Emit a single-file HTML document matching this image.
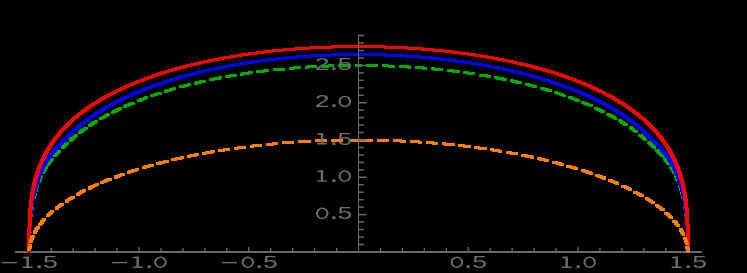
<!DOCTYPE html><html><head><meta charset="utf-8"><style>html,body{margin:0;padding:0;background:#000;}body{width:747px;height:273px;overflow:hidden;}svg{display:block;}text{font-family:"Liberation Mono",monospace;fill:#6e6e6e;}</style></head><body>
<svg width="747" height="273" viewBox="0 0 747 273">
<rect width="747" height="273" fill="#000"/>
<rect shape-rendering="crispEdges" x="15" y="251" width="687" height="2" fill="#6a6a6a"/>
<clipPath id="c"><rect x="0" y="0" width="747" height="252.8"/></clipPath>
<g shape-rendering="crispEdges" stroke="none" clip-path="url(#c)">
<path d="M358.8 66.9 358.3 66.9 357.9 66.9 357.4 66.9 357.1 66.9 356.1 63.9 356.5 63.9 357.1 63.9 357.6 63.9 358.2 63.9Z M356.5 63.9 360.5 63.9 360.5 66.9 356.5 66.9Z M354.6 63.9 358.6 63.9 358.6 66.9 354.6 66.9Z M348.7 67.0 348.2 67.0 347.7 67.0 347.2 67.0 346.7 67.0 346.2 67.0 345.7 67.0 345.1 67.0 344.6 67.0 344.1 67.0 343.6 67.0 343.1 67.1 342.6 67.1 342.1 67.1 341.6 67.1 341.1 67.1 340.6 67.1 338.9 64.1 339.4 64.1 339.9 64.1 340.5 64.1 341.0 64.1 341.5 64.1 342.0 64.1 342.5 64.0 343.1 64.0 343.6 64.0 344.1 64.0 344.6 64.0 345.2 64.0 345.7 64.0 346.2 64.0 346.7 64.0 347.3 64.0Z M346.0 64.0 350.0 64.0 350.0 67.0 346.0 67.0Z M337.7 64.1 341.7 64.1 341.7 67.1 337.7 67.1Z M332.6 67.3 332.0 67.4 331.5 67.4 331.0 67.4 330.5 67.4 330.0 67.4 329.5 67.4 329.0 67.5 328.5 67.5 327.9 67.5 327.4 67.5 326.9 67.5 326.4 67.6 325.9 67.6 325.4 67.6 324.9 67.6 324.4 67.6 322.4 64.7 322.9 64.6 323.5 64.6 324.0 64.6 324.5 64.6 325.0 64.6 325.5 64.5 326.1 64.5 326.6 64.5 327.1 64.5 327.6 64.5 328.1 64.4 328.6 64.4 329.2 64.4 329.7 64.4 330.2 64.4 330.7 64.3Z M329.6 64.3 333.6 64.3 333.6 67.3 329.6 67.3Z M321.4 64.7 325.4 64.7 325.4 67.7 321.4 67.7Z M316.4 68.0 315.9 68.1 315.4 68.1 314.8 68.1 314.3 68.1 313.8 68.2 313.3 68.2 312.8 68.2 312.3 68.3 311.8 68.3 311.3 68.3 310.8 68.4 310.3 68.4 309.8 68.4 309.3 68.4 308.7 68.5 308.2 68.5 308.1 68.5 305.9 65.5 306.1 65.5 306.6 65.5 307.1 65.5 307.6 65.4 308.1 65.4 308.7 65.4 309.2 65.3 309.7 65.3 310.2 65.3 310.7 65.3 311.2 65.2 311.8 65.2 312.3 65.2 312.8 65.1 313.3 65.1 313.8 65.1 314.3 65.1Z M313.4 65.0 317.4 65.0 317.4 68.0 313.4 68.0Z M305.0 65.5 309.0 65.5 309.0 68.5 305.0 68.5Z M300.1 69.1 299.6 69.1 299.1 69.1 298.6 69.2 298.1 69.2 297.6 69.3 297.1 69.3 296.6 69.3 296.1 69.4 295.6 69.4 295.1 69.5 294.6 69.5 294.1 69.5 293.5 69.6 293.0 69.6 292.5 69.7 292.0 69.7 291.9 69.7 289.6 66.8 289.7 66.7 290.3 66.7 290.8 66.7 291.3 66.6 291.8 66.6 292.3 66.5 292.8 66.5 293.3 66.5 293.8 66.4 294.3 66.4 294.8 66.3 295.3 66.3 295.9 66.3 296.4 66.2 296.9 66.2 297.4 66.1 297.9 66.1Z M297.0 66.1 301.0 66.1 301.0 69.1 297.0 69.1Z M288.7 66.7 292.7 66.7 292.7 69.7 288.7 69.7Z M284.0 70.4 283.5 70.5 283.0 70.5 282.5 70.6 282.0 70.6 281.5 70.7 281.0 70.7 280.5 70.8 280.0 70.8 279.5 70.9 279.0 70.9 278.5 71.0 278.0 71.0 277.5 71.1 277.0 71.1 276.5 71.2 276.0 71.2 275.7 71.3 273.2 68.3 273.6 68.3 274.1 68.2 274.6 68.2 275.1 68.1 275.6 68.1 276.1 68.0 276.6 68.0 277.1 67.9 277.6 67.9 278.1 67.8 278.6 67.8 279.1 67.7 279.6 67.7 280.1 67.6 280.6 67.6 281.1 67.5 281.6 67.5Z M280.8 67.5 284.8 67.5 284.8 70.5 280.8 70.5Z M272.5 68.3 276.5 68.3 276.5 71.3 272.5 71.3Z M268.0 72.1 267.5 72.2 267.1 72.3 266.6 72.3 266.1 72.4 265.6 72.4 265.1 72.5 264.6 72.6 264.1 72.6 263.6 72.7 263.1 72.7 262.6 72.8 262.1 72.9 261.6 72.9 261.1 73.0 260.6 73.1 260.2 73.1 259.7 73.2 257.1 70.2 257.6 70.2 258.1 70.1 258.6 70.1 259.1 70.0 259.6 69.9 260.1 69.9 260.6 69.8 261.1 69.7 261.6 69.7 262.1 69.6 262.6 69.6 263.1 69.5 263.6 69.4 264.1 69.4 264.6 69.3 265.1 69.3 265.6 69.2Z M264.8 69.2 268.8 69.2 268.8 72.2 264.8 72.2Z M256.4 70.2 260.4 70.2 260.4 73.2 256.4 73.2Z M252.2 74.2 251.7 74.3 251.2 74.3 250.7 74.4 250.2 74.5 249.7 74.5 249.2 74.6 248.8 74.7 248.3 74.8 247.8 74.8 247.3 74.9 246.8 75.0 246.3 75.0 245.8 75.1 245.4 75.2 244.9 75.3 244.4 75.3 243.9 75.4 243.8 75.4 241.1 72.5 241.3 72.5 241.8 72.4 242.3 72.3 242.7 72.3 243.2 72.2 243.7 72.1 244.2 72.1 244.7 72.0 245.2 71.9 245.7 71.8 246.2 71.8 246.6 71.7 247.1 71.6 247.6 71.5 248.1 71.5 248.6 71.4 249.1 71.3 249.6 71.3Z M248.9 71.2 252.9 71.2 252.9 74.2 248.9 74.2Z M240.4 72.5 244.4 72.5 244.4 75.5 240.4 75.5Z M236.4 76.6 235.9 76.7 235.4 76.8 235.0 76.9 234.5 76.9 234.0 77.0 233.5 77.1 233.0 77.2 232.6 77.3 232.1 77.4 231.6 77.4 231.1 77.5 230.7 77.6 230.2 77.7 229.7 77.8 229.3 77.9 228.8 77.9 228.3 78.0 228.1 78.0 225.4 75.1 225.6 75.1 226.1 75.0 226.5 74.9 227.0 74.9 227.5 74.8 228.0 74.7 228.5 74.6 228.9 74.5 229.4 74.4 229.9 74.4 230.4 74.3 230.8 74.2 231.3 74.1 231.8 74.0 232.3 73.9 232.8 73.9 233.2 73.8 233.7 73.7Z M233.1 73.7 237.1 73.7 237.1 76.7 233.1 76.7Z M224.8 75.1 228.8 75.1 228.8 78.1 224.8 78.1Z M220.9 79.4 220.5 79.5 220.0 79.6 219.5 79.7 219.1 79.8 218.6 79.8 218.1 79.9 217.7 80.0 217.2 80.1 216.7 80.2 216.3 80.3 215.8 80.4 215.4 80.5 214.9 80.6 214.4 80.7 214.0 80.8 213.5 80.9 213.0 81.0 212.6 81.1 209.8 78.2 210.2 78.1 210.7 78.0 211.2 77.9 211.6 77.8 212.1 77.7 212.6 77.6 213.0 77.5 213.5 77.4 214.0 77.3 214.4 77.2 214.9 77.1 215.4 77.0 215.8 76.9 216.3 76.9 216.8 76.8 217.2 76.7 217.7 76.6 218.2 76.5Z M217.6 76.4 221.6 76.4 221.6 79.4 217.6 79.4Z M209.2 78.1 213.2 78.1 213.2 81.1 209.2 81.1Z M205.7 82.5 205.2 82.6 204.8 82.7 204.3 82.8 203.9 82.9 203.4 83.0 203.0 83.2 202.5 83.3 202.1 83.4 201.6 83.5 201.2 83.6 200.7 83.7 200.3 83.8 199.8 83.9 199.4 84.0 198.9 84.1 198.5 84.2 198.0 84.3 197.6 84.4 197.4 84.4 194.5 81.6 194.7 81.5 195.1 81.4 195.6 81.3 196.0 81.2 196.5 81.1 196.9 81.0 197.4 80.9 197.8 80.8 198.3 80.7 198.8 80.6 199.2 80.5 199.7 80.4 200.1 80.3 200.6 80.2 201.0 80.1 201.5 80.0 201.9 79.9 202.4 79.8 202.9 79.7Z M202.3 79.6 206.3 79.6 206.3 82.6 202.3 82.6Z M194.0 81.5 198.0 81.5 198.0 84.5 194.0 84.5Z M190.6 86.1 190.1 86.2 189.7 86.3 189.3 86.5 188.8 86.6 188.4 86.7 187.9 86.8 187.5 86.9 187.1 87.0 186.6 87.1 186.2 87.2 185.7 87.4 185.3 87.5 184.9 87.6 184.4 87.7 184.0 87.8 183.6 87.9 183.1 88.1 182.7 88.2 182.5 88.2 179.6 85.4 179.7 85.3 180.2 85.2 180.6 85.1 181.0 85.0 181.5 84.9 181.9 84.7 182.4 84.6 182.8 84.5 183.2 84.4 183.7 84.3 184.1 84.2 184.6 84.0 185.0 83.9 185.4 83.8 185.9 83.7 186.3 83.6 186.8 83.5 187.2 83.4 187.7 83.2Z M187.1 83.2 191.1 83.2 191.1 86.2 187.1 86.2Z M179.1 85.3 183.1 85.3 183.1 88.3 179.1 88.3Z M175.9 90.1 175.5 90.2 175.1 90.3 174.6 90.4 174.2 90.5 173.8 90.7 173.4 90.8 172.9 90.9 172.5 91.0 172.1 91.2 171.7 91.3 171.2 91.4 170.8 91.5 170.4 91.7 170.0 91.8 169.6 91.9 169.1 92.1 168.7 92.2 168.3 92.3 167.9 92.4 164.9 89.6 165.3 89.5 165.7 89.3 166.1 89.2 166.5 89.1 167.0 89.0 167.4 88.8 167.8 88.7 168.2 88.6 168.7 88.5 169.1 88.3 169.5 88.2 169.9 88.1 170.4 88.0 170.8 87.8 171.2 87.7 171.7 87.6 172.1 87.5 172.5 87.3 172.9 87.2Z M172.4 87.1 176.4 87.1 176.4 90.1 172.4 90.1Z M164.4 89.5 168.4 89.5 168.4 92.5 164.4 92.5Z M161.7 94.4 161.2 94.5 160.8 94.7 160.4 94.8 160.0 94.9 159.6 95.1 159.2 95.2 158.8 95.3 158.4 95.5 158.0 95.6 157.6 95.8 157.2 95.9 156.7 96.0 156.3 96.2 155.9 96.3 155.5 96.4 155.1 96.6 154.7 96.7 154.3 96.9 153.9 97.0 153.8 97.0 150.7 94.2 150.8 94.2 151.2 94.0 151.6 93.9 152.0 93.8 152.4 93.6 152.9 93.5 153.3 93.4 153.7 93.2 154.1 93.1 154.5 92.9 154.9 92.8 155.3 92.7 155.7 92.5 156.1 92.4 156.5 92.3 156.9 92.1 157.4 92.0 157.8 91.8 158.2 91.7 158.6 91.6Z M158.1 91.5 162.1 91.5 162.1 94.5 158.1 94.5Z M150.2 94.1 154.2 94.1 154.2 97.1 150.2 97.1Z M147.7 99.2 147.3 99.4 146.9 99.5 146.5 99.7 146.1 99.8 145.7 100.0 145.3 100.1 144.9 100.2 144.5 100.4 144.2 100.5 143.8 100.7 143.4 100.8 143.0 101.0 142.6 101.1 142.2 101.3 141.8 101.4 141.4 101.6 141.1 101.7 140.7 101.9 140.3 102.0 140.2 102.1 137.0 99.3 137.1 99.2 137.5 99.1 137.9 98.9 138.3 98.8 138.7 98.6 139.1 98.5 139.4 98.3 139.8 98.2 140.2 98.0 140.6 97.9 141.0 97.7 141.4 97.6 141.8 97.5 142.2 97.3 142.6 97.2 143.0 97.0 143.4 96.9 143.8 96.7 144.2 96.6 144.6 96.4Z M144.1 96.3 148.1 96.3 148.1 99.3 144.1 99.3Z M136.6 99.2 140.6 99.2 140.6 102.2 136.6 102.2Z M134.3 104.4 134.0 104.6 133.6 104.8 133.2 104.9 132.8 105.1 132.5 105.2 132.1 105.4 131.7 105.5 131.3 105.7 131.0 105.9 130.6 106.0 130.2 106.2 129.9 106.3 129.5 106.5 129.1 106.7 128.8 106.8 128.4 107.0 128.0 107.1 127.7 107.3 127.3 107.5 127.1 107.6 123.8 104.8 124.1 104.7 124.4 104.5 124.8 104.4 125.2 104.2 125.5 104.1 125.9 103.9 126.3 103.7 126.7 103.6 127.0 103.4 127.4 103.2 127.8 103.1 128.1 102.9 128.5 102.8 128.9 102.6 129.3 102.5 129.6 102.3 130.0 102.1 130.4 102.0 130.8 101.8 131.1 101.7Z M130.7 101.6 134.7 101.6 134.7 104.6 130.7 104.6Z M123.4 104.7 127.4 104.7 127.4 107.7 123.4 107.7Z M121.5 110.1 121.2 110.3 120.8 110.4 120.5 110.6 120.1 110.8 119.8 110.9 119.4 111.1 119.1 111.3 118.7 111.4 118.4 111.6 118.0 111.8 117.7 112.0 117.3 112.1 117.0 112.3 116.6 112.5 116.3 112.6 115.9 112.8 115.6 113.0 115.2 113.2 114.9 113.3 114.7 113.5 111.4 110.7 111.6 110.6 111.9 110.4 112.3 110.3 112.6 110.1 113.0 109.9 113.3 109.7 113.7 109.6 114.0 109.4 114.4 109.2 114.7 109.1 115.1 108.9 115.4 108.7 115.8 108.5 116.1 108.4 116.5 108.2 116.9 108.0 117.2 107.9 117.6 107.7 117.9 107.5 118.3 107.4Z M117.9 107.2 121.9 107.2 121.9 110.2 117.9 110.2Z M111.0 110.6 115.0 110.6 115.0 113.6 111.0 113.6Z M109.5 116.2 109.1 116.3 108.8 116.5 108.5 116.7 108.1 116.9 107.8 117.1 107.5 117.2 107.1 117.4 106.8 117.6 106.5 117.8 106.2 118.0 105.8 118.2 105.5 118.3 105.2 118.5 104.8 118.7 104.5 118.9 104.2 119.1 103.9 119.3 103.5 119.4 103.2 119.6 103.0 119.7 99.6 117.1 99.9 116.9 100.2 116.7 100.5 116.6 100.8 116.4 101.2 116.2 101.5 116.0 101.8 115.8 102.1 115.6 102.5 115.5 102.8 115.3 103.1 115.1 103.5 114.9 103.8 114.7 104.1 114.5 104.5 114.4 104.8 114.2 105.1 114.0 105.5 113.8 105.8 113.6 106.1 113.5Z M105.8 113.3 109.8 113.3 109.8 116.3 105.8 116.3Z M99.3 116.9 103.3 116.9 103.3 119.9 99.3 119.9Z M98.0 122.7 97.7 122.9 97.4 123.1 97.1 123.3 96.8 123.5 96.5 123.7 96.2 123.9 95.9 124.0 95.6 124.2 95.3 124.4 95.0 124.6 94.6 124.8 94.3 125.0 94.0 125.2 93.7 125.4 93.4 125.6 93.1 125.8 92.8 126.0 92.5 126.2 92.2 126.4 92.0 126.5 88.6 123.9 88.8 123.7 89.1 123.5 89.4 123.3 89.7 123.1 90.0 122.9 90.3 122.8 90.6 122.6 90.9 122.4 91.2 122.2 91.5 122.0 91.9 121.8 92.2 121.6 92.5 121.4 92.8 121.2 93.1 121.0 93.4 120.8 93.7 120.6 94.0 120.4 94.3 120.2 94.7 120.0Z M94.3 119.9 98.3 119.9 98.3 122.9 94.3 122.9Z M88.3 123.7 92.3 123.7 92.3 126.7 88.3 126.7Z M87.5 129.6 87.2 129.8 86.9 130.0 86.7 130.2 86.4 130.4 86.1 130.6 85.8 130.8 85.5 131.0 85.2 131.2 85.0 131.4 84.7 131.6 84.4 131.9 84.1 132.1 83.8 132.3 83.5 132.5 83.3 132.7 83.0 132.9 82.7 133.1 82.4 133.3 82.2 133.5 82.0 133.7 78.5 131.1 78.7 130.9 78.9 130.7 79.2 130.5 79.5 130.3 79.8 130.1 80.1 129.9 80.3 129.7 80.6 129.4 80.9 129.2 81.2 129.0 81.5 128.8 81.8 128.6 82.1 128.4 82.3 128.2 82.6 128.0 82.9 127.8 83.2 127.6 83.5 127.4 83.8 127.2 84.1 127.0Z M83.8 126.8 87.8 126.8 87.8 129.8 83.8 129.8Z M78.2 130.9 82.2 130.9 82.2 133.9 78.2 133.9Z M77.8 136.9 77.6 137.1 77.3 137.4 77.0 137.6 76.8 137.8 76.5 138.0 76.3 138.2 76.0 138.4 75.7 138.7 75.5 138.9 75.2 139.1 75.0 139.3 74.7 139.5 74.4 139.8 74.2 140.0 73.9 140.2 73.7 140.4 73.4 140.6 73.2 140.9 72.9 141.1 72.8 141.2 69.2 138.7 69.4 138.5 69.6 138.3 69.9 138.1 70.1 137.9 70.4 137.6 70.6 137.4 70.9 137.2 71.2 137.0 71.4 136.8 71.7 136.5 71.9 136.3 72.2 136.1 72.5 135.9 72.7 135.7 73.0 135.4 73.3 135.2 73.5 135.0 73.8 134.8 74.0 134.6 74.3 134.3Z M74.1 134.1 78.1 134.1 78.1 137.1 74.1 137.1Z M69.0 138.5 73.0 138.5 73.0 141.5 69.0 141.5Z M69.1 144.6 68.8 144.9 68.6 145.1 68.4 145.3 68.1 145.5 67.9 145.8 67.6 146.0 67.4 146.2 67.2 146.5 66.9 146.7 66.7 146.9 66.5 147.2 66.2 147.4 66.0 147.6 65.8 147.8 65.5 148.1 65.3 148.3 65.1 148.5 64.8 148.7 64.6 148.9 64.5 149.1 60.9 146.5 61.0 146.4 61.3 146.2 61.5 146.0 61.7 145.7 62.0 145.5 62.2 145.3 62.4 145.1 62.6 144.9 62.9 144.7 63.1 144.4 63.3 144.2 63.6 144.0 63.8 143.7 64.0 143.5 64.3 143.3 64.5 143.0 64.8 142.8 65.0 142.6 65.2 142.3 65.5 142.1Z M65.3 141.9 69.3 141.9 69.3 144.9 65.3 144.9Z M60.7 146.3 64.7 146.3 64.7 149.3 60.7 149.3Z M60.9 152.5 60.7 152.8 60.5 153.0 60.3 153.2 60.1 153.4 59.9 153.6 59.7 153.9 59.5 154.1 59.2 154.3 59.0 154.5 58.8 154.8 58.6 155.0 58.4 155.2 58.2 155.4 58.0 155.6 57.8 155.9 57.6 156.1 57.4 156.3 57.2 156.5 57.0 156.8 56.8 157.0 56.7 157.1 53.1 154.6 53.2 154.5 53.4 154.3 53.6 154.1 53.8 153.8 54.0 153.6 54.2 153.4 54.4 153.2 54.6 152.9 54.8 152.7 55.0 152.5 55.2 152.3 55.4 152.0 55.6 151.8 55.8 151.6 56.0 151.4 56.3 151.2 56.5 150.9 56.7 150.7 56.9 150.5 57.1 150.3 57.3 150.0Z M57.1 149.8 61.1 149.8 61.1 152.8 57.1 152.8Z M52.9 154.3 56.9 154.3 56.9 157.3 52.9 157.3Z M53.7 160.6 53.5 160.8 53.3 161.1 53.1 161.3 53.0 161.5 52.8 161.8 52.6 162.0 52.4 162.2 52.2 162.5 52.0 162.7 51.9 162.9 51.7 163.1 51.5 163.4 51.3 163.6 51.1 163.8 51.0 164.1 50.8 164.3 50.6 164.5 50.4 164.8 50.3 165.0 50.1 165.2 50.0 165.3 46.3 162.9 46.4 162.9 46.6 162.6 46.7 162.4 46.9 162.1 47.1 161.9 47.3 161.7 47.5 161.4 47.6 161.2 47.8 161.0 48.0 160.7 48.2 160.5 48.4 160.3 48.5 160.0 48.7 159.8 48.9 159.6 49.1 159.3 49.3 159.1 49.5 158.9 49.7 158.6 49.8 158.4 50.0 158.2Z M49.9 157.9 53.9 157.9 53.9 160.9 49.9 160.9Z M46.2 162.6 50.2 162.6 50.2 165.6 46.2 165.6Z M47.4 169.0 47.3 169.3 47.1 169.5 46.9 169.8 46.7 170.1 46.5 170.5 46.4 170.7 46.2 171.0 46.1 171.2 45.9 171.5 45.7 171.8 45.6 172.1 45.4 172.4 45.3 172.6 45.1 172.9 45.0 173.2 44.9 173.5 44.7 173.8 40.9 171.5 41.1 171.3 41.2 171.0 41.4 170.7 41.5 170.4 41.7 170.1 41.8 169.8 42.0 169.5 42.1 169.3 42.3 169.0 42.4 168.7 42.6 168.4 42.8 168.1 43.0 167.8 43.2 167.5 43.4 167.2 43.6 166.9 43.7 166.7Z M43.6 166.3 47.6 166.3 47.6 169.3 43.6 169.3Z M40.8 171.2 44.8 171.2 44.8 174.2 40.8 174.2Z M42.8 177.6 42.7 177.9 42.6 178.2 42.4 178.5 42.3 178.8 42.2 179.1 42.0 179.4 41.9 179.7 41.8 180.0 41.6 180.3 41.5 180.6 41.4 180.9 41.3 181.2 41.1 181.5 41.0 181.8 40.9 182.1 40.8 182.4 40.7 182.6 36.8 180.5 36.9 180.3 37.0 179.9 37.2 179.6 37.3 179.3 37.4 179.0 37.5 178.7 37.7 178.4 37.8 178.1 37.9 177.8 38.1 177.5 38.2 177.2 38.3 176.9 38.5 176.6 38.6 176.3 38.7 176.0 38.9 175.7 39.0 175.4Z M38.9 175.0 42.9 175.0 42.9 178.0 38.9 178.0Z M36.8 180.0 40.8 180.0 40.8 183.0 36.8 183.0Z M39.2 186.5 39.1 186.8 39.0 187.1 38.9 187.5 38.7 187.8 38.6 188.1 38.5 188.4 38.4 188.7 38.3 189.0 38.2 189.4 38.1 189.7 38.0 190.0 37.9 190.3 37.8 190.7 37.7 191.0 37.6 191.3 37.6 191.4 33.7 189.4 33.7 189.3 33.8 189.0 33.9 188.6 34.0 188.3 34.1 188.0 34.2 187.6 34.3 187.3 34.4 187.0 34.5 186.7 34.7 186.3 34.8 186.0 34.9 185.7 35.0 185.4 35.1 185.1 35.2 184.7 35.3 184.4Z M35.3 184.0 39.3 184.0 39.3 187.0 35.3 187.0Z M33.6 188.9 37.6 188.9 37.6 191.9 33.6 191.9Z M36.4 195.4 36.3 195.7 36.2 196.1 36.1 196.4 36.0 196.8 36.0 197.1 35.9 197.5 35.8 197.8 35.7 198.2 35.6 198.5 35.5 198.8 35.5 199.2 35.4 199.6 35.3 199.9 35.2 200.3 35.2 200.4 31.3 198.5 31.3 198.4 31.4 198.0 31.5 197.7 31.5 197.3 31.6 196.9 31.7 196.6 31.8 196.2 31.9 195.9 32.0 195.5 32.1 195.2 32.1 194.8 32.2 194.5 32.3 194.1 32.4 193.8 32.5 193.5Z M32.5 192.9 36.5 192.9 36.5 195.9 32.5 195.9Z M31.2 197.9 35.2 197.9 35.2 200.9 31.2 200.9Z M34.4 204.4 34.3 204.7 34.2 205.1 34.1 205.5 34.1 205.8 34.0 206.2 33.9 206.6 33.9 207.0 33.8 207.3 33.8 207.7 33.7 208.1 33.6 208.5 33.6 208.9 33.5 209.3 33.5 209.4 29.5 207.7 29.6 207.5 29.6 207.1 29.7 206.8 29.7 206.4 29.8 206.0 29.9 205.6 29.9 205.2 30.0 204.8 30.1 204.4 30.1 204.0 30.2 203.7 30.3 203.3 30.4 202.9 30.4 202.5Z M30.4 201.9 34.4 201.9 34.4 204.9 30.4 204.9Z M29.5 207.0 33.5 207.0 33.5 210.0 29.5 210.0Z M32.9 213.4 32.9 213.8 32.8 214.2 32.8 214.6 32.7 215.0 32.7 215.5 32.6 215.9 32.6 216.3 32.5 216.7 32.5 217.2 32.4 217.6 32.4 218.0 32.4 218.5 28.4 216.9 28.4 216.5 28.5 216.0 28.5 215.6 28.6 215.1 28.6 214.7 28.7 214.3 28.7 213.8 28.8 213.4 28.8 213.0 28.9 212.6 28.9 212.2 29.0 211.7Z M28.9 211.1 32.9 211.1 32.9 214.1 28.9 214.1Z M28.4 216.2 32.4 216.2 32.4 219.2 28.4 219.2Z M32.0 222.3 32.0 222.8 32.0 223.3 31.9 223.7 31.9 224.2 31.9 224.7 31.8 225.2 31.8 225.7 31.8 226.1 31.7 226.6 31.7 227.1 31.7 227.3 27.7 226.0 27.7 225.8 27.8 225.3 27.8 224.8 27.8 224.3 27.8 223.8 27.9 223.3 27.9 222.8 27.9 222.3 28.0 221.8 28.0 221.4 28.0 220.9Z M28.0 220.1 32.0 220.1 32.0 223.1 28.0 223.1Z M27.7 225.1 31.7 225.1 31.7 228.1 27.7 228.1Z M31.5 231.3 31.5 231.9 31.5 232.4 31.5 233.0 31.4 233.6 31.4 234.0 31.4 234.3 31.4 234.7 31.4 235.1 31.4 235.5 31.4 235.9 31.4 236.4 27.4 235.3 27.4 234.9 27.4 234.4 27.4 234.0 27.4 233.6 27.4 233.2 27.4 232.8 27.5 232.4 27.5 231.8 27.5 231.2 27.5 230.7 27.5 230.1Z M27.5 229.2 31.5 229.2 31.5 232.2 27.5 232.2Z M27.4 234.3 31.4 234.3 31.4 237.3 27.4 237.3Z M31.3 240.3 31.3 240.8 31.3 241.3 31.3 241.8 31.3 242.3 31.3 242.8 31.3 243.3 31.3 243.9 31.3 244.5 31.3 245.1 31.3 245.4 27.3 244.6 27.3 244.3 27.3 243.7 27.3 243.1 27.3 242.5 27.3 242.0 27.3 241.4 27.3 240.9 27.3 240.4 27.3 239.9 27.3 239.4Z M27.3 238.3 31.3 238.3 31.3 241.3 27.3 241.3Z M27.3 243.5 31.3 243.5 31.3 246.5 27.3 246.5Z M31.3 249.3 31.3 249.8 31.3 250.3 31.3 250.9 31.2 252.0 27.3 251.8 27.3 250.7 27.3 250.0 27.3 249.4 27.3 248.9Z M27.3 247.6 31.3 247.6 31.3 250.6 27.3 250.6Z M27.2 250.4 31.2 250.4 31.2 253.4 27.2 253.4Z M358.8 63.9 359.4 63.9 359.9 63.9 360.1 63.9 359.3 66.9 359.1 66.9 358.7 66.9 358.2 66.9Z M356.5 63.9 360.5 63.9 360.5 66.9 356.5 66.9Z M357.7 63.9 361.7 63.9 361.7 66.9 357.7 66.9Z M368.7 64.0 369.2 64.0 369.7 64.0 370.3 64.0 370.8 64.0 371.3 64.0 371.8 64.0 372.4 64.0 372.9 64.0 373.4 64.0 373.9 64.0 374.5 64.0 375.0 64.1 375.5 64.1 376.0 64.1 376.5 64.1 376.9 64.1 375.3 67.1 374.9 67.1 374.4 67.1 373.9 67.1 373.4 67.0 372.9 67.0 372.4 67.0 371.9 67.0 371.3 67.0 370.8 67.0 370.3 67.0 369.8 67.0 369.3 67.0 368.8 67.0 368.3 67.0 367.8 67.0 367.3 67.0Z M366.0 64.0 370.0 64.0 370.0 67.0 366.0 67.0Z M374.1 64.1 378.1 64.1 378.1 67.1 374.1 67.1Z M385.2 64.3 385.8 64.3 386.3 64.3 386.8 64.4 387.3 64.4 387.8 64.4 388.4 64.4 388.9 64.4 389.4 64.5 389.9 64.5 390.4 64.5 390.9 64.5 391.5 64.5 392.0 64.6 392.5 64.6 393.0 64.6 393.5 64.6 391.6 67.6 391.1 67.6 390.6 67.6 390.1 67.5 389.6 67.5 389.1 67.5 388.5 67.5 388.0 67.5 387.5 67.4 387.0 67.4 386.5 67.4 386.0 67.4 385.5 67.4 385.0 67.4 384.5 67.3 383.9 67.3 383.4 67.3Z M382.3 64.3 386.3 64.3 386.3 67.3 382.3 67.3Z M390.6 64.6 394.6 64.6 394.6 67.6 390.6 67.6Z M401.6 65.0 402.2 65.0 402.7 65.1 403.2 65.1 403.7 65.1 404.2 65.1 404.7 65.2 405.2 65.2 405.8 65.2 406.3 65.3 406.8 65.3 407.3 65.3 407.8 65.3 408.3 65.4 408.9 65.4 409.4 65.4 409.9 65.5 410.0 65.5 407.9 68.5 407.7 68.4 407.2 68.4 406.7 68.4 406.2 68.4 405.7 68.3 405.2 68.3 404.7 68.3 404.2 68.2 403.7 68.2 403.2 68.2 402.7 68.1 402.2 68.1 401.6 68.1 401.1 68.1 400.6 68.0 400.1 68.0 399.6 68.0Z M398.6 65.0 402.6 65.0 402.6 68.0 398.6 68.0Z M407.0 65.5 411.0 65.5 411.0 68.5 407.0 68.5Z M417.9 66.0 418.4 66.1 418.9 66.1 419.4 66.1 420.0 66.2 420.5 66.2 421.0 66.2 421.5 66.3 422.0 66.3 422.5 66.4 423.0 66.4 423.5 66.4 424.0 66.5 424.5 66.5 425.1 66.6 425.6 66.6 426.1 66.6 426.4 66.7 424.1 69.6 423.8 69.6 423.3 69.6 422.8 69.5 422.3 69.5 421.8 69.4 421.3 69.4 420.8 69.4 420.3 69.3 419.7 69.3 419.2 69.2 418.7 69.2 418.2 69.2 417.7 69.1 417.2 69.1 416.7 69.1 416.2 69.0 415.7 69.0Z M414.8 66.0 418.8 66.0 418.8 69.0 414.8 69.0Z M423.3 66.7 427.3 66.7 427.3 69.7 423.3 69.7Z M434.2 67.4 434.7 67.4 435.2 67.5 435.7 67.5 436.2 67.6 436.7 67.6 437.2 67.7 437.7 67.7 438.2 67.8 438.7 67.8 439.2 67.9 439.7 67.9 440.2 68.0 440.7 68.0 441.2 68.1 441.8 68.1 442.3 68.2 442.6 68.2 440.2 71.2 439.8 71.1 439.3 71.1 438.8 71.0 438.3 71.0 437.8 70.9 437.3 70.9 436.8 70.8 436.3 70.8 435.8 70.7 435.3 70.7 434.8 70.6 434.3 70.6 433.8 70.5 433.3 70.5 432.8 70.4 432.3 70.4 431.8 70.3Z M431.0 67.3 435.0 67.3 435.0 70.3 431.0 70.3Z M439.4 68.2 443.4 68.2 443.4 71.2 439.4 71.2Z M450.3 69.1 450.8 69.1 451.3 69.2 451.8 69.2 452.3 69.3 452.8 69.4 453.3 69.4 453.8 69.5 454.2 69.5 454.7 69.6 455.2 69.7 455.7 69.7 456.2 69.8 456.7 69.8 457.2 69.9 457.7 70.0 458.2 70.0 458.7 70.1 456.2 73.0 455.7 73.0 455.2 72.9 454.7 72.8 454.2 72.8 453.7 72.7 453.2 72.7 452.7 72.6 452.3 72.5 451.8 72.5 451.3 72.4 450.8 72.4 450.3 72.3 449.8 72.2 449.3 72.2 448.8 72.1 448.3 72.1 447.8 72.0Z M447.0 69.0 451.0 69.0 451.0 72.0 447.0 72.0Z M455.5 70.1 459.5 70.1 459.5 73.1 455.5 73.1Z M466.3 71.1 466.8 71.2 467.3 71.2 467.7 71.3 468.2 71.4 468.7 71.5 469.2 71.5 469.7 71.6 470.2 71.7 470.7 71.7 471.2 71.8 471.7 71.9 472.1 72.0 472.6 72.0 473.1 72.1 473.6 72.2 474.1 72.2 474.6 72.3 474.7 72.3 472.1 75.3 472.0 75.2 471.5 75.2 471.0 75.1 470.5 75.0 470.0 75.0 469.5 74.9 469.1 74.8 468.6 74.7 468.1 74.7 467.6 74.6 467.1 74.5 466.6 74.5 466.1 74.4 465.7 74.3 465.2 74.2 464.7 74.2 464.2 74.1 463.7 74.0Z M463.0 71.1 467.0 71.1 467.0 74.1 463.0 74.1Z M471.4 72.3 475.4 72.3 475.4 75.3 471.4 75.3Z M482.2 73.5 482.6 73.6 483.1 73.7 483.6 73.8 484.1 73.8 484.6 73.9 485.0 74.0 485.5 74.1 486.0 74.2 486.5 74.2 487.0 74.3 487.4 74.4 487.9 74.5 488.4 74.6 488.9 74.7 489.3 74.7 489.8 74.8 490.3 74.9 490.6 75.0 487.9 77.9 487.6 77.8 487.1 77.7 486.6 77.7 486.2 77.6 485.7 77.5 485.2 77.4 484.7 77.3 484.3 77.2 483.8 77.2 483.3 77.1 482.8 77.0 482.4 76.9 481.9 76.8 481.4 76.8 480.9 76.7 480.5 76.6 480.0 76.5 479.5 76.4Z M478.8 73.5 482.8 73.5 482.8 76.5 478.8 76.5Z M487.3 74.9 491.3 74.9 491.3 77.9 487.3 77.9Z M497.7 76.3 498.2 76.4 498.7 76.5 499.1 76.6 499.6 76.6 500.1 76.7 500.5 76.8 501.0 76.9 501.5 77.0 501.9 77.1 502.4 77.2 502.9 77.3 503.3 77.4 503.8 77.5 504.3 77.6 504.7 77.7 505.2 77.8 505.7 77.9 506.1 77.9 503.3 80.8 502.9 80.7 502.4 80.7 502.0 80.6 501.5 80.5 501.0 80.4 500.6 80.3 500.1 80.2 499.6 80.1 499.2 80.0 498.7 79.9 498.2 79.8 497.8 79.7 497.3 79.6 496.8 79.5 496.4 79.5 495.9 79.4 495.4 79.3 495.0 79.2Z M494.3 76.2 498.3 76.2 498.3 79.2 494.3 79.2Z M502.7 77.9 506.7 77.9 506.7 80.9 502.7 80.9Z M513.2 79.5 513.7 79.6 514.1 79.7 514.6 79.8 515.1 79.9 515.5 80.0 516.0 80.1 516.4 80.2 516.9 80.3 517.3 80.4 517.8 80.5 518.2 80.6 518.7 80.7 519.2 80.8 519.6 80.9 520.1 81.0 520.5 81.1 521.0 81.2 521.4 81.3 518.5 84.2 518.1 84.1 517.6 84.0 517.2 83.9 516.7 83.8 516.3 83.7 515.8 83.6 515.4 83.5 514.9 83.4 514.5 83.3 514.0 83.2 513.6 83.0 513.1 82.9 512.7 82.8 512.2 82.7 511.8 82.6 511.3 82.5 510.8 82.4 510.4 82.3Z M509.8 79.4 513.8 79.4 513.8 82.4 509.8 82.4Z M518.0 81.3 522.0 81.3 522.0 84.3 518.0 84.3Z M528.3 83.0 528.7 83.1 529.2 83.2 529.6 83.3 530.1 83.4 530.5 83.5 531.0 83.7 531.4 83.8 531.8 83.9 532.3 84.0 532.7 84.1 533.2 84.2 533.6 84.3 534.1 84.5 534.5 84.6 534.9 84.7 535.4 84.8 535.8 84.9 536.2 85.0 536.5 85.1 533.6 88.0 533.3 87.9 532.9 87.8 532.4 87.7 532.0 87.6 531.6 87.4 531.1 87.3 530.7 87.2 530.2 87.1 529.8 87.0 529.4 86.9 528.9 86.8 528.5 86.6 528.0 86.5 527.6 86.4 527.2 86.3 526.7 86.2 526.3 86.1 525.8 86.0 525.4 85.9Z M524.8 82.9 528.8 82.9 528.8 85.9 524.8 85.9Z M533.1 85.1 537.1 85.1 537.1 88.1 533.1 88.1Z M543.1 86.9 543.5 87.0 543.9 87.2 544.3 87.3 544.8 87.4 545.2 87.5 545.6 87.7 546.1 87.8 546.5 87.9 546.9 88.0 547.3 88.2 547.8 88.3 548.2 88.4 548.6 88.5 549.0 88.7 549.5 88.8 549.9 88.9 550.3 89.0 550.7 89.2 551.2 89.3 548.1 92.1 547.7 92.0 547.3 91.9 546.9 91.8 546.5 91.6 546.0 91.5 545.6 91.4 545.2 91.3 544.8 91.1 544.3 91.0 543.9 90.9 543.5 90.8 543.1 90.6 542.6 90.5 542.2 90.4 541.8 90.3 541.4 90.1 540.9 90.0 540.5 89.9 540.1 89.8Z M539.6 86.8 543.6 86.8 543.6 89.8 539.6 89.8Z M547.6 89.2 551.6 89.2 551.6 92.2 547.6 92.2Z M557.4 91.3 557.9 91.4 558.3 91.5 558.7 91.7 559.1 91.8 559.5 91.9 559.9 92.1 560.3 92.2 560.7 92.3 561.2 92.5 561.6 92.6 562.0 92.8 562.4 92.9 562.8 93.0 563.2 93.2 563.6 93.3 564.0 93.4 564.4 93.6 564.8 93.7 565.2 93.9 565.4 93.9 562.3 96.7 562.1 96.7 561.7 96.5 561.3 96.4 560.9 96.3 560.5 96.1 560.1 96.0 559.7 95.8 559.3 95.7 558.9 95.6 558.5 95.4 558.1 95.3 557.7 95.2 557.3 95.0 556.9 94.9 556.4 94.8 556.0 94.6 555.6 94.5 555.2 94.4 554.8 94.2 554.4 94.1Z M553.9 91.2 557.9 91.2 557.9 94.2 553.9 94.2Z M561.8 93.8 565.8 93.8 565.8 96.8 561.8 96.8Z M571.5 96.1 571.9 96.2 572.3 96.4 572.7 96.5 573.1 96.7 573.5 96.8 573.9 97.0 574.3 97.1 574.7 97.3 575.1 97.4 575.5 97.6 575.9 97.7 576.3 97.8 576.6 98.0 577.0 98.1 577.4 98.3 577.8 98.4 578.2 98.6 578.6 98.7 579.0 98.9 579.1 98.9 575.9 101.7 575.8 101.7 575.4 101.5 575.0 101.4 574.7 101.2 574.3 101.1 573.9 100.9 573.5 100.8 573.1 100.6 572.7 100.5 572.3 100.3 571.9 100.2 571.5 100.1 571.2 99.9 570.8 99.8 570.4 99.6 570.0 99.5 569.6 99.3 569.2 99.2 568.8 99.0 568.4 98.9Z M568.0 96.0 572.0 96.0 572.0 99.0 568.0 99.0Z M575.5 98.8 579.5 98.8 579.5 101.8 575.5 101.8Z M585.0 101.3 585.4 101.5 585.7 101.6 586.1 101.8 586.5 101.9 586.9 102.1 587.2 102.2 587.6 102.4 588.0 102.6 588.4 102.7 588.7 102.9 589.1 103.0 589.5 103.2 589.9 103.4 590.2 103.5 590.6 103.7 591.0 103.8 591.3 104.0 591.7 104.2 592.1 104.3 592.3 104.4 589.1 107.2 588.8 107.1 588.5 106.9 588.1 106.8 587.7 106.6 587.4 106.4 587.0 106.3 586.6 106.1 586.3 106.0 585.9 105.8 585.5 105.6 585.2 105.5 584.8 105.3 584.4 105.2 584.0 105.0 583.7 104.9 583.3 104.7 582.9 104.5 582.5 104.4 582.2 104.2 581.8 104.1Z M581.4 101.2 585.4 101.2 585.4 104.2 581.4 104.2Z M588.7 104.3 592.7 104.3 592.7 107.3 588.7 107.3Z M597.9 107.0 598.2 107.1 598.6 107.3 599.0 107.5 599.3 107.6 599.7 107.8 600.0 108.0 600.4 108.1 600.7 108.3 601.1 108.5 601.4 108.7 601.8 108.8 602.1 109.0 602.5 109.2 602.8 109.3 603.2 109.5 603.5 109.7 603.9 109.9 604.2 110.0 604.6 110.2 604.8 110.3 601.5 113.1 601.3 112.9 601.0 112.8 600.6 112.6 600.3 112.4 599.9 112.2 599.6 112.1 599.2 111.9 598.9 111.7 598.5 111.6 598.2 111.4 597.8 111.2 597.5 111.1 597.1 110.9 596.8 110.7 596.4 110.5 596.1 110.4 595.7 110.2 595.3 110.0 595.0 109.9 594.6 109.7Z M594.3 106.8 598.3 106.8 598.3 109.8 594.3 109.8Z M601.2 110.2 605.2 110.2 605.2 113.2 601.2 113.2Z M610.1 113.0 610.4 113.2 610.7 113.4 611.1 113.6 611.4 113.8 611.8 113.9 612.1 114.1 612.4 114.3 612.8 114.5 613.1 114.7 613.4 114.8 613.8 115.0 614.1 115.2 614.4 115.4 614.7 115.6 615.1 115.8 615.4 115.9 615.7 116.1 616.1 116.3 616.4 116.5 616.6 116.6 613.2 119.3 613.0 119.2 612.7 119.0 612.4 118.8 612.0 118.6 611.7 118.5 611.4 118.3 611.1 118.1 610.7 117.9 610.4 117.7 610.1 117.5 609.8 117.4 609.4 117.2 609.1 117.0 608.8 116.8 608.4 116.6 608.1 116.5 607.8 116.3 607.4 116.1 607.1 115.9 606.8 115.7Z M606.4 112.9 610.4 112.9 610.4 115.9 606.4 115.9Z M612.9 116.5 616.9 116.5 616.9 119.5 612.9 119.5Z M621.6 119.6 621.9 119.8 622.2 120.0 622.6 120.2 622.9 120.3 623.2 120.5 623.5 120.7 623.8 120.9 624.1 121.1 624.4 121.3 624.7 121.5 625.0 121.7 625.4 121.9 625.7 122.1 626.0 122.3 626.3 122.5 626.6 122.7 626.9 122.9 627.2 123.1 627.5 123.3 627.7 123.4 624.3 126.1 624.1 125.9 623.8 125.7 623.5 125.5 623.2 125.3 622.9 125.1 622.6 125.0 622.2 124.8 621.9 124.6 621.6 124.4 621.3 124.2 621.0 124.0 620.7 123.8 620.4 123.6 620.1 123.4 619.8 123.2 619.5 123.0 619.2 122.8 618.9 122.6 618.5 122.4 618.2 122.3Z M617.9 119.4 621.9 119.4 621.9 122.4 617.9 122.4Z M624.0 123.2 628.0 123.2 628.0 126.2 624.0 126.2Z M632.3 126.5 632.5 126.7 632.8 126.9 633.1 127.1 633.4 127.3 633.7 127.5 634.0 127.7 634.3 127.9 634.6 128.1 634.9 128.3 635.1 128.5 635.4 128.7 635.7 129.0 636.0 129.2 636.3 129.4 636.6 129.6 636.8 129.8 637.1 130.0 637.4 130.2 637.7 130.4 637.9 130.6 634.4 133.2 634.2 133.0 633.9 132.8 633.6 132.6 633.4 132.4 633.1 132.2 632.8 132.0 632.5 131.8 632.2 131.6 632.0 131.4 631.7 131.2 631.4 131.0 631.1 130.8 630.8 130.5 630.5 130.3 630.2 130.1 630.0 129.9 629.7 129.7 629.4 129.5 629.1 129.3 628.8 129.1Z M628.5 126.3 632.5 126.3 632.5 129.3 628.5 129.3Z M634.1 130.4 638.1 130.4 638.1 133.4 634.1 133.4Z M642.1 133.8 642.3 134.1 642.6 134.3 642.9 134.5 643.1 134.7 643.4 134.9 643.7 135.1 643.9 135.4 644.2 135.6 644.5 135.8 644.7 136.0 645.0 136.2 645.2 136.5 645.5 136.7 645.8 136.9 646.0 137.1 646.3 137.3 646.5 137.6 646.8 137.8 647.0 138.0 647.2 138.2 643.7 140.7 643.5 140.6 643.2 140.3 643.0 140.1 642.7 139.9 642.5 139.7 642.2 139.5 642.0 139.2 641.7 139.0 641.4 138.8 641.2 138.6 640.9 138.4 640.7 138.2 640.4 137.9 640.1 137.7 639.9 137.5 639.6 137.3 639.3 137.1 639.1 136.9 638.8 136.6 638.6 136.4Z M638.3 133.6 642.3 133.6 642.3 136.6 638.3 136.6Z M643.4 137.9 647.4 137.9 647.4 140.9 643.4 140.9Z M650.9 141.6 651.2 141.8 651.4 142.0 651.7 142.2 651.9 142.5 652.2 142.7 652.4 142.9 652.6 143.2 652.9 143.4 653.1 143.6 653.3 143.9 653.6 144.1 653.8 144.3 654.1 144.6 654.3 144.8 654.5 145.0 654.7 145.2 655.0 145.5 655.2 145.7 655.4 145.9 655.5 146.0 651.9 148.5 651.9 148.4 651.6 148.2 651.4 148.0 651.2 147.8 650.9 147.6 650.7 147.3 650.5 147.1 650.2 146.9 650.0 146.6 649.8 146.4 649.5 146.2 649.3 145.9 649.0 145.7 648.8 145.5 648.6 145.2 648.3 145.0 648.1 144.8 647.9 144.5 647.6 144.3 647.4 144.1Z M647.2 141.3 651.2 141.3 651.2 144.3 647.2 144.3Z M651.7 145.7 655.7 145.7 655.7 148.7 651.7 148.7Z M659.1 149.5 659.3 149.7 659.5 149.9 659.7 150.1 660.0 150.3 660.2 150.6 660.4 150.8 660.6 151.0 660.8 151.2 661.0 151.4 661.2 151.7 661.4 151.9 661.7 152.1 661.9 152.3 662.1 152.6 662.3 152.8 662.5 153.0 662.7 153.2 662.9 153.5 663.1 153.7 663.3 153.9 663.4 154.0 659.7 156.5 659.7 156.4 659.5 156.2 659.3 155.9 659.1 155.7 658.9 155.5 658.7 155.3 658.4 155.0 658.2 154.8 658.0 154.6 657.8 154.4 657.6 154.2 657.4 153.9 657.2 153.7 657.0 153.5 656.8 153.3 656.6 153.1 656.3 152.8 656.1 152.6 655.9 152.4 655.7 152.2 655.5 152.0Z M655.3 149.2 659.3 149.2 659.3 152.2 655.3 152.2Z M659.6 153.7 663.6 153.7 663.6 156.7 659.6 156.7Z M666.5 157.6 666.7 157.9 666.9 158.1 667.1 158.3 667.3 158.6 667.5 158.8 667.7 159.0 667.8 159.3 668.0 159.5 668.2 159.7 668.4 160.0 668.6 160.2 668.8 160.4 668.9 160.7 669.1 160.9 669.3 161.1 669.5 161.4 669.7 161.6 669.8 161.8 670.0 162.1 670.2 162.3 670.3 162.4 666.6 164.8 666.5 164.7 666.3 164.5 666.1 164.2 666.0 164.0 665.8 163.8 665.6 163.5 665.4 163.3 665.3 163.1 665.1 162.8 664.9 162.6 664.7 162.4 664.5 162.1 664.4 161.9 664.2 161.7 664.0 161.5 663.8 161.2 663.6 161.0 663.4 160.8 663.2 160.5 663.0 160.3 662.9 160.1Z M662.7 157.4 666.7 157.4 666.7 160.4 662.7 160.4Z M666.4 162.1 670.4 162.1 670.4 165.1 666.4 165.1Z M672.9 166.1 673.1 166.4 673.2 166.6 673.4 166.8 673.6 167.1 673.8 167.4 674.0 167.7 674.2 168.0 674.4 168.3 674.5 168.6 674.7 168.9 674.8 169.2 675.0 169.4 675.1 169.7 675.3 170.0 675.4 170.3 675.6 170.6 675.7 170.9 675.8 171.0 672.0 173.2 672.0 173.1 671.8 172.8 671.7 172.6 671.5 172.3 671.4 172.0 671.2 171.7 671.1 171.4 670.9 171.2 670.7 170.9 670.6 170.6 670.5 170.4 670.2 170.1 670.0 169.7 669.8 169.4 669.7 169.2 669.5 168.9 669.3 168.7 669.2 168.5Z M669.0 165.8 673.0 165.8 673.0 168.8 669.0 168.8Z M671.9 170.6 675.9 170.6 675.9 173.6 671.9 173.6Z M677.7 174.8 677.9 175.1 678.0 175.4 678.1 175.7 678.3 176.0 678.4 176.3 678.5 176.6 678.7 176.9 678.8 177.2 678.9 177.5 679.1 177.8 679.2 178.1 679.3 178.4 679.5 178.7 679.6 179.0 679.7 179.3 679.8 179.6 679.9 179.8 676.1 182.0 676.0 181.8 675.9 181.5 675.7 181.2 675.6 180.9 675.5 180.6 675.4 180.3 675.2 180.0 675.1 179.7 675.0 179.4 674.8 179.1 674.7 178.8 674.6 178.5 674.4 178.2 674.3 177.9 674.2 177.6 674.0 177.3 673.9 177.0Z M673.8 174.4 677.8 174.4 677.8 177.4 673.8 177.4Z M676.0 179.4 680.0 179.4 680.0 182.4 676.0 182.4Z M681.4 183.8 681.6 184.1 681.7 184.4 681.8 184.7 681.9 185.1 682.0 185.4 682.1 185.7 682.2 186.0 682.3 186.3 682.5 186.7 682.6 187.0 682.7 187.3 682.8 187.6 682.9 188.0 683.0 188.3 683.1 188.6 683.2 188.8 679.3 190.9 679.2 190.7 679.1 190.3 679.0 190.0 678.9 189.7 678.8 189.4 678.7 189.0 678.6 188.7 678.5 188.4 678.4 188.1 678.3 187.8 678.1 187.5 678.0 187.1 677.9 186.8 677.8 186.5 677.7 186.2 677.6 185.9Z M677.5 183.3 681.5 183.3 681.5 186.3 677.5 186.3Z M679.2 188.4 683.2 188.4 683.2 191.4 679.2 191.4Z M684.3 192.9 684.4 193.2 684.5 193.6 684.6 193.9 684.7 194.3 684.8 194.6 684.9 194.9 685.0 195.3 685.1 195.6 685.2 196.0 685.2 196.4 685.3 196.7 685.4 197.1 685.5 197.4 685.6 197.8 685.6 197.9 681.7 199.8 681.7 199.7 681.6 199.3 681.5 199.0 681.4 198.6 681.3 198.3 681.2 197.9 681.2 197.6 681.1 197.2 681.0 196.9 680.9 196.5 680.8 196.2 680.7 195.9 680.6 195.5 680.5 195.2 680.4 194.8Z M680.4 192.4 684.4 192.4 684.4 195.4 680.4 195.4Z M681.6 197.3 685.6 197.3 685.6 200.3 681.6 200.3Z M686.5 201.9 686.5 202.3 686.6 202.7 686.7 203.0 686.7 203.4 686.8 203.8 686.9 204.2 686.9 204.6 687.0 204.9 687.1 205.3 687.1 205.7 687.2 206.1 687.3 206.5 687.3 206.9 687.4 207.0 683.4 208.8 683.4 208.6 683.3 208.2 683.3 207.9 683.2 207.5 683.1 207.1 683.1 206.7 683.0 206.3 682.9 206.0 682.9 205.6 682.8 205.2 682.7 204.8 682.7 204.5 682.6 204.1 682.5 203.7Z M682.5 201.3 686.5 201.3 686.5 204.3 682.5 204.3Z M683.4 206.4 687.4 206.4 687.4 209.4 683.4 209.4Z M688.0 211.2 688.0 211.6 688.1 212.0 688.1 212.4 688.2 212.9 688.2 213.3 688.3 213.7 688.3 214.1 688.4 214.6 688.4 215.0 688.5 215.4 688.5 215.9 688.5 216.2 684.6 217.7 684.5 217.4 684.5 217.0 684.4 216.6 684.4 216.2 684.4 215.7 684.3 215.3 684.3 214.9 684.2 214.5 684.2 214.1 684.1 213.7 684.1 213.3 684.0 212.8Z M684.0 210.5 688.0 210.5 688.0 213.5 684.0 213.5Z M684.6 215.4 688.6 215.4 688.6 218.4 684.6 218.4Z M688.9 220.3 688.9 220.7 689.0 221.2 689.0 221.7 689.0 222.2 689.1 222.6 689.1 223.1 689.1 223.6 689.2 224.1 689.2 224.6 689.2 225.1 689.3 225.5 685.3 226.8 685.3 226.5 685.2 226.0 685.2 225.5 685.2 225.0 685.1 224.5 685.1 224.1 685.1 223.6 685.0 223.1 685.0 222.6 685.0 222.2 684.9 221.7Z M684.9 219.5 688.9 219.5 688.9 222.5 684.9 222.5Z M685.3 224.6 689.3 224.6 689.3 227.6 685.3 227.6Z M689.4 229.5 689.5 230.1 689.5 230.7 689.5 231.2 689.5 231.8 689.5 232.4 689.6 232.8 689.6 233.2 689.6 233.6 689.6 234.0 689.6 234.4 689.6 234.6 685.6 235.7 685.6 235.5 685.6 235.1 685.6 234.7 685.6 234.3 685.6 234.0 685.6 233.6 685.5 233.0 685.5 232.4 685.5 231.9 685.5 231.3 685.5 230.8Z M685.5 228.7 689.5 228.7 689.5 231.7 685.5 231.7Z M685.6 233.7 689.6 233.7 689.6 236.7 685.6 236.7Z M689.7 238.9 689.7 239.4 689.7 239.9 689.7 240.4 689.7 240.9 689.7 241.4 689.7 242.0 689.7 242.5 689.7 243.1 689.7 243.7 689.7 244.0 685.7 244.8 685.7 244.5 685.7 243.9 685.7 243.3 685.7 242.8 685.7 242.3 685.7 241.8 685.7 241.3 685.7 240.8 685.7 240.3 685.7 239.8Z M685.7 237.9 689.7 237.9 689.7 240.9 685.7 240.9Z M685.7 242.9 689.7 242.9 689.7 245.9 685.7 245.9Z M689.7 248.4 689.7 248.9 689.7 249.4 689.7 250.0 689.7 250.7 689.7 251.8 685.8 252.0 685.7 250.9 685.7 250.3 685.7 249.8 685.7 249.3 685.7 248.9Z M685.7 247.1 689.7 247.1 689.7 250.1 685.7 250.1Z M685.8 250.4 689.8 250.4 689.8 253.4 685.8 253.4Z" fill="#00aa00"/>
<path d="M358.8 56.0 358.3 56.0 357.9 56.0 357.4 56.0 356.9 56.0 356.4 56.0 355.9 56.0 355.4 56.0 354.9 56.0 354.4 56.0 353.9 56.0 353.4 56.0 352.9 56.0 352.4 56.0 351.9 56.0 351.4 56.0 350.9 56.1 350.4 56.1 349.9 56.1 349.4 56.1 348.9 56.1 348.4 56.1 347.9 56.1 347.4 56.1 346.9 56.1 346.3 56.1 345.8 56.1 345.3 56.1 344.8 56.1 344.3 56.2 343.8 56.2 343.3 56.2 342.8 56.2 342.3 56.2 341.8 56.2 341.2 56.2 340.7 56.2 340.2 56.2 339.7 56.3 339.2 56.3 338.7 56.3 338.2 56.3 337.7 56.3 337.2 56.3 336.6 56.3 336.1 56.4 335.6 56.4 335.1 56.4 334.6 56.4 334.1 56.4 333.6 56.4 333.1 56.5 332.6 56.5 332.1 56.5 331.5 56.5 331.0 56.5 330.5 56.5 330.0 56.6 329.5 56.6 329.0 56.6 328.5 56.6 328.0 56.6 327.5 56.7 326.9 56.7 326.4 56.7 325.9 56.7 325.4 56.8 324.9 56.8 324.4 56.8 323.9 56.8 323.4 56.8 322.9 56.9 322.3 56.9 321.8 56.9 321.3 56.9 320.8 57.0 320.3 57.0 319.8 57.0 319.3 57.0 318.8 57.1 318.3 57.1 317.8 57.1 317.2 57.2 316.7 57.2 316.2 57.2 315.7 57.2 315.2 57.3 314.7 57.3 314.2 57.3 313.7 57.4 313.2 57.4 312.7 57.4 312.1 57.5 311.6 57.5 311.1 57.5 310.6 57.6 310.1 57.6 309.6 57.6 309.1 57.7 308.6 57.7 308.1 57.7 307.6 57.8 307.1 57.8 306.6 57.8 306.0 57.9 305.5 57.9 305.0 57.9 304.5 58.0 304.0 58.0 303.5 58.0 303.0 58.1 302.5 58.1 302.0 58.2 301.5 58.2 301.0 58.2 300.5 58.3 300.0 58.3 299.5 58.4 299.0 58.4 298.4 58.4 297.9 58.5 297.4 58.5 296.9 58.6 296.4 58.6 295.9 58.6 295.4 58.7 294.9 58.7 294.4 58.8 293.9 58.8 293.4 58.9 292.9 58.9 292.4 59.0 291.9 59.0 291.4 59.0 290.9 59.1 290.4 59.1 289.9 59.2 289.4 59.2 288.9 59.3 288.4 59.3 287.9 59.4 287.4 59.4 286.8 59.5 286.3 59.5 285.8 59.6 285.3 59.6 284.8 59.7 284.3 59.7 283.8 59.8 283.3 59.8 282.8 59.9 282.3 59.9 281.8 60.0 281.3 60.0 280.8 60.1 280.3 60.1 279.8 60.2 279.3 60.2 278.8 60.3 278.3 60.4 277.8 60.4 277.3 60.5 276.8 60.5 276.3 60.6 275.8 60.6 275.3 60.7 274.8 60.7 274.3 60.8 273.8 60.9 273.4 60.9 272.9 61.0 272.4 61.0 271.9 61.1 271.4 61.2 270.9 61.2 270.4 61.3 269.9 61.3 269.4 61.4 268.9 61.5 268.4 61.5 267.9 61.6 267.4 61.6 266.9 61.7 266.4 61.8 265.9 61.8 265.4 61.9 264.9 62.0 264.4 62.0 263.9 62.1 263.4 62.1 263.0 62.2 262.5 62.3 262.0 62.3 261.5 62.4 261.0 62.5 260.5 62.5 260.0 62.6 259.5 62.7 259.0 62.7 258.5 62.8 258.0 62.9 257.6 63.0 257.1 63.0 256.6 63.1 256.1 63.2 255.6 63.2 255.1 63.3 254.6 63.4 254.1 63.4 253.6 63.5 253.2 63.6 252.7 63.7 252.2 63.7 251.7 63.8 251.2 63.9 250.7 64.0 250.2 64.0 249.7 64.1 249.3 64.2 248.8 64.3 248.3 64.3 247.8 64.4 247.3 64.5 246.8 64.6 246.3 64.6 245.9 64.7 245.4 64.8 244.9 64.9 244.4 64.9 243.9 65.0 243.4 65.1 243.0 65.2 242.5 65.3 242.0 65.3 241.5 65.4 241.0 65.5 240.6 65.6 240.1 65.7 239.6 65.7 239.1 65.8 238.6 65.9 238.2 66.0 237.7 66.1 237.2 66.2 236.7 66.2 236.2 66.3 235.8 66.4 235.3 66.5 234.8 66.6 234.3 66.7 233.9 66.8 233.4 66.8 232.9 66.9 232.4 67.0 232.0 67.1 231.5 67.2 231.0 67.3 230.5 67.4 230.1 67.5 229.6 67.5 229.1 67.6 228.6 67.7 228.2 67.8 227.7 67.9 227.2 68.0 226.7 68.1 226.3 68.2 225.8 68.3 225.3 68.4 224.9 68.4 224.4 68.5 223.9 68.6 223.5 68.7 223.0 68.8 222.5 68.9 222.0 69.0 221.6 69.1 221.1 69.2 220.6 69.3 220.2 69.4 219.7 69.5 219.2 69.6 218.8 69.7 218.3 69.8 217.8 69.9 217.4 70.0 216.9 70.1 216.5 70.2 216.0 70.3 215.5 70.4 215.1 70.5 214.6 70.6 214.1 70.7 213.7 70.8 213.2 70.9 212.7 71.0 212.3 71.1 211.8 71.2 211.4 71.3 210.9 71.4 210.4 71.5 210.0 71.6 209.5 71.7 209.1 71.8 208.6 71.9 208.2 72.0 207.7 72.1 207.2 72.2 206.8 72.3 206.3 72.4 205.9 72.5 205.4 72.6 205.0 72.7 204.5 72.8 204.0 73.0 203.6 73.1 203.1 73.2 202.7 73.3 202.2 73.4 201.8 73.5 201.3 73.6 200.9 73.7 200.4 73.8 200.0 73.9 199.5 74.1 199.1 74.2 198.6 74.3 198.2 74.4 197.7 74.5 197.3 74.6 196.8 74.7 196.4 74.8 195.9 75.0 195.5 75.1 195.0 75.2 194.6 75.3 194.1 75.4 193.7 75.5 193.3 75.6 192.8 75.8 192.4 75.9 191.9 76.0 191.5 76.1 191.0 76.2 190.6 76.3 190.2 76.5 189.7 76.6 189.3 76.7 188.8 76.8 188.4 76.9 187.9 77.1 187.5 77.2 187.1 77.3 186.6 77.4 186.2 77.5 185.8 77.7 185.3 77.8 184.9 77.9 184.4 78.0 184.0 78.2 183.6 78.3 183.1 78.4 182.7 78.5 182.3 78.7 181.8 78.8 181.4 78.9 181.0 79.0 180.5 79.2 180.1 79.3 179.7 79.4 179.2 79.5 178.8 79.7 178.4 79.8 177.9 79.9 177.5 80.0 177.1 80.2 176.7 80.3 176.2 80.4 175.8 80.6 175.4 80.7 174.9 80.8 174.5 80.9 174.1 81.1 173.7 81.2 173.2 81.3 172.8 81.5 172.4 81.6 172.0 81.7 171.5 81.9 171.1 82.0 170.7 82.1 170.3 82.3 169.9 82.4 169.4 82.5 169.0 82.7 168.6 82.8 168.2 82.9 167.8 83.1 167.3 83.2 166.9 83.4 166.5 83.5 166.1 83.6 165.7 83.8 165.3 83.9 164.8 84.0 164.4 84.2 164.0 84.3 163.6 84.5 163.2 84.6 162.8 84.7 162.4 84.9 161.9 85.0 161.5 85.2 161.1 85.3 160.7 85.5 160.3 85.6 159.9 85.7 159.5 85.9 159.1 86.0 158.7 86.2 158.3 86.3 157.8 86.5 157.4 86.6 157.0 86.7 156.6 86.9 156.2 87.0 155.8 87.2 155.4 87.3 155.0 87.5 154.6 87.6 154.2 87.8 153.8 87.9 153.4 88.1 153.0 88.2 152.6 88.4 152.2 88.5 151.8 88.7 151.4 88.8 151.0 89.0 150.6 89.1 150.2 89.3 149.8 89.4 149.4 89.6 149.0 89.7 148.6 89.9 148.2 90.0 147.8 90.2 147.4 90.3 147.0 90.5 146.6 90.6 146.3 90.8 145.9 90.9 145.5 91.1 145.1 91.3 144.7 91.4 144.3 91.6 143.9 91.7 143.5 91.9 143.1 92.0 142.7 92.2 142.4 92.3 142.0 92.5 141.6 92.7 141.2 92.8 140.8 93.0 140.4 93.1 140.0 93.3 139.7 93.5 139.3 93.6 138.9 93.8 138.5 93.9 138.1 94.1 137.7 94.3 137.4 94.4 137.0 94.6 136.6 94.8 136.2 94.9 135.9 95.1 135.5 95.2 135.1 95.4 134.7 95.6 134.3 95.7 134.0 95.9 133.6 96.1 133.2 96.2 132.8 96.4 132.5 96.6 132.1 96.7 131.7 96.9 131.4 97.1 131.0 97.2 130.6 97.4 130.3 97.6 129.9 97.7 129.5 97.9 129.1 98.1 128.8 98.3 128.4 98.4 128.0 98.6 127.7 98.8 127.3 98.9 126.9 99.1 126.6 99.3 126.2 99.5 125.9 99.6 125.5 99.8 125.1 100.0 124.8 100.1 124.4 100.3 124.1 100.5 123.7 100.7 123.3 100.8 123.0 101.0 122.6 101.2 122.3 101.4 121.9 101.6 121.6 101.7 121.2 101.9 120.8 102.1 120.5 102.3 120.1 102.4 119.8 102.6 119.4 102.8 119.1 103.0 118.7 103.2 118.4 103.3 118.0 103.5 117.7 103.7 117.3 103.9 117.0 104.1 116.6 104.2 116.3 104.4 115.9 104.6 115.6 104.8 115.2 105.0 114.9 105.2 114.6 105.3 114.2 105.5 113.9 105.7 113.5 105.9 113.2 106.1 112.9 106.3 112.5 106.5 112.2 106.6 111.8 106.8 111.5 107.0 111.2 107.2 110.8 107.4 110.5 107.6 110.1 107.8 109.8 108.0 109.5 108.1 109.1 108.3 108.8 108.5 108.5 108.7 108.1 108.9 107.8 109.1 107.5 109.3 107.2 109.5 106.8 109.7 106.5 109.9 106.2 110.1 105.8 110.3 105.5 110.4 105.2 110.6 104.9 110.8 104.5 111.0 104.2 111.2 103.9 111.4 103.6 111.6 103.2 111.8 102.9 112.0 102.6 112.2 102.3 112.4 102.0 112.6 101.6 112.8 101.3 113.0 101.0 113.2 100.7 113.4 100.4 113.6 100.0 113.8 99.7 114.0 99.4 114.2 99.1 114.4 98.8 114.6 98.5 114.8 98.2 115.0 97.8 115.2 97.5 115.4 97.2 115.6 96.9 115.8 96.6 116.0 96.3 116.2 96.0 116.4 95.7 116.6 95.4 116.8 95.1 117.0 94.8 117.2 94.5 117.5 94.2 117.7 93.9 117.9 93.5 118.1 93.2 118.3 92.9 118.5 92.6 118.7 92.3 118.9 92.0 119.1 91.7 119.3 91.4 119.5 91.2 119.7 90.9 120.0 90.6 120.2 90.3 120.4 90.0 120.6 89.7 120.8 89.4 121.0 89.1 121.2 88.8 121.4 88.5 121.7 88.2 121.9 87.9 122.1 87.6 122.3 87.3 122.5 87.1 122.7 86.8 122.9 86.5 123.2 86.2 123.4 85.9 123.6 85.6 123.8 85.3 124.0 85.1 124.2 84.8 124.5 84.5 124.7 84.2 124.9 83.9 125.1 83.7 125.3 83.4 125.6 83.1 125.8 82.8 126.0 82.5 126.2 82.3 126.4 82.0 126.7 81.7 126.9 81.4 127.1 81.2 127.3 80.9 127.6 80.6 127.8 80.3 128.0 80.1 128.2 79.8 128.5 79.5 128.7 79.3 128.9 79.0 129.1 78.7 129.4 78.5 129.6 78.2 129.8 77.9 130.0 77.7 130.3 77.4 130.5 77.1 130.7 76.9 131.0 76.6 131.2 76.4 131.4 76.1 131.7 75.8 131.9 75.6 132.1 75.3 132.4 75.1 132.6 74.8 132.8 74.5 133.0 74.3 133.3 74.0 133.5 73.8 133.7 73.5 134.0 73.3 134.2 73.0 134.5 72.8 134.7 72.5 134.9 72.3 135.2 72.0 135.4 71.8 135.6 71.5 135.9 71.3 136.1 71.0 136.4 70.8 136.6 70.5 136.8 70.3 137.1 70.0 137.3 69.8 137.6 69.6 137.8 69.3 138.0 69.1 138.3 68.8 138.5 68.6 138.8 68.4 139.0 68.1 139.2 67.9 139.5 67.6 139.7 67.4 140.0 67.2 140.2 66.9 140.5 66.7 140.7 66.5 141.0 66.2 141.2 66.0 141.5 65.8 141.7 65.5 141.9 65.3 142.1 65.1 142.4 64.9 142.6 64.6 142.8 64.4 143.0 64.2 143.3 63.9 143.5 63.7 143.7 63.5 143.9 63.3 144.2 63.1 144.4 62.8 144.6 62.6 144.9 62.4 145.1 62.2 145.3 62.0 145.6 61.7 145.8 61.5 146.0 61.3 146.2 61.1 146.5 60.9 146.7 60.7 146.9 60.4 147.2 60.2 147.4 60.0 147.6 59.8 147.9 59.6 148.1 59.4 148.3 59.2 148.6 59.0 148.8 58.8 149.0 58.6 149.3 58.4 149.5 58.2 149.7 57.9 150.0 57.7 150.2 57.5 150.4 57.3 150.7 57.1 150.9 56.9 151.1 56.7 151.4 56.5 151.6 56.3 151.8 56.1 152.1 55.9 152.3 55.8 152.6 55.6 152.8 55.4 153.0 55.2 153.3 55.0 153.5 54.8 153.7 54.6 154.0 54.4 154.2 54.2 154.5 54.0 154.7 53.8 154.9 53.6 155.2 53.5 155.4 53.3 155.7 53.1 155.9 52.9 156.1 52.7 156.4 52.5 156.6 52.4 156.9 52.2 157.1 52.0 157.4 51.8 157.6 51.6 157.8 51.5 158.1 51.3 158.3 51.1 158.6 50.9 158.8 50.7 159.1 50.6 159.3 50.4 159.5 50.2 159.8 50.1 160.0 49.9 160.3 49.7 160.5 49.5 160.8 49.4 161.0 49.2 161.3 49.0 161.5 48.9 161.8 48.7 162.0 48.5 162.3 48.4 162.5 48.2 162.8 48.0 163.0 47.9 163.3 47.7 163.5 47.6 163.7 47.4 164.0 47.2 164.2 47.1 164.5 46.9 164.8 46.8 165.0 46.6 165.3 46.5 165.5 46.3 165.8 46.2 166.1 46.0 166.3 45.9 166.6 45.7 166.9 45.6 167.2 45.4 167.5 45.3 167.8 45.1 168.1 45.0 168.4 44.8 168.7 44.7 169.0 44.5 169.3 44.4 169.6 44.2 169.9 44.1 170.2 43.9 170.5 43.8 170.8 43.7 171.2 43.5 171.5 43.4 171.8 43.2 172.1 43.1 172.4 43.0 172.7 42.8 173.0 42.7 173.3 42.6 173.6 42.4 173.9 42.3 174.2 42.2 174.6 42.0 174.9 41.9 175.2 41.8 175.5 41.6 175.8 41.5 176.1 41.4 176.4 41.3 176.8 41.1 177.1 41.0 177.4 40.9 177.7 40.8 178.0 40.6 178.4 40.5 178.7 40.4 179.0 40.3 179.3 40.2 179.7 40.0 180.0 39.9 180.3 39.8 180.6 39.7 181.0 39.6 181.3 39.5 181.6 39.3 182.0 39.2 182.3 39.1 182.6 39.0 183.0 38.9 183.3 38.8 183.6 38.7 184.0 38.6 184.3 38.5 184.6 38.3 185.0 38.2 185.3 38.1 185.7 38.0 186.0 37.9 186.3 37.8 186.7 37.7 187.0 37.6 187.4 37.5 187.7 37.4 188.1 37.3 188.4 37.2 188.8 37.1 189.1 37.0 189.5 36.9 189.8 36.8 190.2 36.7 190.5 36.7 190.9 36.6 191.2 36.5 191.6 36.4 191.9 36.3 192.3 36.2 192.7 36.1 193.0 36.0 193.4 35.9 193.8 35.8 194.1 35.8 194.5 35.7 194.9 35.6 195.2 35.5 195.6 35.4 196.0 35.3 196.3 35.3 196.7 35.2 197.1 35.1 197.5 35.0 197.8 35.0 198.2 34.9 198.6 34.8 199.0 34.7 199.4 34.6 199.8 34.6 200.1 34.5 200.5 34.4 200.9 34.4 201.3 34.3 201.7 34.2 202.1 34.2 202.5 34.1 202.9 34.0 203.3 33.9 203.7 33.9 204.1 33.8 204.5 33.8 204.9 33.7 205.3 33.6 205.7 33.6 206.1 33.5 206.5 33.4 206.9 33.4 207.4 33.3 207.8 33.3 208.2 33.2 208.6 33.2 209.0 33.1 209.5 33.1 209.9 33.0 210.3 32.9 210.7 32.9 211.2 32.8 211.6 32.8 212.1 32.7 212.5 32.7 212.9 32.6 213.4 32.6 213.8 32.6 214.3 32.5 214.7 32.5 215.2 32.4 215.6 32.4 216.1 32.3 216.6 32.3 217.0 32.3 217.5 32.2 218.0 32.2 218.4 32.1 218.9 32.1 219.4 32.1 219.9 32.0 220.4 32.0 220.9 32.0 221.4 31.9 221.9 31.9 222.4 31.9 222.9 31.8 223.4 31.8 223.9 31.8 224.4 31.7 225.0 31.7 225.5 31.7 226.0 31.7 226.6 31.6 227.1 31.6 227.7 31.6 228.2 31.6 228.8 31.5 229.4 31.5 229.7 31.5 230.1 31.5 230.5 31.5 230.9 31.5 231.3 31.5 231.7 31.4 232.1 31.4 232.5 31.4 232.9 31.4 233.4 31.4 233.8 31.4 234.2 31.4 234.6 31.4 235.1 31.4 235.5 31.4 235.9 31.3 236.4 31.3 236.9 31.3 237.3 31.3 237.8 31.3 238.3 31.3 238.8 31.3 239.3 31.3 239.8 31.3 240.3 31.3 240.8 31.3 241.3 31.3 241.9 31.3 242.4 31.3 243.0 31.3 243.6 31.3 244.2 31.3 244.9 31.3 245.5 31.3 246.2 31.3 247.0 31.3 247.4 31.3 247.8 31.3 248.2 31.3 248.6 31.3 249.1 31.3 249.6 31.3 250.2 31.3 250.9 31.2 252.0 27.3 251.8 27.3 250.6 27.3 249.8 27.3 249.2 27.3 248.7 27.3 248.1 27.3 247.7 27.3 247.2 27.3 246.8 27.3 246.4 27.3 245.6 27.3 244.9 27.3 244.2 27.3 243.5 27.3 242.9 27.3 242.2 27.3 241.6 27.3 241.0 27.3 240.5 27.3 239.9 27.3 239.4 27.3 238.8 27.3 238.3 27.3 237.8 27.3 237.3 27.3 236.8 27.3 236.3 27.3 235.8 27.4 235.4 27.4 234.9 27.4 234.4 27.4 234.0 27.4 233.5 27.4 233.1 27.4 232.7 27.4 232.2 27.4 231.8 27.4 231.4 27.5 231.0 27.5 230.5 27.5 230.1 27.5 229.7 27.5 229.3 27.5 228.9 27.5 228.5 27.6 228.1 27.6 227.5 27.6 227.0 27.6 226.4 27.6 225.8 27.7 225.3 27.7 224.7 27.7 224.2 27.8 223.6 27.8 223.1 27.8 222.6 27.8 222.0 27.9 221.5 27.9 221.0 27.9 220.5 28.0 220.0 28.0 219.4 28.0 218.9 28.1 218.4 28.1 218.0 28.2 217.5 28.2 217.0 28.2 216.5 28.3 216.0 28.3 215.5 28.4 215.0 28.4 214.6 28.4 214.1 28.5 213.6 28.5 213.2 28.6 212.7 28.6 212.3 28.7 211.8 28.7 211.3 28.8 210.9 28.8 210.4 28.9 210.0 28.9 209.6 29.0 209.1 29.0 208.7 29.1 208.2 29.1 207.8 29.2 207.4 29.3 206.9 29.3 206.5 29.4 206.1 29.4 205.7 29.5 205.2 29.6 204.8 29.6 204.4 29.7 204.0 29.7 203.6 29.8 203.2 29.9 202.7 29.9 202.3 30.0 201.9 30.1 201.5 30.1 201.1 30.2 200.7 30.3 200.3 30.4 199.9 30.4 199.5 30.5 199.1 30.6 198.7 30.6 198.3 30.7 197.9 30.8 197.5 30.9 197.2 30.9 196.8 31.0 196.4 31.1 196.0 31.2 195.6 31.3 195.2 31.3 194.9 31.4 194.5 31.5 194.1 31.6 193.7 31.7 193.3 31.8 193.0 31.8 192.6 31.9 192.2 32.0 191.9 32.1 191.5 32.2 191.1 32.3 190.7 32.4 190.4 32.5 190.0 32.6 189.7 32.7 189.3 32.7 188.9 32.8 188.6 32.9 188.2 33.0 187.9 33.1 187.5 33.2 187.1 33.3 186.8 33.4 186.4 33.5 186.1 33.6 185.7 33.7 185.4 33.8 185.0 33.9 184.7 34.0 184.3 34.1 184.0 34.3 183.6 34.4 183.3 34.5 182.9 34.6 182.6 34.7 182.3 34.8 181.9 34.9 181.6 35.0 181.2 35.1 180.9 35.2 180.6 35.4 180.2 35.5 179.9 35.6 179.6 35.7 179.2 35.8 178.9 35.9 178.6 36.1 178.2 36.2 177.9 36.3 177.6 36.4 177.2 36.5 176.9 36.7 176.6 36.8 176.3 36.9 175.9 37.0 175.6 37.2 175.3 37.3 175.0 37.4 174.6 37.5 174.3 37.7 174.0 37.8 173.7 37.9 173.4 38.1 173.0 38.2 172.7 38.3 172.4 38.5 172.1 38.6 171.8 38.7 171.5 38.9 171.1 39.0 170.8 39.1 170.5 39.3 170.2 39.4 169.9 39.6 169.6 39.7 169.3 39.8 169.0 40.0 168.6 40.1 168.3 40.3 168.0 40.4 167.7 40.6 167.4 40.7 167.1 40.9 166.8 41.0 166.5 41.2 166.2 41.3 165.9 41.5 165.6 41.6 165.3 41.8 165.0 41.9 164.7 42.1 164.4 42.2 164.1 42.4 163.8 42.5 163.5 42.7 163.2 42.9 162.9 43.0 162.7 43.2 162.4 43.3 162.2 43.5 161.9 43.7 161.7 43.8 161.4 44.0 161.2 44.1 160.9 44.3 160.7 44.5 160.4 44.6 160.2 44.8 159.9 45.0 159.7 45.1 159.4 45.3 159.2 45.5 158.9 45.6 158.7 45.8 158.4 46.0 158.2 46.2 157.9 46.3 157.7 46.5 157.4 46.7 157.2 46.9 156.9 47.0 156.7 47.2 156.4 47.4 156.2 47.6 155.9 47.7 155.7 47.9 155.4 48.1 155.2 48.3 155.0 48.5 154.7 48.7 154.5 48.8 154.2 49.0 154.0 49.2 153.7 49.4 153.5 49.6 153.2 49.8 153.0 50.0 152.8 50.2 152.5 50.3 152.3 50.5 152.0 50.7 151.8 50.9 151.6 51.1 151.3 51.3 151.1 51.5 150.8 51.7 150.6 51.9 150.4 52.1 150.1 52.3 149.9 52.5 149.6 52.7 149.4 52.9 149.2 53.1 148.9 53.3 148.7 53.5 148.4 53.7 148.2 53.9 148.0 54.1 147.7 54.3 147.5 54.5 147.3 54.7 147.0 54.9 146.8 55.1 146.6 55.3 146.3 55.5 146.1 55.8 145.9 56.0 145.6 56.2 145.4 56.4 145.2 56.6 144.9 56.8 144.7 57.0 144.5 57.2 144.2 57.5 144.0 57.7 143.8 57.9 143.5 58.1 143.3 58.3 143.1 58.6 142.8 58.8 142.6 59.0 142.4 59.2 142.1 59.4 141.9 59.7 141.7 59.9 141.4 60.1 141.2 60.3 141.0 60.6 140.8 60.8 140.5 61.0 140.3 61.3 140.1 61.5 139.8 61.7 139.6 61.9 139.4 62.2 139.2 62.4 138.9 62.6 138.7 62.9 138.5 63.1 138.2 63.3 138.0 63.6 137.7 63.8 137.5 64.0 137.2 64.3 137.0 64.5 136.7 64.8 136.5 65.0 136.3 65.2 136.0 65.5 135.8 65.7 135.5 66.0 135.3 66.2 135.0 66.5 134.8 66.7 134.6 66.9 134.3 67.2 134.1 67.4 133.8 67.7 133.6 67.9 133.3 68.2 133.1 68.4 132.9 68.7 132.6 68.9 132.4 69.2 132.2 69.4 131.9 69.7 131.7 70.0 131.4 70.2 131.2 70.5 131.0 70.7 130.7 71.0 130.5 71.2 130.3 71.5 130.0 71.8 129.8 72.0 129.6 72.3 129.3 72.5 129.1 72.8 128.9 73.1 128.6 73.3 128.4 73.6 128.2 73.9 127.9 74.1 127.7 74.4 127.5 74.7 127.3 74.9 127.0 75.2 126.8 75.5 126.6 75.7 126.3 76.0 126.1 76.3 125.9 76.5 125.7 76.8 125.4 77.1 125.2 77.4 125.0 77.6 124.8 77.9 124.5 78.2 124.3 78.5 124.1 78.7 123.9 79.0 123.6 79.3 123.4 79.6 123.2 79.9 123.0 80.1 122.7 80.4 122.5 80.7 122.3 81.0 122.1 81.3 121.9 81.6 121.6 81.8 121.4 82.1 121.2 82.4 121.0 82.7 120.8 83.0 120.6 83.3 120.3 83.6 120.1 83.9 119.9 84.2 119.7 84.4 119.5 84.7 119.3 85.0 119.0 85.3 118.8 85.6 118.6 85.9 118.4 86.2 118.2 86.5 118.0 86.8 117.8 87.1 117.5 87.4 117.3 87.7 117.1 88.0 116.9 88.3 116.7 88.6 116.5 88.9 116.3 89.2 116.1 89.5 115.9 89.8 115.6 90.1 115.4 90.4 115.2 90.7 115.0 91.0 114.8 91.3 114.6 91.6 114.4 91.9 114.2 92.3 114.0 92.6 113.8 92.9 113.6 93.2 113.4 93.5 113.2 93.8 113.0 94.1 112.8 94.4 112.5 94.7 112.3 95.1 112.1 95.4 111.9 95.7 111.7 96.0 111.5 96.3 111.3 96.6 111.1 97.0 110.9 97.3 110.7 97.6 110.5 97.9 110.3 98.2 110.1 98.6 109.9 98.9 109.7 99.2 109.5 99.5 109.3 99.8 109.1 100.2 108.9 100.5 108.7 100.8 108.5 101.2 108.4 101.5 108.2 101.8 108.0 102.1 107.8 102.5 107.6 102.8 107.4 103.1 107.2 103.5 107.0 103.8 106.8 104.1 106.6 104.5 106.4 104.8 106.2 105.1 106.0 105.5 105.8 105.8 105.6 106.1 105.5 106.5 105.3 106.8 105.1 107.1 104.9 107.5 104.7 107.8 104.5 108.2 104.3 108.5 104.1 108.8 103.9 109.2 103.8 109.5 103.6 109.9 103.4 110.2 103.2 110.5 103.0 110.9 102.8 111.2 102.6 111.6 102.4 111.9 102.3 112.3 102.1 112.6 101.9 113.0 101.7 113.3 101.5 113.7 101.3 114.0 101.2 114.4 101.0 114.7 100.8 115.1 100.6 115.4 100.4 115.8 100.3 116.1 100.1 116.5 99.9 116.8 99.7 117.2 99.5 117.6 99.4 117.9 99.2 118.3 99.0 118.6 98.8 119.0 98.6 119.3 98.5 119.7 98.3 120.1 98.1 120.4 97.9 120.8 97.8 121.1 97.6 121.5 97.4 121.9 97.2 122.2 97.1 122.6 96.9 123.0 96.7 123.3 96.5 123.7 96.4 124.1 96.2 124.4 96.0 124.8 95.8 125.2 95.7 125.5 95.5 125.9 95.3 126.3 95.2 126.6 95.0 127.0 94.8 127.4 94.7 127.8 94.5 128.1 94.3 128.5 94.1 128.9 94.0 129.2 93.8 129.6 93.6 130.0 93.5 130.4 93.3 130.7 93.1 131.1 93.0 131.5 92.8 131.9 92.6 132.3 92.5 132.6 92.3 133.0 92.2 133.4 92.0 133.8 91.8 134.2 91.7 134.5 91.5 134.9 91.3 135.3 91.2 135.7 91.0 136.1 90.8 136.5 90.7 136.8 90.5 137.2 90.4 137.6 90.2 138.0 90.0 138.4 89.9 138.8 89.7 139.2 89.6 139.6 89.4 140.0 89.3 140.3 89.1 140.7 88.9 141.1 88.8 141.5 88.6 141.9 88.5 142.3 88.3 142.7 88.2 143.1 88.0 143.5 87.8 143.9 87.7 144.3 87.5 144.7 87.4 145.1 87.2 145.5 87.1 145.9 86.9 146.3 86.8 146.7 86.6 147.1 86.5 147.5 86.3 147.9 86.2 148.3 86.0 148.7 85.9 149.1 85.7 149.5 85.6 149.9 85.4 150.3 85.3 150.7 85.1 151.1 85.0 151.5 84.8 151.9 84.7 152.3 84.5 152.7 84.4 153.1 84.2 153.5 84.1 153.9 83.9 154.3 83.8 154.7 83.6 155.1 83.5 155.6 83.4 156.0 83.2 156.4 83.1 156.8 82.9 157.2 82.8 157.6 82.6 158.0 82.5 158.4 82.4 158.9 82.2 159.3 82.1 159.7 81.9 160.1 81.8 160.5 81.6 160.9 81.5 161.3 81.4 161.8 81.2 162.2 81.1 162.6 80.9 163.0 80.8 163.4 80.7 163.9 80.5 164.3 80.4 164.7 80.3 165.1 80.1 165.5 80.0 166.0 79.9 166.4 79.7 166.8 79.6 167.2 79.4 167.7 79.3 168.1 79.2 168.5 79.0 168.9 78.9 169.4 78.8 169.8 78.6 170.2 78.5 170.6 78.4 171.1 78.2 171.5 78.1 171.9 78.0 172.4 77.9 172.8 77.7 173.2 77.6 173.6 77.5 174.1 77.3 174.5 77.2 174.9 77.1 175.4 76.9 175.8 76.8 176.2 76.7 176.7 76.6 177.1 76.4 177.5 76.3 178.0 76.2 178.4 76.1 178.8 75.9 179.3 75.8 179.7 75.7 180.2 75.6 180.6 75.4 181.0 75.3 181.5 75.2 181.9 75.1 182.3 74.9 182.8 74.8 183.2 74.7 183.7 74.6 184.1 74.4 184.5 74.3 185.0 74.2 185.4 74.1 185.9 74.0 186.3 73.8 186.8 73.7 187.2 73.6 187.6 73.5 188.1 73.4 188.5 73.3 189.0 73.1 189.4 73.0 189.9 72.9 190.3 72.8 190.8 72.7 191.2 72.5 191.7 72.4 192.1 72.3 192.6 72.2 193.0 72.1 193.5 72.0 193.9 71.9 194.4 71.7 194.8 71.6 195.3 71.5 195.7 71.4 196.2 71.3 196.6 71.2 197.1 71.1 197.5 71.0 198.0 70.8 198.4 70.7 198.9 70.6 199.3 70.5 199.8 70.4 200.3 70.3 200.7 70.2 201.2 70.1 201.6 70.0 202.1 69.9 202.5 69.8 203.0 69.6 203.5 69.5 203.9 69.4 204.4 69.3 204.8 69.2 205.3 69.1 205.8 69.0 206.2 68.9 206.7 68.8 207.1 68.7 207.6 68.6 208.1 68.5 208.5 68.4 209.0 68.3 209.5 68.2 209.9 68.1 210.4 68.0 210.8 67.9 211.3 67.8 211.8 67.7 212.2 67.6 212.7 67.5 213.2 67.4 213.6 67.3 214.1 67.2 214.6 67.1 215.0 67.0 215.5 66.9 216.0 66.8 216.4 66.7 216.9 66.6 217.4 66.5 217.9 66.4 218.3 66.3 218.8 66.2 219.3 66.1 219.7 66.0 220.2 65.9 220.7 65.8 221.2 65.7 221.6 65.6 222.1 65.5 222.6 65.5 223.0 65.4 223.5 65.3 224.0 65.2 224.5 65.1 224.9 65.0 225.4 64.9 225.9 64.8 226.4 64.7 226.8 64.6 227.3 64.5 227.8 64.5 228.3 64.4 228.8 64.3 229.2 64.2 229.7 64.1 230.2 64.0 230.7 63.9 231.1 63.8 231.6 63.8 232.1 63.7 232.6 63.6 233.1 63.5 233.5 63.4 234.0 63.3 234.5 63.2 235.0 63.2 235.5 63.1 236.0 63.0 236.4 62.9 236.9 62.8 237.4 62.7 237.9 62.7 238.4 62.6 238.8 62.5 239.3 62.4 239.8 62.3 240.3 62.3 240.8 62.2 241.3 62.1 241.8 62.0 242.2 61.9 242.7 61.9 243.2 61.8 243.7 61.7 244.2 61.6 244.7 61.6 245.2 61.5 245.7 61.4 246.1 61.3 246.6 61.3 247.1 61.2 247.6 61.1 248.1 61.0 248.6 61.0 249.1 60.9 249.6 60.8 250.1 60.7 250.5 60.7 251.0 60.6 251.5 60.5 252.0 60.4 252.5 60.4 253.0 60.3 253.5 60.2 254.0 60.2 254.5 60.1 255.0 60.0 255.5 60.0 256.0 59.9 256.5 59.8 257.0 59.7 257.4 59.7 257.9 59.6 258.4 59.5 258.9 59.5 259.4 59.4 259.9 59.3 260.4 59.3 260.9 59.2 261.4 59.1 261.9 59.1 262.4 59.0 262.9 59.0 263.4 58.9 263.9 58.8 264.4 58.8 264.9 58.7 265.4 58.6 265.9 58.6 266.4 58.5 266.9 58.5 267.4 58.4 267.9 58.3 268.4 58.3 268.9 58.2 269.4 58.1 269.9 58.1 270.4 58.0 270.9 58.0 271.4 57.9 271.9 57.9 272.4 57.8 272.9 57.7 273.4 57.7 273.9 57.6 274.4 57.6 274.9 57.5 275.4 57.5 275.9 57.4 276.4 57.3 276.9 57.3 277.4 57.2 277.9 57.2 278.4 57.1 278.9 57.1 279.4 57.0 279.9 57.0 280.4 56.9 280.9 56.9 281.5 56.8 282.0 56.8 282.5 56.7 283.0 56.7 283.5 56.6 284.0 56.6 284.5 56.5 285.0 56.5 285.5 56.4 286.0 56.4 286.5 56.3 287.0 56.3 287.5 56.2 288.0 56.2 288.5 56.1 289.1 56.1 289.6 56.0 290.1 56.0 290.6 55.9 291.1 55.9 291.6 55.9 292.1 55.8 292.6 55.8 293.1 55.7 293.6 55.7 294.1 55.6 294.6 55.6 295.2 55.6 295.7 55.5 296.2 55.5 296.7 55.4 297.2 55.4 297.7 55.4 298.2 55.3 298.7 55.3 299.2 55.2 299.8 55.2 300.3 55.2 300.8 55.1 301.3 55.1 301.8 55.0 302.3 55.0 302.8 55.0 303.3 54.9 303.9 54.9 304.4 54.9 304.9 54.8 305.4 54.8 305.9 54.8 306.4 54.7 306.9 54.7 307.4 54.6 308.0 54.6 308.5 54.6 309.0 54.5 309.5 54.5 310.0 54.5 310.5 54.5 311.1 54.4 311.6 54.4 312.1 54.4 312.6 54.3 313.1 54.3 313.6 54.3 314.1 54.2 314.7 54.2 315.2 54.2 315.7 54.2 316.2 54.1 316.7 54.1 317.2 54.1 317.8 54.0 318.3 54.0 318.8 54.0 319.3 54.0 319.8 53.9 320.3 53.9 320.9 53.9 321.4 53.9 321.9 53.8 322.4 53.8 322.9 53.8 323.4 53.8 324.0 53.7 324.5 53.7 325.0 53.7 325.5 53.7 326.0 53.7 326.6 53.6 327.1 53.6 327.6 53.6 328.1 53.6 328.6 53.6 329.2 53.5 329.7 53.5 330.2 53.5 330.7 53.5 331.2 53.5 331.8 53.4 332.3 53.4 332.8 53.4 333.3 53.4 333.8 53.4 334.4 53.4 334.9 53.3 335.4 53.3 335.9 53.3 336.4 53.3 337.0 53.3 337.5 53.3 338.0 53.3 338.5 53.2 339.0 53.2 339.6 53.2 340.1 53.2 340.6 53.2 341.1 53.2 341.7 53.2 342.2 53.2 342.7 53.2 343.2 53.1 343.8 53.1 344.3 53.1 344.8 53.1 345.3 53.1 345.9 53.1 346.4 53.1 346.9 53.1 347.4 53.1 348.0 53.1 348.5 53.1 349.0 53.1 349.5 53.1 350.1 53.0 350.6 53.0 351.1 53.0 351.7 53.0 352.2 53.0 352.7 53.0 353.2 53.0 353.8 53.0 354.3 53.0 354.9 53.0 355.4 53.0 355.9 53.0 356.5 53.0 357.1 53.0 357.6 53.0 358.2 53.0Z M356.5 53.0 360.5 53.0 360.5 56.0 356.5 56.0Z M27.2 250.4 31.2 250.4 31.2 253.4 27.2 253.4Z M358.8 53.0 359.4 53.0 359.9 53.0 360.5 53.0 361.1 53.0 361.6 53.0 362.1 53.0 362.7 53.0 363.2 53.0 363.8 53.0 364.3 53.0 364.8 53.0 365.3 53.0 365.9 53.0 366.4 53.0 366.9 53.0 367.5 53.1 368.0 53.1 368.5 53.1 369.0 53.1 369.6 53.1 370.1 53.1 370.6 53.1 371.1 53.1 371.7 53.1 372.2 53.1 372.7 53.1 373.2 53.1 373.8 53.1 374.3 53.2 374.8 53.2 375.3 53.2 375.9 53.2 376.4 53.2 376.9 53.2 377.4 53.2 378.0 53.2 378.5 53.2 379.0 53.3 379.5 53.3 380.0 53.3 380.6 53.3 381.1 53.3 381.6 53.3 382.1 53.3 382.6 53.4 383.2 53.4 383.7 53.4 384.2 53.4 384.7 53.4 385.2 53.4 385.8 53.5 386.3 53.5 386.8 53.5 387.3 53.5 387.8 53.5 388.4 53.6 388.9 53.6 389.4 53.6 389.9 53.6 390.4 53.6 391.0 53.7 391.5 53.7 392.0 53.7 392.5 53.7 393.0 53.7 393.6 53.8 394.1 53.8 394.6 53.8 395.1 53.8 395.6 53.9 396.1 53.9 396.7 53.9 397.2 53.9 397.7 54.0 398.2 54.0 398.7 54.0 399.2 54.0 399.8 54.1 400.3 54.1 400.8 54.1 401.3 54.2 401.8 54.2 402.3 54.2 402.9 54.2 403.4 54.3 403.9 54.3 404.4 54.3 404.9 54.4 405.4 54.4 405.9 54.4 406.5 54.5 407.0 54.5 407.5 54.5 408.0 54.5 408.5 54.6 409.0 54.6 409.6 54.6 410.1 54.7 410.6 54.7 411.1 54.8 411.6 54.8 412.1 54.8 412.6 54.9 413.1 54.9 413.7 54.9 414.2 55.0 414.7 55.0 415.2 55.0 415.7 55.1 416.2 55.1 416.7 55.2 417.2 55.2 417.8 55.2 418.3 55.3 418.8 55.3 419.3 55.4 419.8 55.4 420.3 55.4 420.8 55.5 421.3 55.5 421.8 55.6 422.4 55.6 422.9 55.6 423.4 55.7 423.9 55.7 424.4 55.8 424.9 55.8 425.4 55.9 425.9 55.9 426.4 55.9 426.9 56.0 427.4 56.0 427.9 56.1 428.5 56.1 429.0 56.2 429.5 56.2 430.0 56.3 430.5 56.3 431.0 56.4 431.5 56.4 432.0 56.5 432.5 56.5 433.0 56.6 433.5 56.6 434.0 56.7 434.5 56.7 435.0 56.8 435.5 56.8 436.1 56.9 436.6 56.9 437.1 57.0 437.6 57.0 438.1 57.1 438.6 57.1 439.1 57.2 439.6 57.2 440.1 57.3 440.6 57.3 441.1 57.4 441.6 57.5 442.1 57.5 442.6 57.6 443.1 57.6 443.6 57.7 444.1 57.7 444.6 57.8 445.1 57.9 445.6 57.9 446.1 58.0 446.6 58.0 447.1 58.1 447.6 58.1 448.1 58.2 448.6 58.3 449.1 58.3 449.6 58.4 450.1 58.5 450.6 58.5 451.1 58.6 451.6 58.6 452.1 58.7 452.6 58.8 453.1 58.8 453.6 58.9 454.1 59.0 454.6 59.0 455.1 59.1 455.6 59.1 456.1 59.2 456.6 59.3 457.1 59.3 457.6 59.4 458.1 59.5 458.6 59.5 459.1 59.6 459.6 59.7 460.0 59.7 460.5 59.8 461.0 59.9 461.5 60.0 462.0 60.0 462.5 60.1 463.0 60.2 463.5 60.2 464.0 60.3 464.5 60.4 465.0 60.4 465.5 60.5 466.0 60.6 466.5 60.7 466.9 60.7 467.4 60.8 467.9 60.9 468.4 61.0 468.9 61.0 469.4 61.1 469.9 61.2 470.4 61.3 470.9 61.3 471.3 61.4 471.8 61.5 472.3 61.6 472.8 61.6 473.3 61.7 473.8 61.8 474.3 61.9 474.8 61.9 475.2 62.0 475.7 62.1 476.2 62.2 476.7 62.3 477.2 62.3 477.7 62.4 478.2 62.5 478.6 62.6 479.1 62.7 479.6 62.7 480.1 62.8 480.6 62.9 481.0 63.0 481.5 63.1 482.0 63.2 482.5 63.2 483.0 63.3 483.5 63.4 483.9 63.5 484.4 63.6 484.9 63.7 485.4 63.8 485.9 63.8 486.3 63.9 486.8 64.0 487.3 64.1 487.8 64.2 488.2 64.3 488.7 64.4 489.2 64.5 489.7 64.5 490.2 64.6 490.6 64.7 491.1 64.8 491.6 64.9 492.1 65.0 492.5 65.1 493.0 65.2 493.5 65.3 494.0 65.4 494.4 65.5 494.9 65.5 495.4 65.6 495.8 65.7 496.3 65.8 496.8 65.9 497.3 66.0 497.7 66.1 498.2 66.2 498.7 66.3 499.1 66.4 499.6 66.5 500.1 66.6 500.6 66.7 501.0 66.8 501.5 66.9 502.0 67.0 502.4 67.1 502.9 67.2 503.4 67.3 503.8 67.4 504.3 67.5 504.8 67.6 505.2 67.7 505.7 67.8 506.2 67.9 506.6 68.0 507.1 68.1 507.5 68.2 508.0 68.3 508.5 68.4 508.9 68.5 509.4 68.6 509.9 68.7 510.3 68.8 510.8 68.9 511.2 69.0 511.7 69.1 512.2 69.2 512.6 69.3 513.1 69.4 513.5 69.5 514.0 69.6 514.5 69.8 514.9 69.9 515.4 70.0 515.8 70.1 516.3 70.2 516.7 70.3 517.2 70.4 517.7 70.5 518.1 70.6 518.6 70.7 519.0 70.8 519.5 71.0 519.9 71.1 520.4 71.2 520.8 71.3 521.3 71.4 521.7 71.5 522.2 71.6 522.6 71.7 523.1 71.9 523.5 72.0 524.0 72.1 524.4 72.2 524.9 72.3 525.3 72.4 525.8 72.5 526.2 72.7 526.7 72.8 527.1 72.9 527.6 73.0 528.0 73.1 528.5 73.3 528.9 73.4 529.4 73.5 529.8 73.6 530.2 73.7 530.7 73.8 531.1 74.0 531.6 74.1 532.0 74.2 532.5 74.3 532.9 74.4 533.3 74.6 533.8 74.7 534.2 74.8 534.7 74.9 535.1 75.1 535.5 75.2 536.0 75.3 536.4 75.4 536.8 75.6 537.3 75.7 537.7 75.8 538.2 75.9 538.6 76.1 539.0 76.2 539.5 76.3 539.9 76.4 540.3 76.6 540.8 76.7 541.2 76.8 541.6 76.9 542.1 77.1 542.5 77.2 542.9 77.3 543.4 77.5 543.8 77.6 544.2 77.7 544.6 77.9 545.1 78.0 545.5 78.1 545.9 78.2 546.4 78.4 546.8 78.5 547.2 78.6 547.6 78.8 548.1 78.9 548.5 79.0 548.9 79.2 549.3 79.3 549.8 79.4 550.2 79.6 550.6 79.7 551.0 79.9 551.5 80.0 551.9 80.1 552.3 80.3 552.7 80.4 553.1 80.5 553.6 80.7 554.0 80.8 554.4 80.9 554.8 81.1 555.2 81.2 555.7 81.4 556.1 81.5 556.5 81.6 556.9 81.8 557.3 81.9 557.7 82.1 558.1 82.2 558.6 82.4 559.0 82.5 559.4 82.6 559.8 82.8 560.2 82.9 560.6 83.1 561.0 83.2 561.4 83.4 561.9 83.5 562.3 83.6 562.7 83.8 563.1 83.9 563.5 84.1 563.9 84.2 564.3 84.4 564.7 84.5 565.1 84.7 565.5 84.8 565.9 85.0 566.3 85.1 566.7 85.3 567.1 85.4 567.5 85.6 567.9 85.7 568.3 85.9 568.7 86.0 569.1 86.2 569.5 86.3 569.9 86.5 570.3 86.6 570.7 86.8 571.1 86.9 571.5 87.1 571.9 87.2 572.3 87.4 572.7 87.5 573.1 87.7 573.5 87.8 573.9 88.0 574.3 88.2 574.7 88.3 575.1 88.5 575.5 88.6 575.9 88.8 576.3 88.9 576.7 89.1 577.0 89.3 577.4 89.4 577.8 89.6 578.2 89.7 578.6 89.9 579.0 90.0 579.4 90.2 579.8 90.4 580.2 90.5 580.5 90.7 580.9 90.8 581.3 91.0 581.7 91.2 582.1 91.3 582.5 91.5 582.8 91.7 583.2 91.8 583.6 92.0 584.0 92.2 584.4 92.3 584.7 92.5 585.1 92.6 585.5 92.8 585.9 93.0 586.3 93.1 586.6 93.3 587.0 93.5 587.4 93.6 587.8 93.8 588.1 94.0 588.5 94.1 588.9 94.3 589.2 94.5 589.6 94.7 590.0 94.8 590.4 95.0 590.7 95.2 591.1 95.3 591.5 95.5 591.8 95.7 592.2 95.8 592.6 96.0 592.9 96.2 593.3 96.4 593.7 96.5 594.0 96.7 594.4 96.9 594.8 97.1 595.1 97.2 595.5 97.4 595.9 97.6 596.2 97.8 596.6 97.9 596.9 98.1 597.3 98.3 597.7 98.5 598.0 98.6 598.4 98.8 598.7 99.0 599.1 99.2 599.4 99.4 599.8 99.5 600.2 99.7 600.5 99.9 600.9 100.1 601.2 100.3 601.6 100.4 601.9 100.6 602.3 100.8 602.6 101.0 603.0 101.2 603.3 101.3 603.7 101.5 604.0 101.7 604.4 101.9 604.7 102.1 605.1 102.3 605.4 102.4 605.8 102.6 606.1 102.8 606.5 103.0 606.8 103.2 607.1 103.4 607.5 103.6 607.8 103.8 608.2 103.9 608.5 104.1 608.8 104.3 609.2 104.5 609.5 104.7 609.9 104.9 610.2 105.1 610.5 105.3 610.9 105.5 611.2 105.6 611.5 105.8 611.9 106.0 612.2 106.2 612.5 106.4 612.9 106.6 613.2 106.8 613.5 107.0 613.9 107.2 614.2 107.4 614.5 107.6 614.9 107.8 615.2 108.0 615.5 108.2 615.8 108.4 616.2 108.5 616.5 108.7 616.8 108.9 617.2 109.1 617.5 109.3 617.8 109.5 618.1 109.7 618.4 109.9 618.8 110.1 619.1 110.3 619.4 110.5 619.7 110.7 620.0 110.9 620.4 111.1 620.7 111.3 621.0 111.5 621.3 111.7 621.6 111.9 621.9 112.1 622.3 112.3 622.6 112.5 622.9 112.8 623.2 113.0 623.5 113.2 623.8 113.4 624.1 113.6 624.4 113.8 624.7 114.0 625.1 114.2 625.4 114.4 625.7 114.6 626.0 114.8 626.3 115.0 626.6 115.2 626.9 115.4 627.2 115.6 627.5 115.9 627.8 116.1 628.1 116.3 628.4 116.5 628.7 116.7 629.0 116.9 629.3 117.1 629.6 117.3 629.9 117.5 630.2 117.8 630.5 118.0 630.8 118.2 631.1 118.4 631.4 118.6 631.7 118.8 632.0 119.0 632.3 119.3 632.6 119.5 632.8 119.7 633.1 119.9 633.4 120.1 633.7 120.3 634.0 120.6 634.3 120.8 634.6 121.0 634.9 121.2 635.2 121.4 635.4 121.6 635.7 121.9 636.0 122.1 636.3 122.3 636.6 122.5 636.9 122.7 637.1 123.0 637.4 123.2 637.7 123.4 638.0 123.6 638.3 123.9 638.5 124.1 638.8 124.3 639.1 124.5 639.4 124.8 639.6 125.0 639.9 125.2 640.2 125.4 640.5 125.7 640.7 125.9 641.0 126.1 641.3 126.3 641.5 126.6 641.8 126.8 642.1 127.0 642.3 127.3 642.6 127.5 642.9 127.7 643.1 127.9 643.4 128.2 643.7 128.4 643.9 128.6 644.2 128.9 644.5 129.1 644.7 129.3 645.0 129.6 645.2 129.8 645.5 130.0 645.8 130.3 646.0 130.5 646.3 130.7 646.5 131.0 646.8 131.2 647.0 131.4 647.3 131.7 647.6 131.9 647.8 132.2 648.1 132.4 648.3 132.6 648.6 132.9 648.8 133.1 649.1 133.3 649.3 133.6 649.6 133.8 649.8 134.1 650.1 134.3 650.3 134.6 650.5 134.8 650.8 135.0 651.0 135.3 651.3 135.5 651.5 135.8 651.8 136.0 652.0 136.3 652.2 136.5 652.5 136.7 652.7 137.0 653.0 137.2 653.2 137.5 653.4 137.7 653.7 138.0 653.9 138.2 654.1 138.5 654.4 138.7 654.6 138.9 654.8 139.2 655.1 139.4 655.3 139.6 655.5 139.8 655.7 140.1 656.0 140.3 656.2 140.5 656.4 140.8 656.7 141.0 656.9 141.2 657.1 141.4 657.3 141.7 657.6 141.9 657.8 142.1 658.0 142.4 658.2 142.6 658.4 142.8 658.7 143.1 658.9 143.3 659.1 143.5 659.3 143.8 659.5 144.0 659.8 144.2 660.0 144.5 660.2 144.7 660.4 144.9 660.6 145.2 660.8 145.4 661.0 145.6 661.2 145.9 661.5 146.1 661.7 146.3 661.9 146.6 662.1 146.8 662.3 147.0 662.5 147.3 662.7 147.5 662.9 147.7 663.1 148.0 663.3 148.2 663.5 148.4 663.7 148.7 663.9 148.9 664.1 149.2 664.3 149.4 664.5 149.6 664.7 149.9 664.9 150.1 665.1 150.4 665.3 150.6 665.5 150.8 665.7 151.1 665.9 151.3 666.1 151.6 666.3 151.8 666.5 152.0 666.7 152.3 666.8 152.5 667.0 152.8 667.2 153.0 667.4 153.2 667.6 153.5 667.8 153.7 668.0 154.0 668.2 154.2 668.3 154.5 668.5 154.7 668.7 155.0 668.9 155.2 669.1 155.4 669.3 155.7 669.4 155.9 669.6 156.2 669.8 156.4 670.0 156.7 670.1 156.9 670.3 157.2 670.5 157.4 670.7 157.7 670.8 157.9 671.0 158.2 671.2 158.4 671.4 158.7 671.5 158.9 671.7 159.2 671.9 159.4 672.0 159.7 672.2 159.9 672.4 160.2 672.5 160.4 672.7 160.7 672.9 160.9 673.0 161.2 673.2 161.4 673.3 161.7 673.5 161.9 673.7 162.2 673.8 162.4 674.0 162.7 674.1 162.9 674.3 163.2 674.5 163.5 674.6 163.8 674.8 164.1 674.9 164.4 675.1 164.7 675.2 165.0 675.4 165.3 675.5 165.6 675.7 165.9 675.8 166.2 676.0 166.5 676.1 166.8 676.3 167.1 676.4 167.4 676.6 167.7 676.7 168.0 676.9 168.3 677.0 168.6 677.2 169.0 677.3 169.3 677.4 169.6 677.6 169.9 677.7 170.2 677.9 170.5 678.0 170.8 678.1 171.1 678.3 171.5 678.4 171.8 678.5 172.1 678.7 172.4 678.8 172.7 678.9 173.0 679.1 173.4 679.2 173.7 679.3 174.0 679.5 174.3 679.6 174.6 679.7 175.0 679.8 175.3 680.0 175.6 680.1 175.9 680.2 176.3 680.3 176.6 680.5 176.9 680.6 177.2 680.7 177.6 680.8 177.9 680.9 178.2 681.1 178.6 681.2 178.9 681.3 179.2 681.4 179.6 681.5 179.9 681.6 180.2 681.8 180.6 681.9 180.9 682.0 181.2 682.1 181.6 682.2 181.9 682.3 182.3 682.4 182.6 682.5 182.9 682.6 183.3 682.7 183.6 682.9 184.0 683.0 184.3 683.1 184.7 683.2 185.0 683.3 185.4 683.4 185.7 683.5 186.1 683.6 186.4 683.7 186.8 683.8 187.1 683.9 187.5 684.0 187.9 684.1 188.2 684.2 188.6 684.3 188.9 684.3 189.3 684.4 189.7 684.5 190.0 684.6 190.4 684.7 190.7 684.8 191.1 684.9 191.5 685.0 191.9 685.1 192.2 685.2 192.6 685.2 193.0 685.3 193.3 685.4 193.7 685.5 194.1 685.6 194.5 685.7 194.9 685.7 195.2 685.8 195.6 685.9 196.0 686.0 196.4 686.1 196.8 686.1 197.2 686.2 197.5 686.3 197.9 686.4 198.3 686.4 198.7 686.5 199.1 686.6 199.5 686.6 199.9 686.7 200.3 686.8 200.7 686.9 201.1 686.9 201.5 687.0 201.9 687.1 202.3 687.1 202.7 687.2 203.2 687.3 203.6 687.3 204.0 687.4 204.4 687.4 204.8 687.5 205.2 687.6 205.7 687.6 206.1 687.7 206.5 687.7 206.9 687.8 207.4 687.9 207.8 687.9 208.2 688.0 208.7 688.0 209.1 688.1 209.6 688.1 210.0 688.2 210.4 688.2 210.9 688.3 211.3 688.3 211.8 688.4 212.3 688.4 212.7 688.5 213.2 688.5 213.6 688.6 214.1 688.6 214.6 688.6 215.0 688.7 215.5 688.7 216.0 688.8 216.5 688.8 217.0 688.8 217.5 688.9 218.0 688.9 218.4 689.0 218.9 689.0 219.4 689.0 220.0 689.1 220.5 689.1 221.0 689.1 221.5 689.2 222.0 689.2 222.6 689.2 223.1 689.2 223.6 689.3 224.2 689.3 224.7 689.3 225.3 689.4 225.8 689.4 226.4 689.4 227.0 689.4 227.5 689.4 228.1 689.5 228.5 689.5 228.9 689.5 229.3 689.5 229.7 689.5 230.1 689.5 230.5 689.5 231.0 689.6 231.4 689.6 231.8 689.6 232.2 689.6 232.7 689.6 233.1 689.6 233.5 689.6 234.0 689.6 234.4 689.6 234.9 689.6 235.4 689.7 235.8 689.7 236.3 689.7 236.8 689.7 237.3 689.7 237.8 689.7 238.3 689.7 238.8 689.7 239.4 689.7 239.9 689.7 240.5 689.7 241.0 689.7 241.6 689.7 242.2 689.7 242.9 689.7 243.5 689.7 244.2 689.7 244.9 689.7 245.6 689.7 246.4 689.7 246.8 689.7 247.2 689.7 247.7 689.7 248.1 689.7 248.7 689.7 249.2 689.7 249.8 689.7 250.6 689.7 251.8 685.8 252.0 685.7 250.9 685.7 250.2 685.7 249.6 685.7 249.1 685.7 248.6 685.7 248.2 685.7 247.8 685.7 247.4 685.7 247.0 685.7 246.2 685.7 245.5 685.7 244.9 685.7 244.2 685.7 243.6 685.7 243.0 685.7 242.4 685.7 241.9 685.7 241.3 685.7 240.8 685.7 240.3 685.7 239.8 685.7 239.3 685.7 238.8 685.7 238.3 685.7 237.8 685.7 237.3 685.7 236.9 685.7 236.4 685.6 235.9 685.6 235.5 685.6 235.1 685.6 234.6 685.6 234.2 685.6 233.8 685.6 233.4 685.6 232.9 685.6 232.5 685.6 232.1 685.5 231.7 685.5 231.3 685.5 230.9 685.5 230.5 685.5 230.1 685.5 229.7 685.5 229.4 685.4 228.8 685.4 228.2 685.4 227.7 685.4 227.1 685.3 226.6 685.3 226.0 685.3 225.5 685.3 225.0 685.2 224.4 685.2 223.9 685.2 223.4 685.1 222.9 685.1 222.4 685.1 221.9 685.0 221.4 685.0 220.9 685.0 220.4 684.9 219.9 684.9 219.4 684.9 218.9 684.8 218.4 684.8 218.0 684.7 217.5 684.7 217.0 684.7 216.6 684.6 216.1 684.6 215.6 684.5 215.2 684.5 214.7 684.4 214.3 684.4 213.8 684.4 213.4 684.3 212.9 684.3 212.5 684.2 212.1 684.2 211.6 684.1 211.2 684.1 210.7 684.0 210.3 683.9 209.9 683.9 209.5 683.8 209.0 683.8 208.6 683.7 208.2 683.7 207.8 683.6 207.4 683.6 206.9 683.5 206.5 683.4 206.1 683.4 205.7 683.3 205.3 683.2 204.9 683.2 204.5 683.1 204.1 683.1 203.7 683.0 203.3 682.9 202.9 682.8 202.5 682.8 202.1 682.7 201.7 682.6 201.3 682.6 200.9 682.5 200.5 682.4 200.1 682.4 199.8 682.3 199.4 682.2 199.0 682.1 198.6 682.0 198.2 682.0 197.8 681.9 197.5 681.8 197.1 681.7 196.7 681.7 196.3 681.6 196.0 681.5 195.6 681.4 195.2 681.3 194.9 681.2 194.5 681.2 194.1 681.1 193.8 681.0 193.4 680.9 193.0 680.8 192.7 680.7 192.3 680.6 191.9 680.5 191.6 680.4 191.2 680.3 190.9 680.3 190.5 680.2 190.2 680.1 189.8 680.0 189.5 679.9 189.1 679.8 188.8 679.7 188.4 679.6 188.1 679.5 187.7 679.4 187.4 679.3 187.0 679.2 186.7 679.1 186.3 679.0 186.0 678.9 185.7 678.8 185.3 678.7 185.0 678.5 184.6 678.4 184.3 678.3 184.0 678.2 183.6 678.1 183.3 678.0 183.0 677.9 182.6 677.8 182.3 677.7 182.0 677.5 181.6 677.4 181.3 677.3 181.0 677.2 180.6 677.1 180.3 677.0 180.0 676.8 179.7 676.7 179.3 676.6 179.0 676.5 178.7 676.4 178.4 676.2 178.0 676.1 177.7 676.0 177.4 675.9 177.1 675.7 176.8 675.6 176.4 675.5 176.1 675.4 175.8 675.2 175.5 675.1 175.2 675.0 174.9 674.8 174.6 674.7 174.2 674.6 173.9 674.4 173.6 674.3 173.3 674.2 173.0 674.0 172.7 673.9 172.4 673.8 172.1 673.6 171.8 673.5 171.5 673.3 171.2 673.2 170.8 673.1 170.5 672.9 170.2 672.8 169.9 672.6 169.6 672.5 169.3 672.3 169.0 672.2 168.7 672.0 168.4 671.9 168.1 671.7 167.8 671.6 167.5 671.4 167.2 671.3 166.9 671.1 166.6 671.0 166.3 670.8 166.1 670.7 165.8 670.5 165.5 670.4 165.3 670.2 165.0 670.1 164.8 669.9 164.5 669.8 164.2 669.6 164.0 669.4 163.7 669.3 163.5 669.1 163.3 669.0 163.0 668.8 162.8 668.6 162.5 668.5 162.3 668.3 162.0 668.1 161.8 668.0 161.5 667.8 161.3 667.6 161.0 667.5 160.8 667.3 160.5 667.1 160.3 666.9 160.0 666.8 159.8 666.6 159.5 666.4 159.3 666.3 159.1 666.1 158.8 665.9 158.6 665.7 158.3 665.5 158.1 665.4 157.8 665.2 157.6 665.0 157.4 664.8 157.1 664.6 156.9 664.5 156.6 664.3 156.4 664.1 156.1 663.9 155.9 663.7 155.7 663.5 155.4 663.4 155.2 663.2 154.9 663.0 154.7 662.8 154.5 662.6 154.2 662.4 154.0 662.2 153.7 662.0 153.5 661.8 153.3 661.6 153.0 661.4 152.8 661.2 152.6 661.1 152.3 660.9 152.1 660.7 151.8 660.5 151.6 660.3 151.4 660.1 151.1 659.9 150.9 659.7 150.7 659.5 150.4 659.3 150.2 659.1 150.0 658.8 149.7 658.6 149.5 658.4 149.3 658.2 149.0 658.0 148.8 657.8 148.6 657.6 148.3 657.4 148.1 657.2 147.9 657.0 147.6 656.8 147.4 656.6 147.2 656.3 146.9 656.1 146.7 655.9 146.5 655.7 146.2 655.5 146.0 655.3 145.8 655.0 145.6 654.8 145.3 654.6 145.1 654.4 144.9 654.2 144.6 653.9 144.4 653.7 144.2 653.5 143.9 653.3 143.7 653.1 143.5 652.8 143.3 652.6 143.0 652.4 142.8 652.1 142.6 651.9 142.4 651.7 142.1 651.5 141.9 651.2 141.7 651.0 141.5 650.8 141.2 650.5 141.0 650.3 140.7 650.1 140.5 649.8 140.2 649.6 140.0 649.4 139.7 649.1 139.5 648.9 139.2 648.6 139.0 648.4 138.8 648.2 138.5 647.9 138.3 647.7 138.0 647.4 137.8 647.2 137.6 647.0 137.3 646.7 137.1 646.5 136.8 646.2 136.6 646.0 136.4 645.7 136.1 645.5 135.9 645.2 135.6 645.0 135.4 644.7 135.2 644.5 134.9 644.2 134.7 644.0 134.5 643.7 134.2 643.5 134.0 643.2 133.7 643.0 133.5 642.7 133.3 642.5 133.0 642.2 132.8 641.9 132.6 641.7 132.4 641.4 132.1 641.2 131.9 640.9 131.7 640.6 131.4 640.4 131.2 640.1 131.0 639.9 130.7 639.6 130.5 639.3 130.3 639.1 130.0 638.8 129.8 638.5 129.6 638.3 129.4 638.0 129.1 637.7 128.9 637.5 128.7 637.2 128.5 636.9 128.2 636.7 128.0 636.4 127.8 636.1 127.6 635.8 127.3 635.6 127.1 635.3 126.9 635.0 126.7 634.7 126.4 634.5 126.2 634.2 126.0 633.9 125.8 633.6 125.6 633.3 125.3 633.1 125.1 632.8 124.9 632.5 124.7 632.2 124.5 631.9 124.2 631.7 124.0 631.4 123.8 631.1 123.6 630.8 123.4 630.5 123.2 630.2 122.9 629.9 122.7 629.7 122.5 629.4 122.3 629.1 122.1 628.8 121.9 628.5 121.7 628.2 121.4 627.9 121.2 627.6 121.0 627.3 120.8 627.0 120.6 626.7 120.4 626.4 120.2 626.1 120.0 625.8 119.7 625.6 119.5 625.3 119.3 625.0 119.1 624.7 118.9 624.4 118.7 624.1 118.5 623.8 118.3 623.5 118.1 623.1 117.9 622.8 117.7 622.5 117.5 622.2 117.2 621.9 117.0 621.6 116.8 621.3 116.6 621.0 116.4 620.7 116.2 620.4 116.0 620.1 115.8 619.8 115.6 619.5 115.4 619.2 115.2 618.8 115.0 618.5 114.8 618.2 114.6 617.9 114.4 617.6 114.2 617.3 114.0 617.0 113.8 616.6 113.6 616.3 113.4 616.0 113.2 615.7 113.0 615.4 112.8 615.0 112.6 614.7 112.4 614.4 112.2 614.1 112.0 613.8 111.8 613.4 111.6 613.1 111.4 612.8 111.2 612.5 111.0 612.1 110.8 611.8 110.6 611.5 110.4 611.2 110.3 610.8 110.1 610.5 109.9 610.2 109.7 609.8 109.5 609.5 109.3 609.2 109.1 608.9 108.9 608.5 108.7 608.2 108.5 607.9 108.3 607.5 108.1 607.2 108.0 606.9 107.8 606.5 107.6 606.2 107.4 605.8 107.2 605.5 107.0 605.2 106.8 604.8 106.6 604.5 106.5 604.1 106.3 603.8 106.1 603.5 105.9 603.1 105.7 602.8 105.5 602.4 105.3 602.1 105.2 601.8 105.0 601.4 104.8 601.1 104.6 600.7 104.4 600.4 104.2 600.0 104.1 599.7 103.9 599.3 103.7 599.0 103.5 598.6 103.3 598.3 103.2 597.9 103.0 597.6 102.8 597.2 102.6 596.9 102.4 596.5 102.3 596.2 102.1 595.8 101.9 595.4 101.7 595.1 101.6 594.7 101.4 594.4 101.2 594.0 101.0 593.7 100.8 593.3 100.7 592.9 100.5 592.6 100.3 592.2 100.1 591.9 100.0 591.5 99.8 591.1 99.6 590.8 99.5 590.4 99.3 590.1 99.1 589.7 98.9 589.3 98.8 589.0 98.6 588.6 98.4 588.2 98.3 587.9 98.1 587.5 97.9 587.1 97.7 586.7 97.6 586.4 97.4 586.0 97.2 585.6 97.1 585.3 96.9 584.9 96.7 584.5 96.6 584.2 96.4 583.8 96.2 583.4 96.1 583.0 95.9 582.7 95.7 582.3 95.6 581.9 95.4 581.5 95.2 581.1 95.1 580.8 94.9 580.4 94.8 580.0 94.6 579.6 94.4 579.3 94.3 578.9 94.1 578.5 93.9 578.1 93.8 577.7 93.6 577.3 93.5 577.0 93.3 576.6 93.1 576.2 93.0 575.8 92.8 575.4 92.7 575.0 92.5 574.6 92.3 574.3 92.2 573.9 92.0 573.5 91.9 573.1 91.7 572.7 91.6 572.3 91.4 571.9 91.3 571.5 91.1 571.1 90.9 570.7 90.8 570.4 90.6 570.0 90.5 569.6 90.3 569.2 90.2 568.8 90.0 568.4 89.9 568.0 89.7 567.6 89.6 567.2 89.4 566.8 89.3 566.4 89.1 566.0 89.0 565.6 88.8 565.2 88.7 564.8 88.5 564.4 88.4 564.0 88.2 563.6 88.1 563.2 87.9 562.8 87.8 562.4 87.6 562.0 87.5 561.6 87.3 561.2 87.2 560.8 87.0 560.4 86.9 560.0 86.7 559.6 86.6 559.2 86.5 558.7 86.3 558.3 86.2 557.9 86.0 557.5 85.9 557.1 85.7 556.7 85.6 556.3 85.5 555.9 85.3 555.5 85.2 555.1 85.0 554.6 84.9 554.2 84.7 553.8 84.6 553.4 84.5 553.0 84.3 552.6 84.2 552.2 84.0 551.7 83.9 551.3 83.8 550.9 83.6 550.5 83.5 550.1 83.4 549.7 83.2 549.2 83.1 548.8 82.9 548.4 82.8 548.0 82.7 547.6 82.5 547.1 82.4 546.7 82.3 546.3 82.1 545.9 82.0 545.5 81.9 545.0 81.7 544.6 81.6 544.2 81.5 543.8 81.3 543.3 81.2 542.9 81.1 542.5 80.9 542.1 80.8 541.6 80.7 541.2 80.6 540.8 80.4 540.3 80.3 539.9 80.2 539.5 80.0 539.1 79.9 538.6 79.8 538.2 79.7 537.8 79.5 537.3 79.4 536.9 79.3 536.5 79.2 536.0 79.0 535.6 78.9 535.2 78.8 534.7 78.7 534.3 78.5 533.9 78.4 533.4 78.3 533.0 78.2 532.6 78.0 532.1 77.9 531.7 77.8 531.2 77.7 530.8 77.5 530.4 77.4 529.9 77.3 529.5 77.2 529.1 77.1 528.6 76.9 528.2 76.8 527.7 76.7 527.3 76.6 526.8 76.5 526.4 76.3 526.0 76.2 525.5 76.1 525.1 76.0 524.6 75.9 524.2 75.8 523.7 75.6 523.3 75.5 522.9 75.4 522.4 75.3 522.0 75.2 521.5 75.1 521.1 75.0 520.6 74.8 520.2 74.7 519.7 74.6 519.3 74.5 518.8 74.4 518.4 74.3 517.9 74.2 517.5 74.1 517.0 73.9 516.6 73.8 516.1 73.7 515.7 73.6 515.2 73.5 514.8 73.4 514.3 73.3 513.9 73.2 513.4 73.1 513.0 73.0 512.5 72.8 512.0 72.7 511.6 72.6 511.1 72.5 510.7 72.4 510.2 72.3 509.8 72.2 509.3 72.1 508.8 72.0 508.4 71.9 507.9 71.8 507.5 71.7 507.0 71.6 506.6 71.5 506.1 71.4 505.6 71.3 505.2 71.2 504.7 71.1 504.3 71.0 503.8 70.9 503.3 70.8 502.9 70.7 502.4 70.6 501.9 70.5 501.5 70.4 501.0 70.3 500.5 70.2 500.1 70.1 499.6 70.0 499.2 69.9 498.7 69.8 498.2 69.7 497.8 69.6 497.3 69.5 496.8 69.4 496.4 69.3 495.9 69.2 495.4 69.1 495.0 69.0 494.5 68.9 494.0 68.8 493.5 68.7 493.1 68.6 492.6 68.5 492.1 68.4 491.7 68.4 491.2 68.3 490.7 68.2 490.3 68.1 489.8 68.0 489.3 67.9 488.8 67.8 488.4 67.7 487.9 67.6 487.4 67.5 486.9 67.5 486.5 67.4 486.0 67.3 485.5 67.2 485.0 67.1 484.6 67.0 484.1 66.9 483.6 66.8 483.1 66.8 482.7 66.7 482.2 66.6 481.7 66.5 481.2 66.4 480.8 66.3 480.3 66.2 479.8 66.2 479.3 66.1 478.8 66.0 478.4 65.9 477.9 65.8 477.4 65.7 476.9 65.7 476.4 65.6 476.0 65.5 475.5 65.4 475.0 65.3 474.5 65.3 474.0 65.2 473.6 65.1 473.1 65.0 472.6 64.9 472.1 64.9 471.6 64.8 471.1 64.7 470.7 64.6 470.2 64.6 469.7 64.5 469.2 64.4 468.7 64.3 468.2 64.3 467.7 64.2 467.3 64.1 466.8 64.0 466.3 64.0 465.8 63.9 465.3 63.8 464.8 63.7 464.3 63.7 463.8 63.6 463.4 63.5 462.9 63.4 462.4 63.4 461.9 63.3 461.4 63.2 460.9 63.2 460.4 63.1 459.9 63.0 459.4 63.0 459.0 62.9 458.5 62.8 458.0 62.7 457.5 62.7 457.0 62.6 456.5 62.5 456.0 62.5 455.5 62.4 455.0 62.3 454.5 62.3 454.0 62.2 453.6 62.1 453.1 62.1 452.6 62.0 452.1 62.0 451.6 61.9 451.1 61.8 450.6 61.8 450.1 61.7 449.6 61.6 449.1 61.6 448.6 61.5 448.1 61.5 447.6 61.4 447.1 61.3 446.6 61.3 446.1 61.2 445.6 61.2 445.1 61.1 444.6 61.0 444.1 61.0 443.6 60.9 443.2 60.9 442.7 60.8 442.2 60.7 441.7 60.7 441.2 60.6 440.7 60.6 440.2 60.5 439.7 60.5 439.2 60.4 438.7 60.4 438.2 60.3 437.7 60.2 437.2 60.2 436.7 60.1 436.2 60.1 435.7 60.0 435.2 60.0 434.7 59.9 434.2 59.9 433.7 59.8 433.2 59.8 432.7 59.7 432.2 59.7 431.7 59.6 431.2 59.6 430.7 59.5 430.2 59.5 429.6 59.4 429.1 59.4 428.6 59.3 428.1 59.3 427.6 59.2 427.1 59.2 426.6 59.1 426.1 59.1 425.6 59.0 425.1 59.0 424.6 59.0 424.1 58.9 423.6 58.9 423.1 58.8 422.6 58.8 422.1 58.7 421.6 58.7 421.1 58.6 420.6 58.6 420.1 58.6 419.6 58.5 419.1 58.5 418.6 58.4 418.0 58.4 417.5 58.4 417.0 58.3 416.5 58.3 416.0 58.2 415.5 58.2 415.0 58.2 414.5 58.1 414.0 58.1 413.5 58.0 413.0 58.0 412.5 58.0 412.0 57.9 411.5 57.9 411.0 57.9 410.4 57.8 409.9 57.8 409.4 57.8 408.9 57.7 408.4 57.7 407.9 57.7 407.4 57.6 406.9 57.6 406.4 57.6 405.9 57.5 405.4 57.5 404.9 57.5 404.3 57.4 403.8 57.4 403.3 57.4 402.8 57.3 402.3 57.3 401.8 57.3 401.3 57.2 400.8 57.2 400.3 57.2 399.8 57.2 399.2 57.1 398.7 57.1 398.2 57.1 397.7 57.0 397.2 57.0 396.7 57.0 396.2 57.0 395.7 56.9 395.2 56.9 394.7 56.9 394.1 56.9 393.6 56.8 393.1 56.8 392.6 56.8 392.1 56.8 391.6 56.8 391.1 56.7 390.6 56.7 390.1 56.7 389.5 56.7 389.0 56.6 388.5 56.6 388.0 56.6 387.5 56.6 387.0 56.6 386.5 56.5 386.0 56.5 385.5 56.5 384.9 56.5 384.4 56.5 383.9 56.5 383.4 56.4 382.9 56.4 382.4 56.4 381.9 56.4 381.4 56.4 380.9 56.4 380.4 56.3 379.8 56.3 379.3 56.3 378.8 56.3 378.3 56.3 377.8 56.3 377.3 56.3 376.8 56.2 376.3 56.2 375.8 56.2 375.2 56.2 374.7 56.2 374.2 56.2 373.7 56.2 373.2 56.2 372.7 56.2 372.2 56.1 371.7 56.1 371.2 56.1 370.7 56.1 370.1 56.1 369.6 56.1 369.1 56.1 368.6 56.1 368.1 56.1 367.6 56.1 367.1 56.1 366.6 56.1 366.1 56.1 365.6 56.0 365.1 56.0 364.6 56.0 364.1 56.0 363.6 56.0 363.1 56.0 362.6 56.0 362.1 56.0 361.6 56.0 361.1 56.0 360.6 56.0 360.1 56.0 359.6 56.0 359.1 56.0 358.7 56.0 358.2 56.0Z M356.5 53.0 360.5 53.0 360.5 56.0 356.5 56.0Z M685.8 250.4 689.8 250.4 689.8 253.4 685.8 253.4Z" fill="#0000ff"/>
<path d="M358.8 48.0 358.3 48.0 357.9 48.0 357.4 48.0 356.9 48.0 356.4 48.0 355.9 48.0 355.4 48.0 354.9 48.0 354.4 48.0 353.9 48.0 353.4 48.0 352.9 48.0 352.4 48.1 351.9 48.1 351.4 48.1 350.9 48.1 350.4 48.1 349.9 48.1 349.4 48.1 348.9 48.1 348.4 48.1 347.9 48.1 347.3 48.1 346.8 48.1 346.3 48.1 345.8 48.1 345.3 48.1 344.8 48.1 344.3 48.2 343.8 48.2 343.3 48.2 342.8 48.2 342.3 48.2 341.7 48.2 341.2 48.2 340.7 48.2 340.2 48.2 339.7 48.3 339.2 48.3 338.7 48.3 338.2 48.3 337.7 48.3 337.1 48.3 336.6 48.3 336.1 48.3 335.6 48.4 335.1 48.4 334.6 48.4 334.1 48.4 333.6 48.4 333.1 48.4 332.5 48.5 332.0 48.5 331.5 48.5 331.0 48.5 330.5 48.5 330.0 48.5 329.5 48.6 329.0 48.6 328.5 48.6 327.9 48.6 327.4 48.6 326.9 48.7 326.4 48.7 325.9 48.7 325.4 48.7 324.9 48.7 324.4 48.8 323.9 48.8 323.3 48.8 322.8 48.8 322.3 48.8 321.8 48.9 321.3 48.9 320.8 48.9 320.3 48.9 319.8 49.0 319.3 49.0 318.8 49.0 318.2 49.0 317.7 49.1 317.2 49.1 316.7 49.1 316.2 49.1 315.7 49.2 315.2 49.2 314.7 49.2 314.2 49.3 313.7 49.3 313.1 49.3 312.6 49.3 312.1 49.4 311.6 49.4 311.1 49.4 310.6 49.5 310.1 49.5 309.6 49.5 309.1 49.6 308.6 49.6 308.1 49.6 307.6 49.6 307.0 49.7 306.5 49.7 306.0 49.7 305.5 49.8 305.0 49.8 304.5 49.8 304.0 49.9 303.5 49.9 303.0 49.9 302.5 50.0 302.0 50.0 301.5 50.1 301.0 50.1 300.4 50.1 299.9 50.2 299.4 50.2 298.9 50.2 298.4 50.3 297.9 50.3 297.4 50.4 296.9 50.4 296.4 50.4 295.9 50.5 295.4 50.5 294.9 50.6 294.4 50.6 293.9 50.6 293.4 50.7 292.9 50.7 292.4 50.8 291.9 50.8 291.4 50.8 290.9 50.9 290.3 50.9 289.8 51.0 289.3 51.0 288.8 51.1 288.3 51.1 287.8 51.1 287.3 51.2 286.8 51.2 286.3 51.3 285.8 51.3 285.3 51.4 284.8 51.4 284.3 51.5 283.8 51.5 283.3 51.6 282.8 51.6 282.3 51.7 281.8 51.7 281.3 51.8 280.8 51.8 280.3 51.9 279.8 51.9 279.3 52.0 278.8 52.0 278.3 52.1 277.8 52.1 277.3 52.2 276.8 52.2 276.3 52.3 275.8 52.3 275.3 52.4 274.8 52.4 274.3 52.5 273.8 52.5 273.3 52.6 272.8 52.6 272.3 52.7 271.8 52.7 271.3 52.8 270.8 52.9 270.4 52.9 269.9 53.0 269.4 53.0 268.9 53.1 268.4 53.1 267.9 53.2 267.4 53.2 266.9 53.3 266.4 53.4 265.9 53.4 265.4 53.5 264.9 53.5 264.4 53.6 263.9 53.7 263.4 53.7 262.9 53.8 262.4 53.8 262.0 53.9 261.5 54.0 261.0 54.0 260.5 54.1 260.0 54.2 259.5 54.2 259.0 54.3 258.5 54.3 258.0 54.4 257.5 54.5 257.0 54.5 256.6 54.6 256.1 54.7 255.6 54.7 255.1 54.8 254.6 54.9 254.1 54.9 253.6 55.0 253.1 55.1 252.6 55.1 252.2 55.2 251.7 55.3 251.2 55.3 250.7 55.4 250.2 55.5 249.7 55.5 249.2 55.6 248.8 55.7 248.3 55.7 247.8 55.8 247.3 55.9 246.8 56.0 246.3 56.0 245.8 56.1 245.4 56.2 244.9 56.3 244.4 56.3 243.9 56.4 243.4 56.5 242.9 56.5 242.5 56.6 242.0 56.7 241.5 56.8 241.0 56.8 240.5 56.9 240.1 57.0 239.6 57.1 239.1 57.1 238.6 57.2 238.1 57.3 237.7 57.4 237.2 57.5 236.7 57.5 236.2 57.6 235.7 57.7 235.3 57.8 234.8 57.8 234.3 57.9 233.8 58.0 233.4 58.1 232.9 58.2 232.4 58.2 231.9 58.3 231.5 58.4 231.0 58.5 230.5 58.6 230.0 58.7 229.6 58.7 229.1 58.8 228.6 58.9 228.1 59.0 227.7 59.1 227.2 59.2 226.7 59.2 226.3 59.3 225.8 59.4 225.3 59.5 224.8 59.6 224.4 59.7 223.9 59.8 223.4 59.8 223.0 59.9 222.5 60.0 222.0 60.1 221.6 60.2 221.1 60.3 220.6 60.4 220.2 60.5 219.7 60.6 219.2 60.6 218.8 60.7 218.3 60.8 217.8 60.9 217.4 61.0 216.9 61.1 216.4 61.2 216.0 61.3 215.5 61.4 215.0 61.5 214.6 61.6 214.1 61.7 213.7 61.8 213.2 61.8 212.7 61.9 212.3 62.0 211.8 62.1 211.3 62.2 210.9 62.3 210.4 62.4 210.0 62.5 209.5 62.6 209.0 62.7 208.6 62.8 208.1 62.9 207.7 63.0 207.2 63.1 206.8 63.2 206.3 63.3 205.8 63.4 205.4 63.5 204.9 63.6 204.5 63.7 204.0 63.8 203.6 63.9 203.1 64.0 202.7 64.1 202.2 64.2 201.8 64.3 201.3 64.4 200.9 64.5 200.4 64.6 200.0 64.7 199.5 64.8 199.1 64.9 198.6 65.0 198.2 65.1 197.7 65.2 197.3 65.3 196.8 65.5 196.4 65.6 195.9 65.7 195.5 65.8 195.0 65.9 194.6 66.0 194.1 66.1 193.7 66.2 193.2 66.3 192.8 66.4 192.3 66.5 191.9 66.6 191.5 66.8 191.0 66.9 190.6 67.0 190.1 67.1 189.7 67.2 189.2 67.3 188.8 67.4 188.4 67.5 187.9 67.6 187.5 67.8 187.0 67.9 186.6 68.0 186.2 68.1 185.7 68.2 185.3 68.3 184.9 68.4 184.4 68.6 184.0 68.7 183.5 68.8 183.1 68.9 182.7 69.0 182.2 69.1 181.8 69.3 181.4 69.4 180.9 69.5 180.5 69.6 180.1 69.7 179.6 69.8 179.2 70.0 178.8 70.1 178.4 70.2 177.9 70.3 177.5 70.4 177.1 70.6 176.6 70.7 176.2 70.8 175.8 70.9 175.4 71.0 174.9 71.2 174.5 71.3 174.1 71.4 173.6 71.5 173.2 71.7 172.8 71.8 172.4 71.9 172.0 72.0 171.5 72.2 171.1 72.3 170.7 72.4 170.3 72.5 169.8 72.7 169.4 72.8 169.0 72.9 168.6 73.0 168.2 73.2 167.7 73.3 167.3 73.4 166.9 73.6 166.5 73.7 166.1 73.8 165.7 73.9 165.2 74.1 164.8 74.2 164.4 74.3 164.0 74.5 163.6 74.6 163.2 74.7 162.7 74.9 162.3 75.0 161.9 75.1 161.5 75.3 161.1 75.4 160.7 75.5 160.3 75.7 159.9 75.8 159.5 75.9 159.1 76.1 158.6 76.2 158.2 76.3 157.8 76.5 157.4 76.6 157.0 76.7 156.6 76.9 156.2 77.0 155.8 77.2 155.4 77.3 155.0 77.4 154.6 77.6 154.2 77.7 153.8 77.9 153.4 78.0 153.0 78.1 152.6 78.3 152.2 78.4 151.8 78.6 151.4 78.7 151.0 78.8 150.6 79.0 150.2 79.1 149.8 79.3 149.4 79.4 149.0 79.6 148.6 79.7 148.2 79.8 147.8 80.0 147.4 80.1 147.0 80.3 146.6 80.4 146.2 80.6 145.8 80.7 145.5 80.9 145.1 81.0 144.7 81.2 144.3 81.3 143.9 81.5 143.5 81.6 143.1 81.7 142.7 81.9 142.3 82.0 142.0 82.2 141.6 82.3 141.2 82.5 140.8 82.6 140.4 82.8 140.0 83.0 139.6 83.1 139.3 83.3 138.9 83.4 138.5 83.6 138.1 83.7 137.7 83.9 137.4 84.0 137.0 84.2 136.6 84.3 136.2 84.5 135.8 84.6 135.5 84.8 135.1 84.9 134.7 85.1 134.3 85.3 134.0 85.4 133.6 85.6 133.2 85.7 132.8 85.9 132.5 86.1 132.1 86.2 131.7 86.4 131.3 86.5 131.0 86.7 130.6 86.8 130.2 87.0 129.9 87.2 129.5 87.3 129.1 87.5 128.8 87.7 128.4 87.8 128.0 88.0 127.7 88.1 127.3 88.3 126.9 88.5 126.6 88.6 126.2 88.8 125.8 89.0 125.5 89.1 125.1 89.3 124.8 89.5 124.4 89.6 124.0 89.8 123.7 90.0 123.3 90.1 123.0 90.3 122.6 90.5 122.3 90.6 121.9 90.8 121.5 91.0 121.2 91.1 120.8 91.3 120.5 91.5 120.1 91.6 119.8 91.8 119.4 92.0 119.1 92.2 118.7 92.3 118.4 92.5 118.0 92.7 117.7 92.8 117.3 93.0 117.0 93.2 116.6 93.4 116.3 93.5 115.9 93.7 115.6 93.9 115.2 94.1 114.9 94.2 114.5 94.4 114.2 94.6 113.9 94.8 113.5 94.9 113.2 95.1 112.8 95.3 112.5 95.5 112.2 95.7 111.8 95.8 111.5 96.0 111.1 96.2 110.8 96.4 110.5 96.6 110.1 96.7 109.8 96.9 109.5 97.1 109.1 97.3 108.8 97.5 108.5 97.6 108.1 97.8 107.8 98.0 107.5 98.2 107.1 98.4 106.8 98.6 106.5 98.7 106.2 98.9 105.8 99.1 105.5 99.3 105.2 99.5 104.8 99.7 104.5 99.9 104.2 100.0 103.9 100.2 103.5 100.4 103.2 100.6 102.9 100.8 102.6 101.0 102.3 101.2 101.9 101.4 101.6 101.6 101.3 101.7 101.0 101.9 100.7 102.1 100.4 102.3 100.0 102.5 99.7 102.7 99.4 102.9 99.1 103.1 98.8 103.3 98.5 103.5 98.2 103.7 97.8 103.9 97.5 104.1 97.2 104.3 96.9 104.5 96.6 104.7 96.3 104.9 96.0 105.0 95.7 105.2 95.4 105.4 95.1 105.6 94.8 105.8 94.5 106.0 94.1 106.2 93.8 106.4 93.5 106.6 93.2 106.8 92.9 107.0 92.6 107.2 92.3 107.4 92.0 107.6 91.7 107.8 91.4 108.0 91.1 108.3 90.8 108.5 90.5 108.7 90.3 108.9 90.0 109.1 89.7 109.3 89.4 109.5 89.1 109.7 88.8 109.9 88.5 110.1 88.2 110.3 87.9 110.5 87.6 110.7 87.3 110.9 87.0 111.1 86.8 111.3 86.5 111.6 86.2 111.8 85.9 112.0 85.6 112.2 85.3 112.4 85.1 112.6 84.8 112.8 84.5 113.0 84.2 113.2 83.9 113.5 83.6 113.7 83.4 113.9 83.1 114.1 82.8 114.3 82.5 114.5 82.3 114.8 82.0 115.0 81.7 115.2 81.4 115.4 81.2 115.6 80.9 115.8 80.6 116.1 80.3 116.3 80.1 116.5 79.8 116.7 79.5 116.9 79.3 117.1 79.0 117.4 78.7 117.6 78.5 117.8 78.2 118.0 77.9 118.3 77.7 118.5 77.4 118.7 77.1 118.9 76.9 119.2 76.6 119.4 76.3 119.6 76.1 119.8 75.8 120.1 75.6 120.3 75.3 120.5 75.1 120.7 74.8 121.0 74.5 121.2 74.3 121.4 74.0 121.6 73.8 121.9 73.5 122.1 73.3 122.3 73.0 122.6 72.8 122.8 72.5 123.0 72.3 123.3 72.0 123.5 71.8 123.7 71.5 124.0 71.3 124.2 71.0 124.4 70.8 124.7 70.5 124.9 70.3 125.1 70.0 125.4 69.8 125.6 69.6 125.8 69.3 126.1 69.1 126.3 68.8 126.5 68.6 126.8 68.4 127.0 68.1 127.3 67.9 127.5 67.6 127.7 67.4 128.0 67.2 128.2 66.9 128.5 66.7 128.7 66.5 129.0 66.2 129.2 66.0 129.4 65.8 129.7 65.6 129.9 65.3 130.2 65.1 130.4 64.9 130.7 64.6 130.9 64.4 131.2 64.2 131.4 64.0 131.7 63.7 131.9 63.5 132.2 63.3 132.4 63.1 132.7 62.8 132.9 62.6 133.2 62.4 133.4 62.2 133.7 62.0 133.9 61.8 134.2 61.5 134.4 61.3 134.7 61.1 134.9 60.9 135.2 60.7 135.4 60.5 135.7 60.3 135.9 60.0 136.2 59.8 136.5 59.6 136.7 59.4 137.0 59.2 137.2 59.0 137.5 58.8 137.8 58.6 138.0 58.4 138.3 58.2 138.5 58.0 138.8 57.8 139.1 57.6 139.3 57.4 139.6 57.2 139.9 57.0 140.1 56.8 140.4 56.6 140.6 56.4 140.9 56.2 141.2 56.0 141.4 55.8 141.7 55.6 142.0 55.4 142.3 55.2 142.5 55.0 142.8 54.8 143.1 54.6 143.3 54.4 143.6 54.2 143.9 54.0 144.1 53.9 144.4 53.7 144.7 53.5 145.0 53.3 145.2 53.1 145.5 52.9 145.8 52.7 146.1 52.6 146.4 52.4 146.6 52.2 146.9 52.0 147.2 51.8 147.5 51.7 147.7 51.5 148.0 51.3 148.3 51.1 148.6 50.9 148.9 50.8 149.2 50.6 149.4 50.4 149.7 50.2 150.0 50.1 150.3 49.9 150.6 49.7 150.9 49.6 151.2 49.4 151.4 49.2 151.7 49.1 152.0 48.9 152.3 48.7 152.6 48.6 152.9 48.4 153.2 48.2 153.5 48.1 153.8 47.9 154.1 47.7 154.4 47.6 154.7 47.4 155.0 47.3 155.3 47.1 155.6 46.9 155.9 46.8 156.2 46.6 156.5 46.5 156.8 46.3 157.1 46.2 157.4 46.0 157.7 45.9 158.0 45.7 158.3 45.6 158.6 45.4 158.9 45.3 159.2 45.1 159.5 45.0 159.8 44.8 160.1 44.7 160.4 44.5 160.7 44.4 161.0 44.2 161.3 44.1 161.7 43.9 162.0 43.8 162.3 43.7 162.6 43.5 162.9 43.4 163.2 43.2 163.5 43.1 163.9 43.0 164.2 42.8 164.5 42.7 164.8 42.6 165.1 42.4 165.5 42.3 165.8 42.2 166.1 42.0 166.4 41.9 166.8 41.8 167.1 41.6 167.4 41.5 167.7 41.4 168.1 41.3 168.4 41.1 168.7 41.0 169.0 40.9 169.4 40.8 169.7 40.6 170.0 40.5 170.4 40.4 170.7 40.3 171.1 40.2 171.4 40.0 171.7 39.9 172.1 39.8 172.4 39.7 172.7 39.6 173.1 39.5 173.4 39.3 173.8 39.2 174.1 39.1 174.5 39.0 174.8 38.9 175.2 38.8 175.5 38.7 175.9 38.6 176.2 38.5 176.6 38.4 176.9 38.2 177.3 38.1 177.6 38.0 178.0 37.9 178.3 37.8 178.7 37.7 179.1 37.6 179.4 37.5 179.8 37.4 180.1 37.3 180.5 37.2 180.9 37.1 181.2 37.0 181.6 36.9 182.0 36.8 182.3 36.7 182.7 36.7 183.1 36.6 183.5 36.5 183.8 36.4 184.2 36.3 184.6 36.2 185.0 36.1 185.4 36.0 185.7 35.9 186.1 35.8 186.5 35.8 186.9 35.7 187.3 35.6 187.7 35.5 188.1 35.4 188.4 35.3 188.8 35.3 189.2 35.2 189.6 35.1 190.0 35.0 190.4 35.0 190.8 34.9 191.2 34.8 191.6 34.7 192.0 34.7 192.4 34.6 192.9 34.5 193.3 34.4 193.7 34.4 194.1 34.3 194.5 34.2 194.9 34.2 195.4 34.1 195.8 34.0 196.2 34.0 196.6 33.9 197.1 33.8 197.5 33.8 197.9 33.7 198.3 33.6 198.8 33.6 199.2 33.5 199.7 33.4 200.1 33.4 200.6 33.3 201.0 33.3 201.4 33.2 201.9 33.2 202.4 33.1 202.8 33.1 203.3 33.0 203.7 32.9 204.2 32.9 204.7 32.8 205.1 32.8 205.6 32.7 206.1 32.7 206.6 32.6 207.0 32.6 207.5 32.6 208.0 32.5 208.5 32.5 209.0 32.4 209.5 32.4 210.0 32.3 210.5 32.3 211.0 32.3 211.5 32.2 212.0 32.2 212.6 32.1 213.1 32.1 213.6 32.1 214.1 32.0 214.7 32.0 215.2 32.0 215.8 31.9 216.3 31.9 216.9 31.9 217.4 31.8 217.8 31.8 218.2 31.8 218.6 31.8 219.0 31.8 219.3 31.7 219.7 31.7 220.1 31.7 220.5 31.7 220.9 31.7 221.3 31.7 221.7 31.6 222.1 31.6 222.5 31.6 222.9 31.6 223.4 31.6 223.8 31.6 224.2 31.5 224.6 31.5 225.1 31.5 225.5 31.5 225.9 31.5 226.4 31.5 226.8 31.5 227.3 31.4 227.7 31.4 228.2 31.4 228.7 31.4 229.1 31.4 229.6 31.4 230.1 31.4 230.6 31.4 231.1 31.4 231.6 31.4 232.1 31.3 232.6 31.3 233.2 31.3 233.7 31.3 234.3 31.3 234.8 31.3 235.4 31.3 236.0 31.3 236.5 31.3 237.1 31.3 237.8 31.3 238.4 31.3 239.0 31.3 239.7 31.3 240.4 31.3 241.1 31.3 241.9 31.3 242.6 31.3 243.0 31.3 243.5 31.3 243.9 31.3 244.3 31.3 244.8 31.3 245.2 31.3 245.7 31.3 246.2 31.3 246.8 31.3 247.3 31.3 247.9 31.3 248.6 31.3 249.4 31.3 250.3 31.2 252.0 27.3 251.8 27.3 250.0 27.3 249.0 27.3 248.2 27.3 247.5 27.3 246.9 27.3 246.3 27.3 245.7 27.3 245.2 27.3 244.7 27.3 244.2 27.3 243.7 27.3 243.3 27.3 242.8 27.3 242.4 27.3 242.0 27.3 241.2 27.3 240.4 27.3 239.6 27.3 238.9 27.3 238.2 27.3 237.6 27.3 236.9 27.3 236.3 27.3 235.7 27.3 235.1 27.3 234.5 27.3 233.9 27.3 233.3 27.3 232.7 27.3 232.2 27.4 231.6 27.4 231.1 27.4 230.6 27.4 230.1 27.4 229.6 27.4 229.1 27.4 228.6 27.4 228.1 27.4 227.6 27.4 227.1 27.5 226.6 27.5 226.2 27.5 225.7 27.5 225.2 27.5 224.8 27.5 224.3 27.5 223.9 27.6 223.4 27.6 223.0 27.6 222.6 27.6 222.1 27.6 221.7 27.6 221.3 27.6 220.9 27.7 220.5 27.7 220.0 27.7 219.6 27.7 219.2 27.7 218.8 27.8 218.4 27.8 218.0 27.8 217.6 27.8 217.2 27.8 216.8 27.9 216.5 27.9 216.1 27.9 215.5 27.9 214.9 28.0 214.4 28.0 213.8 28.0 213.3 28.1 212.7 28.1 212.2 28.2 211.6 28.2 211.1 28.2 210.6 28.3 210.1 28.3 209.5 28.4 209.0 28.4 208.5 28.4 208.0 28.5 207.5 28.5 207.0 28.6 206.5 28.6 206.0 28.7 205.5 28.7 205.0 28.8 204.5 28.8 204.0 28.9 203.5 28.9 203.1 29.0 202.6 29.0 202.1 29.1 201.7 29.1 201.2 29.2 200.7 29.3 200.3 29.3 199.8 29.4 199.3 29.4 198.9 29.5 198.4 29.6 198.0 29.6 197.5 29.7 197.1 29.7 196.6 29.8 196.2 29.9 195.8 29.9 195.3 30.0 194.9 30.1 194.5 30.1 194.0 30.2 193.6 30.3 193.2 30.3 192.8 30.4 192.3 30.5 191.9 30.6 191.5 30.6 191.1 30.7 190.7 30.8 190.2 30.9 189.8 30.9 189.4 31.0 189.0 31.1 188.6 31.2 188.2 31.3 187.8 31.3 187.4 31.4 187.0 31.5 186.6 31.6 186.2 31.7 185.8 31.8 185.4 31.8 185.0 31.9 184.6 32.0 184.2 32.1 183.8 32.2 183.5 32.3 183.1 32.4 182.7 32.5 182.3 32.6 181.9 32.7 181.5 32.7 181.2 32.8 180.8 32.9 180.4 33.0 180.0 33.1 179.7 33.2 179.3 33.3 178.9 33.4 178.5 33.5 178.2 33.6 177.8 33.7 177.4 33.8 177.1 33.9 176.7 34.0 176.3 34.1 176.0 34.3 175.6 34.4 175.3 34.5 174.9 34.6 174.5 34.7 174.2 34.8 173.8 34.9 173.5 35.0 173.1 35.1 172.8 35.2 172.4 35.4 172.1 35.5 171.7 35.6 171.4 35.7 171.0 35.8 170.7 35.9 170.3 36.1 170.0 36.2 169.7 36.3 169.3 36.4 169.0 36.5 168.6 36.7 168.3 36.8 167.9 36.9 167.6 37.0 167.3 37.2 166.9 37.3 166.6 37.4 166.3 37.5 165.9 37.7 165.6 37.8 165.3 37.9 164.9 38.1 164.6 38.2 164.3 38.3 164.0 38.5 163.6 38.6 163.3 38.7 163.0 38.9 162.7 39.0 162.3 39.1 162.0 39.3 161.7 39.4 161.4 39.6 161.1 39.7 160.7 39.8 160.4 40.0 160.1 40.1 159.8 40.3 159.5 40.4 159.1 40.6 158.8 40.7 158.5 40.9 158.2 41.0 157.9 41.2 157.6 41.3 157.3 41.4 157.0 41.6 156.7 41.8 156.3 41.9 156.0 42.1 155.7 42.2 155.4 42.4 155.1 42.5 154.8 42.7 154.5 42.8 154.2 43.0 153.9 43.2 153.6 43.3 153.3 43.5 153.0 43.6 152.7 43.8 152.4 44.0 152.1 44.1 151.8 44.3 151.5 44.5 151.2 44.6 150.9 44.8 150.6 44.9 150.3 45.1 150.0 45.3 149.7 45.5 149.4 45.6 149.2 45.8 148.9 46.0 148.6 46.1 148.3 46.3 148.0 46.5 147.7 46.7 147.4 46.8 147.1 47.0 146.8 47.2 146.6 47.4 146.3 47.5 146.0 47.7 145.7 47.9 145.4 48.1 145.1 48.3 144.9 48.5 144.6 48.6 144.3 48.8 144.0 49.0 143.7 49.2 143.4 49.4 143.2 49.6 142.9 49.8 142.6 49.9 142.3 50.1 142.1 50.3 141.8 50.5 141.5 50.7 141.2 50.9 141.0 51.1 140.7 51.3 140.4 51.5 140.1 51.7 139.9 51.9 139.6 52.1 139.3 52.3 139.1 52.5 138.8 52.7 138.5 52.9 138.2 53.1 138.0 53.3 137.7 53.5 137.4 53.7 137.2 53.9 136.9 54.1 136.6 54.3 136.4 54.5 136.1 54.7 135.9 54.9 135.6 55.1 135.3 55.3 135.1 55.5 134.8 55.7 134.5 56.0 134.3 56.2 134.0 56.4 133.8 56.6 133.5 56.8 133.2 57.0 133.0 57.2 132.7 57.4 132.5 57.7 132.2 57.9 132.0 58.1 131.7 58.3 131.5 58.5 131.2 58.8 130.9 59.0 130.7 59.2 130.4 59.4 130.2 59.7 129.9 59.9 129.7 60.1 129.4 60.3 129.2 60.6 128.9 60.8 128.7 61.0 128.4 61.2 128.2 61.5 127.9 61.7 127.7 61.9 127.4 62.2 127.2 62.4 126.9 62.6 126.7 62.9 126.5 63.1 126.2 63.3 126.0 63.6 125.7 63.8 125.5 64.0 125.2 64.3 125.0 64.5 124.8 64.8 124.5 65.0 124.3 65.2 124.0 65.5 123.8 65.7 123.6 66.0 123.3 66.2 123.1 66.5 122.8 66.7 122.6 66.9 122.4 67.2 122.1 67.4 121.9 67.7 121.7 67.9 121.4 68.2 121.2 68.4 121.0 68.7 120.7 68.9 120.5 69.2 120.3 69.4 120.0 69.7 119.8 70.0 119.6 70.2 119.3 70.5 119.1 70.7 118.9 71.0 118.6 71.2 118.4 71.5 118.2 71.8 117.9 72.0 117.7 72.3 117.5 72.5 117.3 72.8 117.0 73.1 116.8 73.3 116.6 73.6 116.4 73.9 116.1 74.1 115.9 74.4 115.7 74.7 115.5 74.9 115.2 75.2 115.0 75.5 114.8 75.7 114.6 76.0 114.3 76.3 114.1 76.6 113.9 76.8 113.7 77.1 113.5 77.4 113.2 77.6 113.0 77.9 112.8 78.2 112.6 78.5 112.4 78.8 112.2 79.0 111.9 79.3 111.7 79.6 111.5 79.9 111.3 80.2 111.1 80.4 110.9 80.7 110.6 81.0 110.4 81.3 110.2 81.6 110.0 81.9 109.8 82.1 109.6 82.4 109.4 82.7 109.2 83.0 108.9 83.3 108.7 83.6 108.5 83.9 108.3 84.2 108.1 84.5 107.9 84.7 107.7 85.0 107.5 85.3 107.3 85.6 107.1 85.9 106.8 86.2 106.6 86.5 106.4 86.8 106.2 87.1 106.0 87.4 105.8 87.7 105.6 88.0 105.4 88.3 105.2 88.6 105.0 88.9 104.8 89.2 104.6 89.5 104.4 89.8 104.2 90.1 104.0 90.4 103.8 90.7 103.6 91.0 103.4 91.3 103.2 91.6 103.0 92.0 102.8 92.3 102.6 92.6 102.4 92.9 102.2 93.2 102.0 93.5 101.8 93.8 101.6 94.1 101.4 94.4 101.2 94.8 101.0 95.1 100.8 95.4 100.6 95.7 100.4 96.0 100.2 96.3 100.0 96.6 99.8 97.0 99.6 97.3 99.5 97.6 99.3 97.9 99.1 98.2 98.9 98.6 98.7 98.9 98.5 99.2 98.3 99.5 98.1 99.9 97.9 100.2 97.7 100.5 97.5 100.8 97.4 101.2 97.2 101.5 97.0 101.8 96.8 102.1 96.6 102.5 96.4 102.8 96.2 103.1 96.0 103.5 95.9 103.8 95.7 104.1 95.5 104.5 95.3 104.8 95.1 105.1 94.9 105.5 94.8 105.8 94.6 106.1 94.4 106.5 94.2 106.8 94.0 107.1 93.8 107.5 93.7 107.8 93.5 108.2 93.3 108.5 93.1 108.8 92.9 109.2 92.8 109.5 92.6 109.9 92.4 110.2 92.2 110.6 92.0 110.9 91.9 111.2 91.7 111.6 91.5 111.9 91.3 112.3 91.2 112.6 91.0 113.0 90.8 113.3 90.6 113.7 90.5 114.0 90.3 114.4 90.1 114.7 89.9 115.1 89.8 115.4 89.6 115.8 89.4 116.1 89.2 116.5 89.1 116.9 88.9 117.2 88.7 117.6 88.6 117.9 88.4 118.3 88.2 118.6 88.0 119.0 87.9 119.4 87.7 119.7 87.5 120.1 87.4 120.4 87.2 120.8 87.0 121.2 86.9 121.5 86.7 121.9 86.5 122.2 86.4 122.6 86.2 123.0 86.0 123.3 85.9 123.7 85.7 124.1 85.5 124.4 85.4 124.8 85.2 125.2 85.1 125.5 84.9 125.9 84.7 126.3 84.6 126.7 84.4 127.0 84.2 127.4 84.1 127.8 83.9 128.1 83.8 128.5 83.6 128.9 83.4 129.3 83.3 129.6 83.1 130.0 83.0 130.4 82.8 130.8 82.6 131.1 82.5 131.5 82.3 131.9 82.2 132.3 82.0 132.7 81.9 133.0 81.7 133.4 81.6 133.8 81.4 134.2 81.2 134.6 81.1 134.9 80.9 135.3 80.8 135.7 80.6 136.1 80.5 136.5 80.3 136.9 80.2 137.2 80.0 137.6 79.9 138.0 79.7 138.4 79.6 138.8 79.4 139.2 79.3 139.6 79.1 140.0 79.0 140.4 78.8 140.7 78.7 141.1 78.5 141.5 78.4 141.9 78.2 142.3 78.1 142.7 77.9 143.1 77.8 143.5 77.6 143.9 77.5 144.3 77.3 144.7 77.2 145.1 77.0 145.5 76.9 145.9 76.8 146.3 76.6 146.7 76.5 147.1 76.3 147.5 76.2 147.9 76.0 148.3 75.9 148.7 75.7 149.1 75.6 149.5 75.5 149.9 75.3 150.3 75.2 150.7 75.0 151.1 74.9 151.5 74.8 151.9 74.6 152.3 74.5 152.7 74.3 153.1 74.2 153.5 74.1 153.9 73.9 154.3 73.8 154.8 73.7 155.2 73.5 155.6 73.4 156.0 73.2 156.4 73.1 156.8 73.0 157.2 72.8 157.6 72.7 158.0 72.6 158.5 72.4 158.9 72.3 159.3 72.2 159.7 72.0 160.1 71.9 160.5 71.8 160.9 71.6 161.4 71.5 161.8 71.4 162.2 71.2 162.6 71.1 163.0 71.0 163.5 70.9 163.9 70.7 164.3 70.6 164.7 70.5 165.1 70.3 165.6 70.2 166.0 70.1 166.4 70.0 166.8 69.8 167.3 69.7 167.7 69.6 168.1 69.4 168.5 69.3 169.0 69.2 169.4 69.1 169.8 68.9 170.2 68.8 170.7 68.7 171.1 68.6 171.5 68.4 171.9 68.3 172.4 68.2 172.8 68.1 173.2 68.0 173.7 67.8 174.1 67.7 174.5 67.6 175.0 67.5 175.4 67.3 175.8 67.2 176.3 67.1 176.7 67.0 177.1 66.9 177.6 66.8 178.0 66.6 178.4 66.5 178.9 66.4 179.3 66.3 179.7 66.2 180.2 66.0 180.6 65.9 181.0 65.8 181.5 65.7 181.9 65.6 182.4 65.5 182.8 65.3 183.2 65.2 183.7 65.1 184.1 65.0 184.6 64.9 185.0 64.8 185.5 64.7 185.9 64.6 186.3 64.4 186.8 64.3 187.2 64.2 187.7 64.1 188.1 64.0 188.6 63.9 189.0 63.8 189.4 63.7 189.9 63.6 190.3 63.4 190.8 63.3 191.2 63.2 191.7 63.1 192.1 63.0 192.6 62.9 193.0 62.8 193.5 62.7 193.9 62.6 194.4 62.5 194.8 62.4 195.3 62.3 195.7 62.2 196.2 62.0 196.6 61.9 197.1 61.8 197.5 61.7 198.0 61.6 198.5 61.5 198.9 61.4 199.4 61.3 199.8 61.2 200.3 61.1 200.7 61.0 201.2 60.9 201.6 60.8 202.1 60.7 202.6 60.6 203.0 60.5 203.5 60.4 203.9 60.3 204.4 60.2 204.9 60.1 205.3 60.0 205.8 59.9 206.2 59.8 206.7 59.7 207.2 59.6 207.6 59.5 208.1 59.4 208.5 59.3 209.0 59.2 209.5 59.1 209.9 59.0 210.4 59.0 210.9 58.9 211.3 58.8 211.8 58.7 212.3 58.6 212.7 58.5 213.2 58.4 213.7 58.3 214.1 58.2 214.6 58.1 215.1 58.0 215.5 57.9 216.0 57.8 216.5 57.7 216.9 57.7 217.4 57.6 217.9 57.5 218.3 57.4 218.8 57.3 219.3 57.2 219.8 57.1 220.2 57.0 220.7 56.9 221.2 56.9 221.6 56.8 222.1 56.7 222.6 56.6 223.1 56.5 223.5 56.4 224.0 56.3 224.5 56.3 225.0 56.2 225.4 56.1 225.9 56.0 226.4 55.9 226.9 55.8 227.3 55.7 227.8 55.7 228.3 55.6 228.8 55.5 229.3 55.4 229.7 55.3 230.2 55.3 230.7 55.2 231.2 55.1 231.6 55.0 232.1 54.9 232.6 54.9 233.1 54.8 233.6 54.7 234.0 54.6 234.5 54.5 235.0 54.5 235.5 54.4 236.0 54.3 236.5 54.2 236.9 54.1 237.4 54.1 237.9 54.0 238.4 53.9 238.9 53.8 239.4 53.8 239.8 53.7 240.3 53.6 240.8 53.5 241.3 53.5 241.8 53.4 242.3 53.3 242.8 53.3 243.2 53.2 243.7 53.1 244.2 53.0 244.7 53.0 245.2 52.9 245.7 52.8 246.2 52.8 246.7 52.7 247.1 52.6 247.6 52.5 248.1 52.5 248.6 52.4 249.1 52.3 249.6 52.3 250.1 52.2 250.6 52.1 251.1 52.1 251.6 52.0 252.0 51.9 252.5 51.9 253.0 51.8 253.5 51.7 254.0 51.7 254.5 51.6 255.0 51.5 255.5 51.5 256.0 51.4 256.5 51.3 257.0 51.3 257.5 51.2 258.0 51.2 258.5 51.1 259.0 51.0 259.4 51.0 259.9 50.9 260.4 50.8 260.9 50.8 261.4 50.7 261.9 50.7 262.4 50.6 262.9 50.5 263.4 50.5 263.9 50.4 264.4 50.4 264.9 50.3 265.4 50.2 265.9 50.2 266.4 50.1 266.9 50.1 267.4 50.0 267.9 50.0 268.4 49.9 268.9 49.8 269.4 49.8 269.9 49.7 270.4 49.7 270.9 49.6 271.4 49.6 271.9 49.5 272.4 49.5 272.9 49.4 273.4 49.4 273.9 49.3 274.4 49.3 274.9 49.2 275.4 49.2 275.9 49.1 276.4 49.0 276.9 49.0 277.4 48.9 277.9 48.9 278.4 48.8 278.9 48.8 279.5 48.8 280.0 48.7 280.5 48.7 281.0 48.6 281.5 48.6 282.0 48.5 282.5 48.5 283.0 48.4 283.5 48.4 284.0 48.3 284.5 48.3 285.0 48.2 285.5 48.2 286.0 48.1 286.5 48.1 287.0 48.1 287.5 48.0 288.1 48.0 288.6 47.9 289.1 47.9 289.6 47.8 290.1 47.8 290.6 47.8 291.1 47.7 291.6 47.7 292.1 47.6 292.6 47.6 293.1 47.5 293.6 47.5 294.2 47.5 294.7 47.4 295.2 47.4 295.7 47.3 296.2 47.3 296.7 47.3 297.2 47.2 297.7 47.2 298.2 47.2 298.8 47.1 299.3 47.1 299.8 47.1 300.3 47.0 300.8 47.0 301.3 46.9 301.8 46.9 302.3 46.9 302.8 46.8 303.4 46.8 303.9 46.8 304.4 46.7 304.9 46.7 305.4 46.7 305.9 46.6 306.4 46.6 307.0 46.6 307.5 46.5 308.0 46.5 308.5 46.5 309.0 46.5 309.5 46.4 310.0 46.4 310.6 46.4 311.1 46.3 311.6 46.3 312.1 46.3 312.6 46.2 313.1 46.2 313.6 46.2 314.2 46.2 314.7 46.1 315.2 46.1 315.7 46.1 316.2 46.1 316.7 46.0 317.3 46.0 317.8 46.0 318.3 46.0 318.8 45.9 319.3 45.9 319.8 45.9 320.4 45.9 320.9 45.8 321.4 45.8 321.9 45.8 322.4 45.8 322.9 45.8 323.5 45.7 324.0 45.7 324.5 45.7 325.0 45.7 325.5 45.6 326.1 45.6 326.6 45.6 327.1 45.6 327.6 45.6 328.1 45.6 328.7 45.5 329.2 45.5 329.7 45.5 330.2 45.5 330.7 45.5 331.2 45.4 331.8 45.4 332.3 45.4 332.8 45.4 333.3 45.4 333.8 45.4 334.4 45.4 334.9 45.3 335.4 45.3 335.9 45.3 336.5 45.3 337.0 45.3 337.5 45.3 338.0 45.3 338.5 45.2 339.1 45.2 339.6 45.2 340.1 45.2 340.6 45.2 341.2 45.2 341.7 45.2 342.2 45.2 342.7 45.2 343.2 45.2 343.8 45.1 344.3 45.1 344.8 45.1 345.3 45.1 345.9 45.1 346.4 45.1 346.9 45.1 347.4 45.1 348.0 45.1 348.5 45.1 349.0 45.1 349.5 45.1 350.1 45.1 350.6 45.1 351.1 45.1 351.7 45.1 352.2 45.0 352.7 45.0 353.3 45.0 353.8 45.0 354.3 45.0 354.9 45.0 355.4 45.0 356.0 45.0 356.5 45.0 357.1 45.0 357.6 45.0 358.2 45.0Z M356.5 45.0 360.5 45.0 360.5 48.0 356.5 48.0Z M27.2 250.4 31.2 250.4 31.2 253.4 27.2 253.4Z M358.8 45.0 359.4 45.0 359.9 45.0 360.5 45.0 361.0 45.0 361.6 45.0 362.1 45.0 362.7 45.0 363.2 45.0 363.7 45.0 364.3 45.0 364.8 45.0 365.3 45.1 365.9 45.1 366.4 45.1 366.9 45.1 367.5 45.1 368.0 45.1 368.5 45.1 369.0 45.1 369.6 45.1 370.1 45.1 370.6 45.1 371.1 45.1 371.7 45.1 372.2 45.1 372.7 45.1 373.2 45.1 373.8 45.2 374.3 45.2 374.8 45.2 375.3 45.2 375.8 45.2 376.4 45.2 376.9 45.2 377.4 45.2 377.9 45.2 378.5 45.2 379.0 45.3 379.5 45.3 380.0 45.3 380.5 45.3 381.1 45.3 381.6 45.3 382.1 45.3 382.6 45.4 383.2 45.4 383.7 45.4 384.2 45.4 384.7 45.4 385.2 45.4 385.8 45.4 386.3 45.5 386.8 45.5 387.3 45.5 387.8 45.5 388.3 45.5 388.9 45.6 389.4 45.6 389.9 45.6 390.4 45.6 390.9 45.6 391.5 45.6 392.0 45.7 392.5 45.7 393.0 45.7 393.5 45.7 394.1 45.8 394.6 45.8 395.1 45.8 395.6 45.8 396.1 45.8 396.6 45.9 397.2 45.9 397.7 45.9 398.2 45.9 398.7 46.0 399.2 46.0 399.7 46.0 400.3 46.0 400.8 46.1 401.3 46.1 401.8 46.1 402.3 46.1 402.8 46.2 403.4 46.2 403.9 46.2 404.4 46.2 404.9 46.3 405.4 46.3 405.9 46.3 406.4 46.4 407.0 46.4 407.5 46.4 408.0 46.5 408.5 46.5 409.0 46.5 409.5 46.5 410.0 46.6 410.6 46.6 411.1 46.6 411.6 46.7 412.1 46.7 412.6 46.7 413.1 46.8 413.6 46.8 414.2 46.8 414.7 46.9 415.2 46.9 415.7 46.9 416.2 47.0 416.7 47.0 417.2 47.1 417.7 47.1 418.2 47.1 418.8 47.2 419.3 47.2 419.8 47.2 420.3 47.3 420.8 47.3 421.3 47.3 421.8 47.4 422.3 47.4 422.8 47.5 423.4 47.5 423.9 47.5 424.4 47.6 424.9 47.6 425.4 47.7 425.9 47.7 426.4 47.8 426.9 47.8 427.4 47.8 427.9 47.9 428.4 47.9 428.9 48.0 429.5 48.0 430.0 48.1 430.5 48.1 431.0 48.1 431.5 48.2 432.0 48.2 432.5 48.3 433.0 48.3 433.5 48.4 434.0 48.4 434.5 48.5 435.0 48.5 435.5 48.6 436.0 48.6 436.5 48.7 437.0 48.7 437.5 48.8 438.1 48.8 438.6 48.8 439.1 48.9 439.6 48.9 440.1 49.0 440.6 49.0 441.1 49.1 441.6 49.2 442.1 49.2 442.6 49.3 443.1 49.3 443.6 49.4 444.1 49.4 444.6 49.5 445.1 49.5 445.6 49.6 446.1 49.6 446.6 49.7 447.1 49.7 447.6 49.8 448.1 49.8 448.6 49.9 449.1 50.0 449.6 50.0 450.1 50.1 450.6 50.1 451.1 50.2 451.6 50.2 452.1 50.3 452.6 50.4 453.1 50.4 453.6 50.5 454.1 50.5 454.6 50.6 455.1 50.7 455.6 50.7 456.1 50.8 456.6 50.8 457.1 50.9 457.6 51.0 458.0 51.0 458.5 51.1 459.0 51.2 459.5 51.2 460.0 51.3 460.5 51.3 461.0 51.4 461.5 51.5 462.0 51.5 462.5 51.6 463.0 51.7 463.5 51.7 464.0 51.8 464.5 51.9 465.0 51.9 465.4 52.0 465.9 52.1 466.4 52.1 466.9 52.2 467.4 52.3 467.9 52.3 468.4 52.4 468.9 52.5 469.4 52.5 469.9 52.6 470.3 52.7 470.8 52.8 471.3 52.8 471.8 52.9 472.3 53.0 472.8 53.0 473.3 53.1 473.8 53.2 474.2 53.3 474.7 53.3 475.2 53.4 475.7 53.5 476.2 53.5 476.7 53.6 477.2 53.7 477.6 53.8 478.1 53.8 478.6 53.9 479.1 54.0 479.6 54.1 480.1 54.1 480.5 54.2 481.0 54.3 481.5 54.4 482.0 54.5 482.5 54.5 483.0 54.6 483.4 54.7 483.9 54.8 484.4 54.9 484.9 54.9 485.4 55.0 485.8 55.1 486.3 55.2 486.8 55.3 487.3 55.3 487.7 55.4 488.2 55.5 488.7 55.6 489.2 55.7 489.7 55.7 490.1 55.8 490.6 55.9 491.1 56.0 491.6 56.1 492.0 56.2 492.5 56.3 493.0 56.3 493.5 56.4 493.9 56.5 494.4 56.6 494.9 56.7 495.4 56.8 495.8 56.9 496.3 56.9 496.8 57.0 497.2 57.1 497.7 57.2 498.2 57.3 498.7 57.4 499.1 57.5 499.6 57.6 500.1 57.7 500.5 57.7 501.0 57.8 501.5 57.9 501.9 58.0 502.4 58.1 502.9 58.2 503.3 58.3 503.8 58.4 504.3 58.5 504.7 58.6 505.2 58.7 505.7 58.8 506.1 58.9 506.6 59.0 507.1 59.0 507.5 59.1 508.0 59.2 508.5 59.3 508.9 59.4 509.4 59.5 509.8 59.6 510.3 59.7 510.8 59.8 511.2 59.9 511.7 60.0 512.1 60.1 512.6 60.2 513.1 60.3 513.5 60.4 514.0 60.5 514.4 60.6 514.9 60.7 515.4 60.8 515.8 60.9 516.3 61.0 516.7 61.1 517.2 61.2 517.6 61.3 518.1 61.4 518.5 61.5 519.0 61.6 519.5 61.7 519.9 61.8 520.4 61.9 520.8 62.0 521.3 62.2 521.7 62.3 522.2 62.4 522.6 62.5 523.1 62.6 523.5 62.7 524.0 62.8 524.4 62.9 524.9 63.0 525.3 63.1 525.8 63.2 526.2 63.3 526.7 63.4 527.1 63.6 527.6 63.7 528.0 63.8 528.4 63.9 528.9 64.0 529.3 64.1 529.8 64.2 530.2 64.3 530.7 64.4 531.1 64.6 531.5 64.7 532.0 64.8 532.4 64.9 532.9 65.0 533.3 65.1 533.8 65.2 534.2 65.3 534.6 65.5 535.1 65.6 535.5 65.7 536.0 65.8 536.4 65.9 536.8 66.0 537.3 66.2 537.7 66.3 538.1 66.4 538.6 66.5 539.0 66.6 539.4 66.8 539.9 66.9 540.3 67.0 540.7 67.1 541.2 67.2 541.6 67.3 542.0 67.5 542.5 67.6 542.9 67.7 543.3 67.8 543.8 68.0 544.2 68.1 544.6 68.2 545.1 68.3 545.5 68.4 545.9 68.6 546.3 68.7 546.8 68.8 547.2 68.9 547.6 69.1 548.0 69.2 548.5 69.3 548.9 69.4 549.3 69.6 549.7 69.7 550.2 69.8 550.6 70.0 551.0 70.1 551.4 70.2 551.9 70.3 552.3 70.5 552.7 70.6 553.1 70.7 553.5 70.9 554.0 71.0 554.4 71.1 554.8 71.2 555.2 71.4 555.6 71.5 556.1 71.6 556.5 71.8 556.9 71.9 557.3 72.0 557.7 72.2 558.1 72.3 558.5 72.4 559.0 72.6 559.4 72.7 559.8 72.8 560.2 73.0 560.6 73.1 561.0 73.2 561.4 73.4 561.8 73.5 562.2 73.7 562.7 73.8 563.1 73.9 563.5 74.1 563.9 74.2 564.3 74.3 564.7 74.5 565.1 74.6 565.5 74.8 565.9 74.9 566.3 75.0 566.7 75.2 567.1 75.3 567.5 75.5 567.9 75.6 568.3 75.7 568.7 75.9 569.1 76.0 569.5 76.2 569.9 76.3 570.3 76.5 570.7 76.6 571.1 76.8 571.5 76.9 571.9 77.0 572.3 77.2 572.7 77.3 573.1 77.5 573.5 77.6 573.9 77.8 574.3 77.9 574.7 78.1 575.1 78.2 575.5 78.4 575.9 78.5 576.3 78.7 576.6 78.8 577.0 79.0 577.4 79.1 577.8 79.3 578.2 79.4 578.6 79.6 579.0 79.7 579.4 79.9 579.8 80.0 580.1 80.2 580.5 80.3 580.9 80.5 581.3 80.6 581.7 80.8 582.1 80.9 582.4 81.1 582.8 81.2 583.2 81.4 583.6 81.6 584.0 81.7 584.3 81.9 584.7 82.0 585.1 82.2 585.5 82.3 585.9 82.5 586.2 82.6 586.6 82.8 587.0 83.0 587.4 83.1 587.7 83.3 588.1 83.4 588.5 83.6 588.9 83.8 589.2 83.9 589.6 84.1 590.0 84.2 590.3 84.4 590.7 84.6 591.1 84.7 591.5 84.9 591.8 85.1 592.2 85.2 592.6 85.4 592.9 85.5 593.3 85.7 593.7 85.9 594.0 86.0 594.4 86.2 594.8 86.4 595.1 86.5 595.5 86.7 595.8 86.9 596.2 87.0 596.6 87.2 596.9 87.4 597.3 87.5 597.6 87.7 598.0 87.9 598.4 88.0 598.7 88.2 599.1 88.4 599.4 88.6 599.8 88.7 600.1 88.9 600.5 89.1 600.9 89.2 601.2 89.4 601.6 89.6 601.9 89.8 602.3 89.9 602.6 90.1 603.0 90.3 603.3 90.5 603.7 90.6 604.0 90.8 604.4 91.0 604.7 91.2 605.1 91.3 605.4 91.5 605.8 91.7 606.1 91.9 606.4 92.0 606.8 92.2 607.1 92.4 607.5 92.6 607.8 92.8 608.2 92.9 608.5 93.1 608.8 93.3 609.2 93.5 609.5 93.7 609.9 93.8 610.2 94.0 610.5 94.2 610.9 94.4 611.2 94.6 611.5 94.8 611.9 94.9 612.2 95.1 612.5 95.3 612.9 95.5 613.2 95.7 613.5 95.9 613.9 96.0 614.2 96.2 614.5 96.4 614.9 96.6 615.2 96.8 615.5 97.0 615.8 97.2 616.2 97.4 616.5 97.5 616.8 97.7 617.1 97.9 617.5 98.1 617.8 98.3 618.1 98.5 618.4 98.7 618.8 98.9 619.1 99.1 619.4 99.3 619.7 99.5 620.0 99.6 620.4 99.8 620.7 100.0 621.0 100.2 621.3 100.4 621.6 100.6 621.9 100.8 622.2 101.0 622.6 101.2 622.9 101.4 623.2 101.6 623.5 101.8 623.8 102.0 624.1 102.2 624.4 102.4 624.7 102.6 625.0 102.8 625.4 103.0 625.7 103.2 626.0 103.4 626.3 103.6 626.6 103.8 626.9 104.0 627.2 104.2 627.5 104.4 627.8 104.6 628.1 104.8 628.4 105.0 628.7 105.2 629.0 105.4 629.3 105.6 629.6 105.8 629.9 106.0 630.2 106.2 630.5 106.4 630.8 106.6 631.1 106.8 631.4 107.1 631.7 107.3 632.0 107.5 632.3 107.7 632.5 107.9 632.8 108.1 633.1 108.3 633.4 108.5 633.7 108.7 634.0 108.9 634.3 109.2 634.6 109.4 634.9 109.6 635.1 109.8 635.4 110.0 635.7 110.2 636.0 110.4 636.3 110.6 636.6 110.9 636.8 111.1 637.1 111.3 637.4 111.5 637.7 111.7 638.0 111.9 638.2 112.2 638.5 112.4 638.8 112.6 639.1 112.8 639.4 113.0 639.6 113.2 639.9 113.5 640.2 113.7 640.4 113.9 640.7 114.1 641.0 114.3 641.3 114.6 641.5 114.8 641.8 115.0 642.1 115.2 642.3 115.5 642.6 115.7 642.9 115.9 643.1 116.1 643.4 116.4 643.7 116.6 643.9 116.8 644.2 117.0 644.5 117.3 644.7 117.5 645.0 117.7 645.2 117.9 645.5 118.2 645.8 118.4 646.0 118.6 646.3 118.9 646.5 119.1 646.8 119.3 647.0 119.6 647.3 119.8 647.6 120.0 647.8 120.3 648.1 120.5 648.3 120.7 648.6 121.0 648.8 121.2 649.1 121.4 649.3 121.7 649.6 121.9 649.8 122.1 650.1 122.4 650.3 122.6 650.5 122.8 650.8 123.1 651.0 123.3 651.3 123.6 651.5 123.8 651.8 124.0 652.0 124.3 652.2 124.5 652.5 124.8 652.7 125.0 653.0 125.2 653.2 125.5 653.4 125.7 653.7 126.0 653.9 126.2 654.1 126.5 654.4 126.7 654.6 126.9 654.8 127.2 655.1 127.4 655.3 127.7 655.5 127.9 655.8 128.2 656.0 128.4 656.2 128.7 656.4 128.9 656.7 129.2 656.9 129.4 657.1 129.7 657.3 129.9 657.6 130.2 657.8 130.4 658.0 130.7 658.2 130.9 658.5 131.2 658.7 131.5 658.9 131.7 659.1 132.0 659.3 132.2 659.6 132.5 659.8 132.7 660.0 133.0 660.2 133.2 660.4 133.5 660.6 133.8 660.8 134.0 661.0 134.3 661.3 134.5 661.5 134.8 661.7 135.1 661.9 135.3 662.1 135.6 662.3 135.9 662.5 136.1 662.7 136.4 662.9 136.6 663.1 136.9 663.3 137.2 663.5 137.4 663.7 137.7 663.9 138.0 664.1 138.2 664.3 138.5 664.5 138.8 664.7 139.1 664.9 139.3 665.1 139.6 665.3 139.9 665.5 140.1 665.7 140.4 665.9 140.7 666.1 141.0 666.3 141.2 666.5 141.5 666.7 141.8 666.9 142.1 667.1 142.3 667.2 142.6 667.4 142.9 667.6 143.2 667.8 143.4 668.0 143.7 668.2 144.0 668.4 144.3 668.5 144.6 668.7 144.9 668.9 145.1 669.1 145.4 669.3 145.7 669.5 146.0 669.6 146.3 669.8 146.6 670.0 146.8 670.2 147.1 670.3 147.4 670.5 147.7 670.7 148.0 670.9 148.3 671.0 148.6 671.2 148.9 671.4 149.2 671.5 149.4 671.7 149.7 671.9 150.0 672.1 150.3 672.2 150.6 672.4 150.9 672.5 151.2 672.7 151.5 672.9 151.8 673.0 152.1 673.2 152.4 673.4 152.7 673.5 153.0 673.7 153.3 673.8 153.6 674.0 153.9 674.2 154.2 674.3 154.5 674.5 154.8 674.6 155.1 674.8 155.4 674.9 155.7 675.1 156.0 675.2 156.3 675.4 156.7 675.6 157.0 675.7 157.3 675.8 157.6 676.0 157.9 676.1 158.2 676.3 158.5 676.4 158.8 676.6 159.1 676.7 159.5 676.9 159.8 677.0 160.1 677.2 160.4 677.3 160.7 677.4 161.1 677.6 161.4 677.7 161.7 677.9 162.0 678.0 162.3 678.1 162.7 678.3 163.0 678.4 163.3 678.5 163.6 678.7 164.0 678.8 164.3 678.9 164.6 679.1 164.9 679.2 165.3 679.3 165.6 679.5 165.9 679.6 166.3 679.7 166.6 679.8 166.9 680.0 167.3 680.1 167.6 680.2 167.9 680.3 168.3 680.5 168.6 680.6 169.0 680.7 169.3 680.8 169.7 680.9 170.0 681.1 170.3 681.2 170.7 681.3 171.0 681.4 171.4 681.5 171.7 681.6 172.1 681.8 172.4 681.9 172.8 682.0 173.1 682.1 173.5 682.2 173.8 682.3 174.2 682.4 174.5 682.5 174.9 682.6 175.3 682.7 175.6 682.9 176.0 683.0 176.3 683.1 176.7 683.2 177.1 683.3 177.4 683.4 177.8 683.5 178.2 683.6 178.5 683.7 178.9 683.8 179.3 683.9 179.7 684.0 180.0 684.1 180.4 684.2 180.8 684.3 181.2 684.3 181.5 684.4 181.9 684.5 182.3 684.6 182.7 684.7 183.1 684.8 183.5 684.9 183.8 685.0 184.2 685.1 184.6 685.2 185.0 685.2 185.4 685.3 185.8 685.4 186.2 685.5 186.6 685.6 187.0 685.7 187.4 685.7 187.8 685.8 188.2 685.9 188.6 686.0 189.0 686.1 189.4 686.1 189.8 686.2 190.2 686.3 190.7 686.4 191.1 686.4 191.5 686.5 191.9 686.6 192.3 686.7 192.8 686.7 193.2 686.8 193.6 686.9 194.0 686.9 194.5 687.0 194.9 687.1 195.3 687.1 195.8 687.2 196.2 687.3 196.6 687.3 197.1 687.4 197.5 687.4 198.0 687.5 198.4 687.6 198.9 687.6 199.3 687.7 199.8 687.7 200.3 687.8 200.7 687.9 201.2 687.9 201.7 688.0 202.1 688.0 202.6 688.1 203.1 688.1 203.5 688.2 204.0 688.2 204.5 688.3 205.0 688.3 205.5 688.4 206.0 688.4 206.5 688.5 207.0 688.5 207.5 688.6 208.0 688.6 208.5 688.6 209.0 688.7 209.5 688.7 210.1 688.8 210.6 688.8 211.1 688.8 211.6 688.9 212.2 688.9 212.7 689.0 213.3 689.0 213.8 689.0 214.4 689.1 214.9 689.1 215.5 689.1 216.1 689.1 216.5 689.2 216.8 689.2 217.2 689.2 217.6 689.2 218.0 689.2 218.4 689.3 218.8 689.3 219.2 689.3 219.6 689.3 220.0 689.3 220.5 689.4 220.9 689.4 221.3 689.4 221.7 689.4 222.1 689.4 222.6 689.4 223.0 689.4 223.4 689.5 223.9 689.5 224.3 689.5 224.8 689.5 225.2 689.5 225.7 689.5 226.2 689.5 226.6 689.6 227.1 689.6 227.6 689.6 228.1 689.6 228.6 689.6 229.1 689.6 229.6 689.6 230.1 689.6 230.6 689.6 231.1 689.6 231.6 689.7 232.2 689.7 232.7 689.7 233.3 689.7 233.9 689.7 234.5 689.7 235.1 689.7 235.7 689.7 236.3 689.7 236.9 689.7 237.6 689.7 238.2 689.7 238.9 689.7 239.6 689.7 240.4 689.7 241.2 689.7 242.0 689.7 242.4 689.7 242.8 689.7 243.3 689.7 243.7 689.7 244.2 689.7 244.7 689.7 245.2 689.7 245.7 689.7 246.3 689.7 246.9 689.7 247.5 689.7 248.2 689.7 249.0 689.7 250.0 689.7 251.8 685.8 252.0 685.7 250.3 685.7 249.4 685.7 248.6 685.7 247.9 685.7 247.3 685.7 246.8 685.7 246.2 685.7 245.7 685.7 245.2 685.7 244.8 685.7 244.3 685.7 243.9 685.7 243.5 685.7 243.0 685.7 242.6 685.7 241.9 685.7 241.1 685.7 240.4 685.7 239.7 685.7 239.0 685.7 238.4 685.7 237.8 685.7 237.1 685.7 236.5 685.7 236.0 685.7 235.4 685.7 234.8 685.7 234.3 685.7 233.7 685.7 233.2 685.7 232.6 685.6 232.1 685.6 231.6 685.6 231.1 685.6 230.6 685.6 230.1 685.6 229.6 685.6 229.1 685.6 228.7 685.6 228.2 685.6 227.7 685.5 227.3 685.5 226.8 685.5 226.4 685.5 225.9 685.5 225.5 685.5 225.1 685.5 224.6 685.4 224.2 685.4 223.8 685.4 223.4 685.4 222.9 685.4 222.5 685.4 222.1 685.3 221.7 685.3 221.3 685.3 220.9 685.3 220.5 685.3 220.1 685.3 219.7 685.2 219.3 685.2 219.0 685.2 218.6 685.2 218.2 685.2 217.8 685.1 217.4 685.1 216.9 685.1 216.3 685.0 215.8 685.0 215.2 685.0 214.7 684.9 214.1 684.9 213.6 684.9 213.1 684.8 212.6 684.8 212.0 684.7 211.5 684.7 211.0 684.7 210.5 684.6 210.0 684.6 209.5 684.5 209.0 684.5 208.5 684.4 208.0 684.4 207.5 684.4 207.0 684.3 206.6 684.3 206.1 684.2 205.6 684.2 205.1 684.1 204.7 684.1 204.2 684.0 203.7 683.9 203.3 683.9 202.8 683.8 202.4 683.8 201.9 683.7 201.4 683.7 201.0 683.6 200.6 683.6 200.1 683.5 199.7 683.4 199.2 683.4 198.8 683.3 198.3 683.2 197.9 683.2 197.5 683.1 197.1 683.0 196.6 683.0 196.2 682.9 195.8 682.8 195.4 682.8 194.9 682.7 194.5 682.6 194.1 682.6 193.7 682.5 193.3 682.4 192.9 682.3 192.4 682.3 192.0 682.2 191.6 682.1 191.2 682.0 190.8 682.0 190.4 681.9 190.0 681.8 189.6 681.7 189.2 681.7 188.8 681.6 188.4 681.5 188.1 681.4 187.7 681.3 187.3 681.2 186.9 681.2 186.5 681.1 186.1 681.0 185.7 680.9 185.4 680.8 185.0 680.7 184.6 680.6 184.2 680.5 183.8 680.4 183.5 680.3 183.1 680.3 182.7 680.2 182.3 680.1 182.0 680.0 181.6 679.9 181.2 679.8 180.9 679.7 180.5 679.6 180.1 679.5 179.8 679.4 179.4 679.3 179.1 679.2 178.7 679.1 178.3 679.0 178.0 678.9 177.6 678.8 177.3 678.6 176.9 678.5 176.6 678.4 176.2 678.3 175.9 678.2 175.5 678.1 175.2 678.0 174.8 677.9 174.5 677.8 174.1 677.7 173.8 677.5 173.4 677.4 173.1 677.3 172.7 677.2 172.4 677.1 172.1 677.0 171.7 676.8 171.4 676.7 171.1 676.6 170.7 676.5 170.4 676.4 170.0 676.2 169.7 676.1 169.4 676.0 169.0 675.9 168.7 675.7 168.4 675.6 168.1 675.5 167.7 675.4 167.4 675.2 167.1 675.1 166.8 675.0 166.4 674.8 166.1 674.7 165.8 674.6 165.5 674.4 165.1 674.3 164.8 674.2 164.5 674.0 164.2 673.9 163.9 673.8 163.5 673.6 163.2 673.5 162.9 673.3 162.6 673.2 162.3 673.1 162.0 672.9 161.7 672.8 161.3 672.6 161.0 672.5 160.7 672.3 160.4 672.2 160.1 672.0 159.8 671.9 159.5 671.7 159.2 671.6 158.9 671.4 158.6 671.3 158.3 671.1 158.0 671.0 157.7 670.8 157.4 670.7 157.1 670.5 156.8 670.4 156.5 670.2 156.2 670.1 155.9 669.9 155.6 669.7 155.3 669.6 155.0 669.4 154.7 669.3 154.4 669.1 154.1 668.9 153.8 668.8 153.5 668.6 153.2 668.4 152.9 668.3 152.6 668.1 152.3 667.9 152.0 667.8 151.7 667.6 151.4 667.4 151.2 667.3 150.9 667.1 150.6 666.9 150.3 666.8 150.0 666.6 149.7 666.4 149.4 666.2 149.2 666.1 148.9 665.9 148.6 665.7 148.3 665.5 148.0 665.3 147.7 665.2 147.5 665.0 147.2 664.8 146.9 664.6 146.6 664.4 146.4 664.3 146.1 664.1 145.8 663.9 145.5 663.7 145.2 663.5 145.0 663.3 144.7 663.1 144.4 663.0 144.1 662.8 143.9 662.6 143.6 662.4 143.3 662.2 143.1 662.0 142.8 661.8 142.5 661.6 142.3 661.4 142.0 661.2 141.7 661.0 141.4 660.8 141.2 660.6 140.9 660.4 140.6 660.2 140.4 660.0 140.1 659.8 139.9 659.6 139.6 659.4 139.3 659.2 139.1 659.0 138.8 658.8 138.5 658.6 138.3 658.4 138.0 658.2 137.8 658.0 137.5 657.8 137.2 657.6 137.0 657.4 136.7 657.2 136.5 657.0 136.2 656.7 135.9 656.5 135.7 656.3 135.4 656.1 135.2 655.9 134.9 655.7 134.7 655.5 134.4 655.2 134.2 655.0 133.9 654.8 133.7 654.6 133.4 654.4 133.2 654.2 132.9 653.9 132.7 653.7 132.4 653.5 132.2 653.3 131.9 653.0 131.7 652.8 131.4 652.6 131.2 652.4 130.9 652.1 130.7 651.9 130.4 651.7 130.2 651.4 129.9 651.2 129.7 651.0 129.4 650.8 129.2 650.5 129.0 650.3 128.7 650.1 128.5 649.8 128.2 649.6 128.0 649.4 127.7 649.1 127.5 648.9 127.3 648.6 127.0 648.4 126.8 648.2 126.5 647.9 126.3 647.7 126.1 647.4 125.8 647.2 125.6 647.0 125.4 646.7 125.1 646.5 124.9 646.2 124.7 646.0 124.4 645.7 124.2 645.5 124.0 645.2 123.7 645.0 123.5 644.7 123.3 644.5 123.0 644.2 122.8 644.0 122.6 643.7 122.3 643.5 122.1 643.2 121.9 643.0 121.6 642.7 121.4 642.5 121.2 642.2 121.0 641.9 120.7 641.7 120.5 641.4 120.3 641.2 120.1 640.9 119.8 640.7 119.6 640.4 119.4 640.1 119.2 639.9 118.9 639.6 118.7 639.3 118.5 639.1 118.3 638.8 118.0 638.5 117.8 638.3 117.6 638.0 117.4 637.7 117.1 637.5 116.9 637.2 116.7 636.9 116.5 636.7 116.3 636.4 116.1 636.1 115.8 635.8 115.6 635.6 115.4 635.3 115.2 635.0 115.0 634.7 114.8 634.5 114.5 634.2 114.3 633.9 114.1 633.6 113.9 633.4 113.7 633.1 113.5 632.8 113.2 632.5 113.0 632.2 112.8 631.9 112.6 631.7 112.4 631.4 112.2 631.1 112.0 630.8 111.8 630.5 111.6 630.2 111.3 630.0 111.1 629.7 110.9 629.4 110.7 629.1 110.5 628.8 110.3 628.5 110.1 628.2 109.9 627.9 109.7 627.6 109.5 627.3 109.3 627.0 109.1 626.7 108.9 626.5 108.7 626.2 108.5 625.9 108.3 625.6 108.0 625.3 107.8 625.0 107.6 624.7 107.4 624.4 107.2 624.1 107.0 623.8 106.8 623.5 106.6 623.2 106.4 622.9 106.2 622.5 106.0 622.2 105.8 621.9 105.6 621.6 105.4 621.3 105.2 621.0 105.0 620.7 104.9 620.4 104.7 620.1 104.5 619.8 104.3 619.5 104.1 619.2 103.9 618.8 103.7 618.5 103.5 618.2 103.3 617.9 103.1 617.6 102.9 617.3 102.7 617.0 102.5 616.6 102.3 616.3 102.1 616.0 101.9 615.7 101.7 615.4 101.6 615.1 101.4 614.7 101.2 614.4 101.0 614.1 100.8 613.8 100.6 613.5 100.4 613.1 100.2 612.8 100.0 612.5 99.9 612.2 99.7 611.8 99.5 611.5 99.3 611.2 99.1 610.8 98.9 610.5 98.7 610.2 98.6 609.9 98.4 609.5 98.2 609.2 98.0 608.9 97.8 608.5 97.6 608.2 97.5 607.9 97.3 607.5 97.1 607.2 96.9 606.9 96.7 606.5 96.6 606.2 96.4 605.9 96.2 605.5 96.0 605.2 95.8 604.8 95.7 604.5 95.5 604.2 95.3 603.8 95.1 603.5 94.9 603.1 94.8 602.8 94.6 602.5 94.4 602.1 94.2 601.8 94.1 601.4 93.9 601.1 93.7 600.7 93.5 600.4 93.4 600.0 93.2 599.7 93.0 599.3 92.8 599.0 92.7 598.6 92.5 598.3 92.3 597.9 92.2 597.6 92.0 597.2 91.8 596.9 91.6 596.5 91.5 596.2 91.3 595.8 91.1 595.5 91.0 595.1 90.8 594.7 90.6 594.4 90.5 594.0 90.3 593.7 90.1 593.3 90.0 593.0 89.8 592.6 89.6 592.2 89.5 591.9 89.3 591.5 89.1 591.2 89.0 590.8 88.8 590.4 88.6 590.1 88.5 589.7 88.3 589.3 88.1 589.0 88.0 588.6 87.8 588.2 87.7 587.9 87.5 587.5 87.3 587.1 87.2 586.8 87.0 586.4 86.8 586.0 86.7 585.7 86.5 585.3 86.4 584.9 86.2 584.5 86.1 584.2 85.9 583.8 85.7 583.4 85.6 583.0 85.4 582.7 85.3 582.3 85.1 581.9 84.9 581.5 84.8 581.2 84.6 580.8 84.5 580.4 84.3 580.0 84.2 579.6 84.0 579.3 83.9 578.9 83.7 578.5 83.6 578.1 83.4 577.7 83.3 577.4 83.1 577.0 83.0 576.6 82.8 576.2 82.6 575.8 82.5 575.4 82.3 575.0 82.2 574.7 82.0 574.3 81.9 573.9 81.7 573.5 81.6 573.1 81.5 572.7 81.3 572.3 81.2 571.9 81.0 571.5 80.9 571.2 80.7 570.8 80.6 570.4 80.4 570.0 80.3 569.6 80.1 569.2 80.0 568.8 79.8 568.4 79.7 568.0 79.6 567.6 79.4 567.2 79.3 566.8 79.1 566.4 79.0 566.0 78.8 565.6 78.7 565.2 78.6 564.8 78.4 564.4 78.3 564.0 78.1 563.6 78.0 563.2 77.9 562.8 77.7 562.4 77.6 562.0 77.4 561.6 77.3 561.2 77.2 560.8 77.0 560.4 76.9 560.0 76.7 559.6 76.6 559.2 76.5 558.8 76.3 558.4 76.2 557.9 76.1 557.5 75.9 557.1 75.8 556.7 75.7 556.3 75.5 555.9 75.4 555.5 75.3 555.1 75.1 554.7 75.0 554.3 74.9 553.8 74.7 553.4 74.6 553.0 74.5 552.6 74.3 552.2 74.2 551.8 74.1 551.3 73.9 550.9 73.8 550.5 73.7 550.1 73.6 549.7 73.4 549.3 73.3 548.8 73.2 548.4 73.0 548.0 72.9 547.6 72.8 547.2 72.7 546.7 72.5 546.3 72.4 545.9 72.3 545.5 72.2 545.0 72.0 544.6 71.9 544.2 71.8 543.8 71.7 543.4 71.5 542.9 71.4 542.5 71.3 542.1 71.2 541.6 71.0 541.2 70.9 540.8 70.8 540.4 70.7 539.9 70.6 539.5 70.4 539.1 70.3 538.6 70.2 538.2 70.1 537.8 70.0 537.4 69.8 536.9 69.7 536.5 69.6 536.1 69.5 535.6 69.4 535.2 69.3 534.8 69.1 534.3 69.0 533.9 68.9 533.5 68.8 533.0 68.7 532.6 68.6 532.1 68.4 531.7 68.3 531.3 68.2 530.8 68.1 530.4 68.0 530.0 67.9 529.5 67.8 529.1 67.6 528.6 67.5 528.2 67.4 527.8 67.3 527.3 67.2 526.9 67.1 526.4 67.0 526.0 66.9 525.5 66.8 525.1 66.6 524.7 66.5 524.2 66.4 523.8 66.3 523.3 66.2 522.9 66.1 522.4 66.0 522.0 65.9 521.5 65.8 521.1 65.7 520.6 65.6 520.2 65.5 519.7 65.3 519.3 65.2 518.8 65.1 518.4 65.0 517.9 64.9 517.5 64.8 517.0 64.7 516.6 64.6 516.1 64.5 515.7 64.4 515.2 64.3 514.8 64.2 514.3 64.1 513.9 64.0 513.4 63.9 513.0 63.8 512.5 63.7 512.1 63.6 511.6 63.5 511.2 63.4 510.7 63.3 510.2 63.2 509.8 63.1 509.3 63.0 508.9 62.9 508.4 62.8 508.0 62.7 507.5 62.6 507.0 62.5 506.6 62.4 506.1 62.3 505.7 62.2 505.2 62.1 504.7 62.0 504.3 61.9 503.8 61.8 503.3 61.8 502.9 61.7 502.4 61.6 502.0 61.5 501.5 61.4 501.0 61.3 500.6 61.2 500.1 61.1 499.6 61.0 499.2 60.9 498.7 60.8 498.2 60.7 497.8 60.6 497.3 60.6 496.8 60.5 496.4 60.4 495.9 60.3 495.4 60.2 495.0 60.1 494.5 60.0 494.0 59.9 493.6 59.8 493.1 59.8 492.6 59.7 492.2 59.6 491.7 59.5 491.2 59.4 490.7 59.3 490.3 59.2 489.8 59.2 489.3 59.1 488.9 59.0 488.4 58.9 487.9 58.8 487.4 58.7 487.0 58.7 486.5 58.6 486.0 58.5 485.5 58.4 485.1 58.3 484.6 58.2 484.1 58.2 483.6 58.1 483.2 58.0 482.7 57.9 482.2 57.8 481.7 57.8 481.3 57.7 480.8 57.6 480.3 57.5 479.8 57.5 479.3 57.4 478.9 57.3 478.4 57.2 477.9 57.1 477.4 57.1 476.9 57.0 476.5 56.9 476.0 56.8 475.5 56.8 475.0 56.7 474.5 56.6 474.1 56.5 473.6 56.5 473.1 56.4 472.6 56.3 472.1 56.3 471.6 56.2 471.2 56.1 470.7 56.0 470.2 56.0 469.7 55.9 469.2 55.8 468.7 55.7 468.2 55.7 467.8 55.6 467.3 55.5 466.8 55.5 466.3 55.4 465.8 55.3 465.3 55.3 464.8 55.2 464.4 55.1 463.9 55.1 463.4 55.0 462.9 54.9 462.4 54.9 461.9 54.8 461.4 54.7 460.9 54.7 460.4 54.6 460.0 54.5 459.5 54.5 459.0 54.4 458.5 54.3 458.0 54.3 457.5 54.2 457.0 54.2 456.5 54.1 456.0 54.0 455.5 54.0 455.0 53.9 454.6 53.8 454.1 53.8 453.6 53.7 453.1 53.7 452.6 53.6 452.1 53.5 451.6 53.5 451.1 53.4 450.6 53.4 450.1 53.3 449.6 53.2 449.1 53.2 448.6 53.1 448.1 53.1 447.6 53.0 447.1 53.0 446.6 52.9 446.2 52.9 445.7 52.8 445.2 52.7 444.7 52.7 444.2 52.6 443.7 52.6 443.2 52.5 442.7 52.5 442.2 52.4 441.7 52.4 441.2 52.3 440.7 52.3 440.2 52.2 439.7 52.2 439.2 52.1 438.7 52.1 438.2 52.0 437.7 52.0 437.2 51.9 436.7 51.9 436.2 51.8 435.7 51.8 435.2 51.7 434.7 51.7 434.2 51.6 433.7 51.6 433.2 51.5 432.7 51.5 432.2 51.4 431.7 51.4 431.2 51.3 430.7 51.3 430.2 51.2 429.7 51.2 429.2 51.1 428.7 51.1 428.2 51.1 427.7 51.0 427.2 51.0 426.7 50.9 426.1 50.9 425.6 50.8 425.1 50.8 424.6 50.8 424.1 50.7 423.6 50.7 423.1 50.6 422.6 50.6 422.1 50.6 421.6 50.5 421.1 50.5 420.6 50.4 420.1 50.4 419.6 50.4 419.1 50.3 418.6 50.3 418.1 50.2 417.6 50.2 417.1 50.2 416.6 50.1 416.0 50.1 415.5 50.1 415.0 50.0 414.5 50.0 414.0 49.9 413.5 49.9 413.0 49.9 412.5 49.8 412.0 49.8 411.5 49.8 411.0 49.7 410.5 49.7 410.0 49.7 409.4 49.6 408.9 49.6 408.4 49.6 407.9 49.6 407.4 49.5 406.9 49.5 406.4 49.5 405.9 49.4 405.4 49.4 404.9 49.4 404.4 49.3 403.9 49.3 403.3 49.3 402.8 49.3 402.3 49.2 401.8 49.2 401.3 49.2 400.8 49.1 400.3 49.1 399.8 49.1 399.3 49.1 398.8 49.0 398.2 49.0 397.7 49.0 397.2 49.0 396.7 48.9 396.2 48.9 395.7 48.9 395.2 48.9 394.7 48.8 394.2 48.8 393.7 48.8 393.1 48.8 392.6 48.8 392.1 48.7 391.6 48.7 391.1 48.7 390.6 48.7 390.1 48.7 389.6 48.6 389.1 48.6 388.5 48.6 388.0 48.6 387.5 48.6 387.0 48.5 386.5 48.5 386.0 48.5 385.5 48.5 385.0 48.5 384.5 48.5 383.9 48.4 383.4 48.4 382.9 48.4 382.4 48.4 381.9 48.4 381.4 48.4 380.9 48.3 380.4 48.3 379.9 48.3 379.3 48.3 378.8 48.3 378.3 48.3 377.8 48.3 377.3 48.3 376.8 48.2 376.3 48.2 375.8 48.2 375.3 48.2 374.7 48.2 374.2 48.2 373.7 48.2 373.2 48.2 372.7 48.2 372.2 48.1 371.7 48.1 371.2 48.1 370.7 48.1 370.2 48.1 369.7 48.1 369.1 48.1 368.6 48.1 368.1 48.1 367.6 48.1 367.1 48.1 366.6 48.1 366.1 48.1 365.6 48.1 365.1 48.1 364.6 48.1 364.1 48.0 363.6 48.0 363.1 48.0 362.6 48.0 362.1 48.0 361.6 48.0 361.1 48.0 360.6 48.0 360.1 48.0 359.6 48.0 359.1 48.0 358.7 48.0 358.2 48.0Z M356.5 45.0 360.5 45.0 360.5 48.0 356.5 48.0Z M685.8 250.4 689.8 250.4 689.8 253.4 685.8 253.4Z" fill="#ff0000"/>
<path d="M358.8 141.5 358.3 141.5 357.9 141.5 357.4 141.5 356.9 141.5 356.4 141.5 355.9 141.5 355.4 141.5 354.9 141.5 354.4 141.5 353.9 141.5 353.4 141.5 352.9 141.5 352.7 141.5 351.5 138.5 351.7 138.5 352.2 138.5 352.7 138.5 353.3 138.5 353.8 138.5 354.3 138.5 354.9 138.5 355.4 138.5 356.0 138.5 356.5 138.5 357.1 138.5 357.7 138.5 358.2 138.5Z M356.5 138.5 360.5 138.5 360.5 141.5 356.5 141.5Z M350.1 138.5 354.1 138.5 354.1 141.5 350.1 141.5Z M342.2 141.7 341.7 141.7 341.2 141.7 340.7 141.7 340.2 141.7 339.7 141.7 339.2 141.7 338.7 141.7 338.1 141.7 337.6 141.7 337.1 141.8 336.6 141.8 336.1 141.8 335.6 141.8 335.1 141.8 334.6 141.8 334.0 141.8 332.3 138.8 332.8 138.8 333.4 138.8 333.9 138.8 334.4 138.8 334.9 138.8 335.4 138.8 336.0 138.8 336.5 138.7 337.0 138.7 337.5 138.7 338.0 138.7 338.6 138.7 339.1 138.7 339.6 138.7 340.1 138.7 340.7 138.7Z M339.4 138.7 343.4 138.7 343.4 141.7 339.4 141.7Z M331.2 138.8 335.2 138.8 335.2 141.8 331.2 141.8Z M326.0 142.1 325.5 142.1 325.0 142.1 324.5 142.1 324.0 142.2 323.5 142.2 323.0 142.2 322.5 142.2 322.0 142.2 321.4 142.3 320.9 142.3 320.4 142.3 319.9 142.3 319.4 142.3 318.9 142.4 318.4 142.4 317.9 142.4 317.7 142.4 315.7 139.4 315.9 139.4 316.4 139.4 316.9 139.4 317.5 139.4 318.0 139.3 318.5 139.3 319.0 139.3 319.5 139.3 320.0 139.3 320.6 139.2 321.1 139.2 321.6 139.2 322.1 139.2 322.6 139.2 323.1 139.1 323.7 139.1 324.2 139.1Z M323.1 139.1 327.1 139.1 327.1 142.1 323.1 142.1Z M314.7 139.4 318.7 139.4 318.7 142.4 314.7 142.4Z M309.7 142.8 309.2 142.8 308.7 142.9 308.2 142.9 307.7 142.9 307.2 142.9 306.7 143.0 306.2 143.0 305.7 143.0 305.1 143.1 304.6 143.1 304.1 143.1 303.6 143.1 303.1 143.2 302.6 143.2 302.1 143.2 301.6 143.3 301.4 143.3 299.3 140.3 299.5 140.3 300.0 140.3 300.5 140.2 301.0 140.2 301.5 140.2 302.0 140.1 302.5 140.1 303.1 140.1 303.6 140.1 304.1 140.0 304.6 140.0 305.1 140.0 305.6 139.9 306.1 139.9 306.6 139.9 307.2 139.9 307.7 139.8Z M306.7 139.8 310.7 139.8 310.7 142.8 306.7 142.8Z M298.4 140.3 302.4 140.3 302.4 143.3 298.4 143.3Z M293.5 143.8 293.0 143.8 292.5 143.9 292.0 143.9 291.5 144.0 291.0 144.0 290.5 144.0 290.0 144.1 289.5 144.1 289.0 144.1 288.5 144.2 288.0 144.2 287.5 144.3 287.0 144.3 286.5 144.3 286.0 144.4 285.5 144.4 285.3 144.4 283.0 141.5 283.2 141.5 283.7 141.4 284.2 141.4 284.7 141.3 285.2 141.3 285.7 141.3 286.2 141.2 286.7 141.2 287.2 141.1 287.8 141.1 288.3 141.1 288.8 141.0 289.3 141.0 289.8 140.9 290.3 140.9 290.8 140.9 291.3 140.8Z M290.4 140.8 294.4 140.8 294.4 143.8 290.4 143.8Z M282.2 141.4 286.2 141.4 286.2 144.4 282.2 144.4Z M277.4 145.1 276.9 145.1 276.4 145.2 275.9 145.2 275.4 145.3 275.0 145.3 274.5 145.4 274.0 145.4 273.5 145.5 273.0 145.5 272.5 145.6 272.0 145.6 271.5 145.6 271.0 145.7 270.5 145.7 270.0 145.8 269.5 145.8 269.0 145.9 266.6 142.9 267.1 142.9 267.6 142.8 268.1 142.8 268.6 142.7 269.1 142.7 269.6 142.6 270.1 142.6 270.6 142.5 271.1 142.5 271.6 142.5 272.1 142.4 272.6 142.4 273.1 142.3 273.6 142.3 274.1 142.2 274.6 142.2 275.1 142.1Z M274.3 142.1 278.3 142.1 278.3 145.1 274.3 145.1Z M265.8 142.9 269.8 142.9 269.8 145.9 265.8 145.9Z M261.4 146.7 260.9 146.7 260.4 146.8 259.9 146.8 259.5 146.9 259.0 146.9 258.5 147.0 258.0 147.1 257.5 147.1 257.0 147.2 256.5 147.2 256.0 147.3 255.5 147.3 255.0 147.4 254.6 147.4 254.1 147.5 253.6 147.6 253.1 147.6 252.9 147.6 250.4 144.7 250.6 144.7 251.1 144.6 251.6 144.6 252.1 144.5 252.6 144.4 253.1 144.4 253.6 144.3 254.1 144.3 254.5 144.2 255.0 144.2 255.5 144.1 256.0 144.1 256.5 144.0 257.0 143.9 257.5 143.9 258.0 143.8 258.5 143.8 259.0 143.7Z M258.2 143.7 262.2 143.7 262.2 146.7 258.2 146.7Z M249.7 144.7 253.7 144.7 253.7 147.7 249.7 147.7Z M245.3 148.6 244.8 148.6 244.3 148.7 243.9 148.8 243.4 148.8 242.9 148.9 242.4 149.0 241.9 149.0 241.5 149.1 241.0 149.2 240.5 149.2 240.0 149.3 239.5 149.3 239.1 149.4 238.6 149.5 238.1 149.5 237.6 149.6 237.1 149.7 237.0 149.7 234.4 146.8 234.6 146.7 235.1 146.7 235.5 146.6 236.0 146.5 236.5 146.5 237.0 146.4 237.5 146.3 237.9 146.3 238.4 146.2 238.9 146.2 239.4 146.1 239.9 146.0 240.4 146.0 240.9 145.9 241.3 145.8 241.8 145.8 242.3 145.7 242.8 145.6Z M242.1 145.6 246.1 145.6 246.1 148.6 242.1 148.6Z M233.7 146.7 237.7 146.7 237.7 149.7 233.7 149.7Z M229.5 150.8 229.0 150.8 228.6 150.9 228.1 151.0 227.6 151.1 227.2 151.1 226.7 151.2 226.2 151.3 225.7 151.3 225.3 151.4 224.8 151.5 224.3 151.6 223.9 151.6 223.4 151.7 222.9 151.8 222.4 151.9 222.0 151.9 221.5 152.0 221.2 152.1 218.6 149.1 218.9 149.1 219.3 149.0 219.8 148.9 220.3 148.9 220.7 148.8 221.2 148.7 221.7 148.6 222.2 148.6 222.6 148.5 223.1 148.4 223.6 148.3 224.1 148.3 224.5 148.2 225.0 148.1 225.5 148.1 226.0 148.0 226.4 147.9 226.9 147.8Z M226.2 147.8 230.2 147.8 230.2 150.8 226.2 150.8Z M217.9 149.1 221.9 149.1 221.9 152.1 217.9 152.1Z M213.9 153.3 213.4 153.3 213.0 153.4 212.5 153.5 212.1 153.6 211.6 153.7 211.1 153.7 210.7 153.8 210.2 153.9 209.8 154.0 209.3 154.1 208.8 154.2 208.4 154.2 207.9 154.3 207.5 154.4 207.0 154.5 206.6 154.6 206.1 154.6 205.6 154.7 205.5 154.8 202.8 151.9 202.9 151.8 203.4 151.7 203.8 151.7 204.3 151.6 204.8 151.5 205.2 151.4 205.7 151.3 206.1 151.2 206.6 151.2 207.1 151.1 207.5 151.0 208.0 150.9 208.4 150.8 208.9 150.8 209.4 150.7 209.8 150.6 210.3 150.5 210.8 150.4 211.2 150.4Z M210.6 150.3 214.6 150.3 214.6 153.3 210.6 153.3Z M202.1 151.8 206.1 151.8 206.1 154.8 202.1 154.8Z M198.4 156.1 198.0 156.2 197.5 156.3 197.1 156.4 196.6 156.5 196.2 156.5 195.7 156.6 195.3 156.7 194.8 156.8 194.4 156.9 193.9 157.0 193.5 157.1 193.0 157.2 192.6 157.3 192.1 157.3 191.7 157.4 191.3 157.5 190.8 157.6 190.4 157.7 190.1 157.8 187.3 154.9 187.6 154.8 188.0 154.7 188.5 154.6 188.9 154.5 189.4 154.5 189.8 154.4 190.2 154.3 190.7 154.2 191.1 154.1 191.6 154.0 192.0 153.9 192.5 153.8 192.9 153.7 193.4 153.6 193.8 153.6 194.3 153.5 194.7 153.4 195.2 153.3 195.6 153.2Z M195.0 153.2 199.0 153.2 199.0 156.2 195.0 156.2Z M186.7 154.8 190.7 154.8 190.7 157.8 186.7 157.8Z M183.1 159.3 182.6 159.4 182.2 159.5 181.8 159.6 181.3 159.7 180.9 159.8 180.5 159.9 180.0 160.0 179.6 160.1 179.2 160.1 178.7 160.2 178.3 160.3 177.9 160.4 177.4 160.5 177.0 160.6 176.6 160.7 176.2 160.8 175.7 160.9 175.3 161.0 174.9 161.1 172.0 158.3 172.4 158.2 172.9 158.1 173.3 158.0 173.7 157.9 174.1 157.8 174.6 157.7 175.0 157.6 175.4 157.5 175.9 157.4 176.3 157.3 176.7 157.2 177.2 157.1 177.6 157.0 178.0 156.9 178.5 156.8 178.9 156.7 179.4 156.6 179.8 156.5 180.2 156.4Z M179.6 156.3 183.6 156.3 183.6 159.3 179.6 159.3Z M171.4 158.2 175.4 158.2 175.4 161.2 171.4 161.2Z M168.1 162.8 167.7 162.9 167.3 163.0 166.8 163.1 166.4 163.2 166.0 163.3 165.6 163.4 165.2 163.5 164.8 163.6 164.3 163.7 163.9 163.8 163.5 163.9 163.1 164.0 162.7 164.1 162.3 164.2 161.9 164.4 161.5 164.5 161.0 164.6 160.6 164.7 160.2 164.8 159.8 164.9 156.9 162.0 157.3 161.9 157.7 161.8 158.1 161.7 158.5 161.6 158.9 161.5 159.3 161.4 159.8 161.3 160.2 161.2 160.6 161.1 161.0 161.0 161.4 160.8 161.8 160.7 162.3 160.6 162.7 160.5 163.1 160.4 163.5 160.3 163.9 160.2 164.4 160.1 164.8 160.0 165.2 159.9Z M164.6 159.8 168.6 159.8 168.6 162.8 164.6 162.8Z M156.3 162.0 160.3 162.0 160.3 165.0 156.3 165.0Z M153.3 166.7 152.9 166.8 152.5 166.9 152.1 167.0 151.7 167.1 151.3 167.2 150.9 167.3 150.5 167.4 150.1 167.6 149.7 167.7 149.3 167.8 148.9 167.9 148.5 168.0 148.1 168.1 147.7 168.2 147.3 168.4 147.0 168.5 146.6 168.6 146.2 168.7 145.8 168.8 145.4 168.9 145.1 169.0 142.1 166.2 142.4 166.1 142.8 166.0 143.2 165.9 143.6 165.7 144.0 165.6 144.4 165.5 144.8 165.4 145.1 165.3 145.5 165.2 145.9 165.0 146.3 164.9 146.7 164.8 147.1 164.7 147.5 164.6 147.9 164.5 148.3 164.4 148.7 164.3 149.1 164.1 149.5 164.0 149.9 163.9 150.3 163.8Z M149.8 163.7 153.8 163.7 153.8 166.7 149.8 166.7Z M141.6 166.1 145.6 166.1 145.6 169.1 141.6 169.1Z M138.8 170.9 138.4 171.0 138.0 171.2 137.7 171.3 137.3 171.4 136.9 171.5 136.5 171.6 136.1 171.8 135.8 171.9 135.4 172.0 135.0 172.1 134.6 172.3 134.3 172.4 133.9 172.5 133.5 172.6 133.1 172.7 132.8 172.9 132.4 173.0 132.0 173.1 131.6 173.2 131.3 173.4 130.9 173.5 127.8 170.7 128.2 170.5 128.6 170.4 129.0 170.3 129.3 170.2 129.7 170.0 130.1 169.9 130.5 169.8 130.8 169.7 131.2 169.6 131.6 169.4 132.0 169.3 132.3 169.2 132.7 169.1 133.1 168.9 133.5 168.8 133.9 168.7 134.2 168.6 134.6 168.5 135.0 168.3 135.4 168.2 135.8 168.1Z M135.3 168.0 139.3 168.0 139.3 171.0 135.3 171.0Z M127.4 170.6 131.4 170.6 131.4 173.6 127.4 173.6Z M124.8 175.6 124.4 175.7 124.1 175.8 123.7 176.0 123.4 176.1 123.0 176.2 122.7 176.3 122.3 176.5 121.9 176.6 121.6 176.7 121.2 176.8 120.9 177.0 120.5 177.1 120.2 177.2 119.8 177.4 119.5 177.5 119.1 177.6 118.8 177.8 118.4 177.9 118.1 178.0 117.7 178.1 117.4 178.3 117.1 178.4 114.0 175.6 114.2 175.5 114.6 175.3 114.9 175.2 115.3 175.1 115.6 175.0 116.0 174.8 116.3 174.7 116.7 174.6 117.0 174.4 117.4 174.3 117.8 174.2 118.1 174.0 118.5 173.9 118.8 173.8 119.2 173.7 119.5 173.5 119.9 173.4 120.3 173.3 120.6 173.1 121.0 173.0 121.3 172.9 121.7 172.8Z M121.3 172.7 125.3 172.7 125.3 175.7 121.3 175.7Z M113.6 175.5 117.6 175.5 117.6 178.5 113.6 178.5Z M111.3 180.6 111.0 180.7 110.6 180.9 110.3 181.0 109.9 181.2 109.6 181.3 109.3 181.4 108.9 181.6 108.6 181.7 108.3 181.8 107.9 182.0 107.6 182.1 107.3 182.2 107.0 182.4 106.6 182.5 106.3 182.6 106.0 182.8 105.6 182.9 105.3 183.1 105.0 183.2 104.7 183.3 104.3 183.5 104.0 183.6 103.9 183.7 100.7 180.9 100.8 180.8 101.1 180.7 101.5 180.6 101.8 180.4 102.1 180.3 102.4 180.1 102.8 180.0 103.1 179.9 103.4 179.7 103.8 179.6 104.1 179.5 104.4 179.3 104.8 179.2 105.1 179.0 105.4 178.9 105.8 178.8 106.1 178.6 106.4 178.5 106.8 178.4 107.1 178.2 107.4 178.1 107.8 178.0 108.1 177.8Z M107.7 177.7 111.7 177.7 111.7 180.7 107.7 180.7Z M100.3 180.8 104.3 180.8 104.3 183.8 100.3 183.8Z M98.3 186.1 98.0 186.3 97.7 186.4 97.3 186.5 97.0 186.7 96.7 186.8 96.4 187.0 96.1 187.1 95.8 187.2 95.5 187.4 95.2 187.5 94.9 187.7 94.6 187.8 94.3 188.0 94.0 188.1 93.7 188.2 93.4 188.4 93.1 188.5 92.8 188.7 92.5 188.8 92.2 189.0 91.9 189.1 91.6 189.2 91.3 189.4 91.2 189.4 87.9 186.7 88.0 186.7 88.3 186.5 88.6 186.4 88.9 186.2 89.2 186.1 89.5 185.9 89.8 185.8 90.1 185.6 90.4 185.5 90.7 185.4 91.0 185.2 91.3 185.1 91.6 184.9 91.9 184.8 92.2 184.6 92.5 184.5 92.9 184.4 93.2 184.2 93.5 184.1 93.8 183.9 94.1 183.8 94.4 183.6 94.7 183.5 95.0 183.4Z M94.7 183.2 98.7 183.2 98.7 186.2 94.7 186.2Z M87.5 186.6 91.5 186.6 91.5 189.6 87.5 189.6Z M85.9 192.1 85.6 192.2 85.3 192.4 85.1 192.5 84.8 192.7 84.5 192.8 84.2 193.0 83.9 193.1 83.7 193.2 83.4 193.4 83.1 193.5 82.8 193.7 82.5 193.8 82.3 194.0 82.0 194.1 81.7 194.3 81.4 194.4 81.2 194.6 80.9 194.7 80.6 194.9 80.3 195.0 80.1 195.2 79.8 195.3 79.5 195.5 79.3 195.6 75.9 192.9 76.2 192.8 76.5 192.6 76.7 192.5 77.0 192.3 77.3 192.2 77.6 192.0 77.8 191.9 78.1 191.7 78.4 191.6 78.7 191.4 78.9 191.3 79.2 191.1 79.5 191.0 79.8 190.8 80.1 190.7 80.3 190.5 80.6 190.4 80.9 190.2 81.2 190.1 81.5 189.9 81.8 189.8 82.0 189.6 82.3 189.5 82.6 189.3Z M82.3 189.2 86.3 189.2 86.3 192.2 82.3 192.2Z M75.6 192.8 79.6 192.8 79.6 195.8 75.6 195.8Z M74.3 198.5 74.0 198.7 73.8 198.8 73.5 199.0 73.3 199.1 73.0 199.3 72.8 199.4 72.5 199.6 72.3 199.7 72.0 199.9 71.8 200.1 71.5 200.2 71.3 200.4 71.0 200.5 70.8 200.7 70.5 200.8 70.3 201.0 70.0 201.1 69.7 201.3 69.4 201.6 69.1 201.8 68.7 202.0 68.4 202.2 68.2 202.3 64.8 199.7 65.0 199.5 65.3 199.3 65.7 199.1 66.0 198.9 66.3 198.7 66.6 198.5 66.9 198.3 67.1 198.2 67.4 198.0 67.6 197.9 67.9 197.7 68.1 197.5 68.4 197.4 68.6 197.2 68.9 197.1 69.1 196.9 69.4 196.8 69.6 196.6 69.9 196.5 70.1 196.3 70.4 196.1 70.6 196.0 70.9 195.8Z M70.6 195.7 74.6 195.7 74.6 198.7 70.6 198.7Z M64.5 199.5 68.5 199.5 68.5 202.5 64.5 202.5Z M63.7 205.4 63.4 205.6 63.1 205.8 62.8 206.0 62.5 206.2 62.2 206.4 62.0 206.6 61.7 206.9 61.4 207.1 61.1 207.3 60.8 207.5 60.5 207.7 60.2 207.9 60.0 208.1 59.7 208.3 59.4 208.6 59.1 208.8 58.8 209.0 58.6 209.2 58.3 209.4 58.2 209.5 54.7 206.9 54.8 206.8 55.1 206.6 55.3 206.4 55.6 206.2 55.9 205.9 56.2 205.7 56.5 205.5 56.7 205.3 57.0 205.1 57.3 204.9 57.6 204.7 57.9 204.4 58.2 204.2 58.5 204.0 58.8 203.8 59.1 203.6 59.4 203.4 59.7 203.2 60.0 203.0 60.3 202.7Z M60.0 202.6 64.0 202.6 64.0 205.6 60.0 205.6Z M54.5 206.7 58.5 206.7 58.5 209.7 54.5 209.7Z M54.2 212.8 54.0 213.0 53.7 213.2 53.5 213.4 53.2 213.6 53.0 213.8 52.7 214.1 52.5 214.3 52.2 214.5 52.0 214.7 51.7 214.9 51.5 215.1 51.3 215.4 51.0 215.6 50.8 215.8 50.6 216.0 50.3 216.2 50.1 216.5 49.9 216.7 49.6 216.9 49.4 217.1 45.8 214.6 46.1 214.4 46.3 214.1 46.5 213.9 46.8 213.7 47.0 213.5 47.2 213.3 47.5 213.0 47.7 212.8 47.9 212.6 48.2 212.4 48.4 212.2 48.7 211.9 48.9 211.7 49.2 211.5 49.4 211.3 49.7 211.1 49.9 210.8 50.2 210.6 50.4 210.4 50.7 210.2Z M50.4 210.0 54.4 210.0 54.4 213.0 50.4 213.0Z M45.6 214.4 49.6 214.4 49.6 217.4 45.6 217.4Z M46.0 220.6 45.8 220.8 45.6 221.0 45.4 221.3 45.2 221.5 45.0 221.7 44.8 221.9 44.6 222.1 44.4 222.4 44.2 222.6 44.1 222.8 43.9 223.0 43.7 223.3 43.5 223.5 43.3 223.7 43.1 223.9 42.9 224.1 42.8 224.4 42.6 224.6 42.4 224.8 42.2 225.0 42.1 225.2 38.4 222.8 38.5 222.6 38.7 222.4 38.9 222.2 39.1 221.9 39.3 221.7 39.5 221.5 39.6 221.3 39.8 221.0 40.0 220.8 40.2 220.6 40.4 220.4 40.6 220.1 40.8 219.9 41.0 219.7 41.2 219.5 41.4 219.2 41.6 219.0 41.8 218.8 42.0 218.6 42.2 218.3 42.4 218.1Z M42.2 217.8 46.2 217.8 46.2 220.8 42.2 220.8Z M38.2 222.5 42.2 222.5 42.2 225.5 38.2 225.5Z M39.4 228.8 39.2 229.1 39.0 229.4 38.9 229.7 38.7 230.0 38.5 230.2 38.3 230.5 38.1 230.8 38.0 231.1 37.8 231.4 37.6 231.6 37.5 231.9 37.3 232.2 37.1 232.5 37.0 232.8 36.8 233.0 36.7 233.3 36.5 233.6 36.5 233.7 32.7 231.4 32.7 231.3 32.9 231.1 33.0 230.8 33.2 230.5 33.4 230.2 33.5 229.9 33.7 229.6 33.9 229.3 34.0 229.0 34.2 228.8 34.4 228.5 34.6 228.2 34.8 227.9 34.9 227.6 35.1 227.3 35.3 227.0 35.5 226.8 35.7 226.5Z M35.6 226.2 39.6 226.2 39.6 229.2 35.6 229.2Z M32.6 231.0 36.6 231.0 36.6 234.0 32.6 234.0Z M34.6 237.5 34.5 237.8 34.4 238.0 34.2 238.3 34.1 238.6 34.0 238.9 33.9 239.3 33.7 239.6 33.6 239.9 33.5 240.3 33.4 240.6 33.2 241.0 33.1 241.3 33.0 241.6 32.9 242.0 32.8 242.3 32.8 242.4 28.9 240.4 28.9 240.3 29.0 239.9 29.2 239.6 29.3 239.2 29.4 238.9 29.5 238.5 29.6 238.2 29.7 237.9 29.9 237.5 30.0 237.2 30.1 236.8 30.3 236.5 30.4 236.2 30.5 235.9 30.6 235.6 30.8 235.3Z M30.7 234.9 34.7 234.9 34.7 237.9 30.7 237.9Z M28.8 239.9 32.8 239.9 32.8 242.9 28.8 242.9Z M31.8 246.3 31.8 246.6 31.7 247.0 31.7 247.4 31.6 247.7 31.5 248.1 31.5 248.5 31.5 248.9 31.4 249.2 31.4 249.6 31.4 249.7 27.4 248.2 27.4 248.1 27.4 247.7 27.5 247.3 27.5 246.9 27.6 246.4 27.6 246.0 27.7 245.6 27.8 245.2 27.8 244.8 27.9 244.5Z M27.9 243.9 31.9 243.9 31.9 246.9 27.9 246.9Z M27.4 247.5 31.4 247.5 31.4 250.5 27.4 250.5Z M363.2 138.5 363.7 138.5 364.3 138.5 364.8 138.5 365.3 138.5 365.8 138.5 366.4 138.5 366.9 138.5 367.4 138.5 368.0 138.5 368.5 138.5 369.0 138.6 369.5 138.6 370.1 138.6 370.6 138.6 371.1 138.6 371.6 138.6 370.2 141.6 369.7 141.6 369.2 141.6 368.7 141.6 368.1 141.6 367.6 141.5 367.1 141.5 366.6 141.5 366.1 141.5 365.6 141.5 365.1 141.5 364.6 141.5 364.1 141.5 363.6 141.5 363.1 141.5 362.6 141.5 362.1 141.5Z M360.6 138.5 364.6 138.5 364.6 141.5 360.6 141.5Z M368.9 138.6 372.9 138.6 372.9 141.6 368.9 141.6Z M379.8 138.7 380.3 138.7 380.9 138.7 381.4 138.8 381.9 138.8 382.4 138.8 382.9 138.8 383.5 138.8 384.0 138.8 384.5 138.8 385.0 138.9 385.5 138.9 386.1 138.9 386.6 138.9 387.1 138.9 387.6 138.9 388.1 138.9 386.4 141.9 385.8 141.9 385.3 141.9 384.8 141.9 384.3 141.9 383.8 141.9 383.3 141.8 382.8 141.8 382.3 141.8 381.8 141.8 381.2 141.8 380.7 141.8 380.2 141.8 379.7 141.8 379.2 141.7 378.7 141.7 378.2 141.7Z M377.0 138.7 381.0 138.7 381.0 141.7 377.0 141.7Z M385.3 138.9 389.3 138.9 389.3 141.9 385.3 141.9Z M396.3 139.2 396.8 139.2 397.3 139.3 397.8 139.3 398.3 139.3 398.9 139.3 399.4 139.3 399.9 139.4 400.4 139.4 400.9 139.4 401.4 139.4 401.9 139.5 402.5 139.5 403.0 139.5 403.5 139.5 404.0 139.6 404.5 139.6 404.7 139.6 402.7 142.6 402.5 142.6 402.0 142.5 401.5 142.5 401.0 142.5 400.5 142.5 400.0 142.4 399.5 142.4 399.0 142.4 398.4 142.4 397.9 142.4 397.4 142.3 396.9 142.3 396.4 142.3 395.9 142.3 395.4 142.2 394.9 142.2 394.4 142.2Z M393.3 139.2 397.3 139.2 397.3 142.2 393.3 142.2Z M401.7 139.6 405.7 139.6 405.7 142.6 401.7 142.6Z M412.8 140.0 413.3 140.0 413.8 140.1 414.3 140.1 414.8 140.1 415.3 140.2 415.8 140.2 416.3 140.2 416.8 140.3 417.4 140.3 417.9 140.3 418.4 140.3 418.9 140.4 419.4 140.4 419.9 140.4 420.4 140.5 420.9 140.5 421.1 140.5 418.9 143.5 418.8 143.5 418.3 143.5 417.8 143.4 417.3 143.4 416.8 143.4 416.2 143.3 415.7 143.3 415.2 143.3 414.7 143.2 414.2 143.2 413.7 143.2 413.2 143.1 412.7 143.1 412.2 143.1 411.7 143.0 411.2 143.0 410.7 143.0Z M409.7 140.0 413.7 140.0 413.7 143.0 409.7 143.0Z M418.0 140.5 422.0 140.5 422.0 143.5 418.0 143.5Z M429.1 141.1 429.6 141.1 430.1 141.2 430.6 141.2 431.1 141.2 431.6 141.3 432.1 141.3 432.6 141.4 433.1 141.4 433.6 141.4 434.1 141.5 434.6 141.5 435.2 141.6 435.7 141.6 436.2 141.6 436.7 141.7 437.2 141.7 437.5 141.8 435.2 144.7 434.9 144.7 434.4 144.6 433.9 144.6 433.4 144.6 432.9 144.5 432.4 144.5 431.9 144.4 431.4 144.4 430.9 144.4 430.4 144.3 429.9 144.3 429.4 144.2 428.9 144.2 428.4 144.2 427.9 144.1 427.4 144.1 426.9 144.1Z M426.0 141.1 430.0 141.1 430.0 144.1 426.0 144.1Z M434.4 141.7 438.4 141.7 438.4 144.7 434.4 144.7Z M445.2 142.4 445.7 142.5 446.2 142.5 446.7 142.6 447.2 142.6 447.7 142.7 448.2 142.7 448.7 142.8 449.2 142.8 449.7 142.9 450.2 142.9 450.7 143.0 451.2 143.0 451.7 143.1 452.2 143.1 452.7 143.2 453.2 143.2 453.7 143.3 451.3 146.2 450.8 146.2 450.3 146.1 449.8 146.1 449.3 146.0 448.8 146.0 448.3 145.9 447.8 145.9 447.3 145.8 446.9 145.8 446.4 145.7 445.9 145.7 445.4 145.6 444.9 145.6 444.4 145.5 443.9 145.5 443.4 145.4 442.9 145.4Z M442.0 142.4 446.0 142.4 446.0 145.4 442.0 145.4Z M450.5 143.2 454.5 143.2 454.5 146.2 450.5 146.2Z M461.5 144.1 462.0 144.2 462.5 144.2 462.9 144.3 463.4 144.3 463.9 144.4 464.4 144.4 464.9 144.5 465.4 144.6 465.9 144.6 466.4 144.7 466.9 144.7 467.4 144.8 467.9 144.9 468.3 144.9 468.8 145.0 469.3 145.0 469.8 145.1 467.3 148.0 466.8 148.0 466.3 147.9 465.9 147.9 465.4 147.8 464.9 147.7 464.4 147.7 463.9 147.6 463.4 147.6 462.9 147.5 462.4 147.4 462.0 147.4 461.5 147.3 461.0 147.3 460.5 147.2 460.0 147.2 459.5 147.1 459.0 147.1Z M458.2 144.1 462.2 144.1 462.2 147.1 458.2 147.1Z M466.6 145.1 470.6 145.1 470.6 148.1 466.6 148.1Z M477.4 146.1 477.9 146.1 478.4 146.2 478.9 146.3 479.4 146.3 479.9 146.4 480.3 146.5 480.8 146.5 481.3 146.6 481.8 146.7 482.3 146.7 482.7 146.8 483.2 146.9 483.7 146.9 484.2 147.0 484.7 147.1 485.2 147.1 485.6 147.2 485.8 147.2 483.2 150.1 483.0 150.1 482.6 150.1 482.1 150.0 481.6 149.9 481.1 149.9 480.7 149.8 480.2 149.7 479.7 149.7 479.2 149.6 478.7 149.5 478.3 149.5 477.8 149.4 477.3 149.3 476.8 149.3 476.3 149.2 475.9 149.1 475.4 149.1 474.9 149.0Z M474.2 146.0 478.2 146.0 478.2 149.0 474.2 149.0Z M482.5 147.2 486.5 147.2 486.5 150.2 482.5 150.2Z M493.4 148.3 493.9 148.4 494.4 148.5 494.8 148.6 495.3 148.6 495.8 148.7 496.3 148.8 496.7 148.9 497.2 148.9 497.7 149.0 498.1 149.1 498.6 149.2 499.1 149.2 499.5 149.3 500.0 149.4 500.5 149.5 501.0 149.5 501.4 149.6 501.7 149.7 499.1 152.6 498.8 152.5 498.3 152.5 497.8 152.4 497.4 152.3 496.9 152.2 496.4 152.2 496.0 152.1 495.5 152.0 495.0 151.9 494.6 151.9 494.1 151.8 493.6 151.7 493.1 151.6 492.7 151.6 492.2 151.5 491.7 151.4 491.3 151.3 490.8 151.3Z M490.1 148.3 494.1 148.3 494.1 151.3 490.1 151.3Z M498.4 149.6 502.4 149.6 502.4 152.6 498.4 152.6Z M509.0 150.9 509.5 151.0 509.9 151.1 510.4 151.2 510.9 151.2 511.3 151.3 511.8 151.4 512.2 151.5 512.7 151.6 513.2 151.7 513.6 151.7 514.1 151.8 514.5 151.9 515.0 152.0 515.5 152.1 515.9 152.2 516.4 152.2 516.8 152.3 517.3 152.4 517.4 152.4 514.7 155.4 514.5 155.3 514.1 155.2 513.6 155.2 513.2 155.1 512.7 155.0 512.3 154.9 511.8 154.8 511.4 154.7 510.9 154.6 510.4 154.6 510.0 154.5 509.5 154.4 509.1 154.3 508.6 154.2 508.2 154.2 507.7 154.1 507.2 154.0 506.8 153.9 506.3 153.8Z M505.7 150.9 509.7 150.9 509.7 153.9 505.7 153.9Z M514.1 152.4 518.1 152.4 518.1 155.4 514.1 155.4Z M524.7 153.9 525.1 153.9 525.6 154.0 526.0 154.1 526.5 154.2 526.9 154.3 527.3 154.4 527.8 154.5 528.2 154.6 528.7 154.7 529.1 154.8 529.6 154.9 530.0 154.9 530.5 155.0 530.9 155.1 531.3 155.2 531.8 155.3 532.2 155.4 532.7 155.5 533.0 155.6 530.2 158.5 529.9 158.4 529.4 158.3 529.0 158.2 528.5 158.1 528.1 158.0 527.7 157.9 527.2 157.8 526.8 157.7 526.3 157.7 525.9 157.6 525.4 157.5 525.0 157.4 524.6 157.3 524.1 157.2 523.7 157.1 523.2 157.0 522.8 156.9 522.3 156.8 521.9 156.7Z M521.3 153.8 525.3 153.8 525.3 156.8 521.3 156.8Z M529.6 155.5 533.6 155.5 533.6 158.5 529.6 158.5Z M540.0 157.1 540.4 157.2 540.8 157.3 541.3 157.4 541.7 157.5 542.1 157.6 542.6 157.7 543.0 157.8 543.4 157.9 543.9 158.0 544.3 158.1 544.7 158.2 545.1 158.3 545.6 158.4 546.0 158.5 546.4 158.6 546.9 158.7 547.3 158.8 547.7 158.9 548.1 159.0 545.2 161.9 544.8 161.8 544.4 161.7 544.0 161.6 543.6 161.5 543.1 161.4 542.7 161.3 542.3 161.2 541.8 161.1 541.4 161.0 541.0 160.9 540.6 160.8 540.1 160.7 539.7 160.6 539.3 160.5 538.8 160.4 538.4 160.3 538.0 160.2 537.6 160.1 537.1 160.0Z M536.5 157.0 540.5 157.0 540.5 160.0 536.5 160.0Z M544.7 158.9 548.7 158.9 548.7 161.9 544.7 161.9Z M555.0 160.7 555.4 160.8 555.9 160.9 556.3 161.0 556.7 161.1 557.1 161.2 557.5 161.3 557.9 161.5 558.3 161.6 558.8 161.7 559.2 161.8 559.6 161.9 560.0 162.0 560.4 162.1 560.8 162.2 561.2 162.3 561.6 162.4 562.0 162.5 562.5 162.7 562.9 162.8 563.1 162.8 560.2 165.7 559.9 165.6 559.5 165.5 559.1 165.4 558.7 165.3 558.3 165.2 557.9 165.1 557.5 165.0 557.1 164.9 556.6 164.7 556.2 164.6 555.8 164.5 555.4 164.4 555.0 164.3 554.6 164.2 554.2 164.1 553.8 164.0 553.3 163.9 552.9 163.8 552.5 163.7 552.1 163.6Z M551.6 160.6 555.6 160.6 555.6 163.6 551.6 163.6Z M559.7 162.8 563.7 162.8 563.7 165.8 559.7 165.8Z M569.7 164.7 570.1 164.8 570.5 164.9 570.9 165.0 571.3 165.1 571.7 165.2 572.1 165.4 572.5 165.5 572.9 165.6 573.3 165.7 573.7 165.8 574.1 165.9 574.5 166.0 574.9 166.2 575.3 166.3 575.7 166.4 576.1 166.5 576.4 166.6 576.8 166.8 577.2 166.9 577.6 167.0 577.9 167.1 574.9 169.9 574.6 169.8 574.2 169.7 573.8 169.6 573.4 169.5 573.0 169.4 572.7 169.2 572.3 169.1 571.9 169.0 571.5 168.9 571.1 168.8 570.7 168.7 570.3 168.5 569.9 168.4 569.5 168.3 569.1 168.2 568.7 168.1 568.3 168.0 567.9 167.9 567.5 167.7 567.1 167.6 566.7 167.5Z M566.2 164.6 570.2 164.6 570.2 167.6 566.2 167.6Z M574.4 167.0 578.4 167.0 578.4 170.0 574.4 170.0Z M584.2 169.0 584.5 169.1 584.9 169.3 585.3 169.4 585.7 169.5 586.0 169.6 586.4 169.8 586.8 169.9 587.2 170.0 587.5 170.1 587.9 170.2 588.3 170.4 588.7 170.5 589.0 170.6 589.4 170.7 589.8 170.9 590.2 171.0 590.5 171.1 590.9 171.2 591.3 171.4 591.6 171.5 592.0 171.6 588.9 174.4 588.6 174.3 588.2 174.2 587.8 174.1 587.4 173.9 587.1 173.8 586.7 173.7 586.3 173.6 586.0 173.4 585.6 173.3 585.2 173.2 584.9 173.1 584.5 172.9 584.1 172.8 583.7 172.7 583.4 172.6 583.0 172.5 582.6 172.3 582.2 172.2 581.9 172.1 581.5 172.0 581.1 171.9Z M580.6 168.9 584.6 168.9 584.6 171.9 580.6 171.9Z M588.5 171.5 592.5 171.5 592.5 174.5 588.5 174.5Z M598.2 173.8 598.5 173.9 598.9 174.0 599.2 174.2 599.6 174.3 600.0 174.4 600.3 174.6 600.7 174.7 601.0 174.8 601.4 175.0 601.7 175.1 602.1 175.2 602.4 175.3 602.8 175.5 603.1 175.6 603.5 175.7 603.8 175.9 604.2 176.0 604.5 176.1 604.9 176.3 605.2 176.4 605.6 176.5 605.8 176.6 602.6 179.4 602.4 179.3 602.1 179.2 601.7 179.1 601.4 178.9 601.0 178.8 600.7 178.7 600.3 178.5 600.0 178.4 599.6 178.3 599.3 178.1 598.9 178.0 598.6 177.9 598.2 177.8 597.9 177.6 597.5 177.5 597.2 177.4 596.8 177.2 596.5 177.1 596.1 177.0 595.8 176.8 595.4 176.7 595.1 176.6Z M594.6 173.7 598.6 173.7 598.6 176.7 594.6 176.7Z M602.2 176.5 606.2 176.5 606.2 179.5 602.2 179.5Z M611.7 179.0 612.0 179.1 612.3 179.2 612.7 179.4 613.0 179.5 613.3 179.6 613.7 179.8 614.0 179.9 614.3 180.1 614.7 180.2 615.0 180.3 615.3 180.5 615.6 180.6 616.0 180.7 616.3 180.9 616.6 181.0 617.0 181.2 617.3 181.3 617.6 181.4 617.9 181.6 618.2 181.7 618.6 181.9 618.9 182.0 619.0 182.0 615.8 184.8 615.7 184.8 615.4 184.6 615.0 184.5 614.7 184.3 614.4 184.2 614.1 184.1 613.7 183.9 613.4 183.8 613.1 183.7 612.8 183.5 612.4 183.4 612.1 183.2 611.8 183.1 611.5 183.0 611.1 182.8 610.8 182.7 610.5 182.6 610.2 182.4 609.8 182.3 609.5 182.1 609.2 182.0 608.8 181.9 608.5 181.7Z M608.1 178.8 612.1 178.8 612.1 181.8 608.1 181.8Z M615.4 181.9 619.4 181.9 619.4 184.9 615.4 184.9Z M624.7 184.6 625.0 184.7 625.3 184.9 625.6 185.0 625.9 185.2 626.2 185.3 626.5 185.4 626.8 185.6 627.1 185.7 627.4 185.9 627.7 186.0 628.0 186.2 628.3 186.3 628.6 186.5 628.9 186.6 629.2 186.8 629.5 186.9 629.8 187.0 630.1 187.2 630.4 187.3 630.7 187.5 631.0 187.6 631.3 187.8 631.6 187.9 628.3 190.6 628.0 190.5 627.7 190.4 627.4 190.2 627.1 190.1 626.8 189.9 626.5 189.8 626.2 189.6 625.9 189.5 625.6 189.3 625.3 189.2 625.0 189.1 624.7 188.9 624.4 188.8 624.1 188.6 623.8 188.5 623.5 188.3 623.2 188.2 622.9 188.1 622.6 187.9 622.3 187.8 622.0 187.6 621.7 187.5 621.4 187.3Z M621.0 184.5 625.0 184.5 625.0 187.5 621.0 187.5Z M627.9 187.8 631.9 187.8 631.9 190.8 627.9 190.8Z M636.9 190.7 637.2 190.8 637.5 191.0 637.8 191.1 638.1 191.3 638.3 191.4 638.6 191.6 638.9 191.7 639.2 191.9 639.4 192.0 639.7 192.2 640.0 192.3 640.3 192.5 640.5 192.6 640.8 192.8 641.1 192.9 641.4 193.1 641.6 193.2 641.9 193.4 642.2 193.5 642.4 193.7 642.7 193.8 643.0 194.0 643.2 194.2 643.5 194.3 640.1 197.0 639.9 196.8 639.6 196.7 639.3 196.5 639.1 196.4 638.8 196.2 638.5 196.1 638.3 195.9 638.0 195.8 637.7 195.6 637.5 195.5 637.2 195.3 636.9 195.2 636.7 195.0 636.4 194.9 636.1 194.7 635.8 194.6 635.6 194.4 635.3 194.3 635.0 194.1 634.7 194.0 634.5 193.8 634.2 193.7 633.9 193.5 633.6 193.4Z M633.3 190.5 637.3 190.5 637.3 193.5 633.3 193.5Z M639.8 194.2 643.8 194.2 643.8 197.2 639.8 197.2Z M648.4 197.2 648.6 197.4 648.9 197.5 649.1 197.7 649.4 197.9 649.6 198.0 649.9 198.2 650.1 198.3 650.4 198.5 650.7 198.7 651.0 198.9 651.3 199.1 651.7 199.3 652.0 199.5 652.3 199.7 652.6 199.9 652.9 200.2 653.3 200.4 653.6 200.6 653.9 200.8 654.2 201.0 654.4 201.1 650.9 203.7 650.8 203.6 650.5 203.4 650.1 203.2 649.8 203.0 649.5 202.8 649.2 202.6 648.9 202.4 648.6 202.2 648.3 202.0 647.9 201.8 647.6 201.6 647.3 201.3 647.0 201.1 646.7 201.0 646.5 200.8 646.2 200.7 646.0 200.5 645.7 200.4 645.5 200.2 645.2 200.1 645.0 199.9Z M644.7 197.1 648.7 197.1 648.7 200.1 644.7 200.1Z M650.6 200.9 654.6 200.9 654.6 203.9 650.6 203.9Z M658.9 204.3 659.2 204.5 659.5 204.7 659.7 204.9 660.0 205.1 660.3 205.4 660.6 205.6 660.9 205.8 661.2 206.0 661.5 206.2 661.7 206.4 662.0 206.7 662.3 206.9 662.6 207.1 662.8 207.3 663.1 207.5 663.4 207.7 663.6 207.9 663.9 208.2 664.2 208.4 664.2 208.4 660.7 211.0 660.7 211.0 660.4 210.8 660.1 210.5 659.9 210.3 659.6 210.1 659.3 209.9 659.1 209.7 658.8 209.5 658.5 209.2 658.2 209.0 658.0 208.8 657.7 208.6 657.4 208.4 657.1 208.2 656.8 208.0 656.6 207.8 656.3 207.5 656.0 207.3 655.7 207.1 655.4 206.9Z M655.1 204.1 659.1 204.1 659.1 207.1 655.1 207.1Z M660.5 208.2 664.5 208.2 664.5 211.2 660.5 211.2Z M668.2 211.8 668.5 212.1 668.7 212.3 668.9 212.5 669.2 212.7 669.4 212.9 669.7 213.2 669.9 213.4 670.1 213.6 670.4 213.8 670.6 214.0 670.8 214.3 671.1 214.5 671.3 214.7 671.5 214.9 671.7 215.1 672.0 215.4 672.2 215.6 672.4 215.8 672.6 216.0 672.8 216.3 669.2 218.8 669.0 218.5 668.8 218.3 668.6 218.1 668.4 217.9 668.1 217.7 667.9 217.4 667.7 217.2 667.5 217.0 667.2 216.8 667.0 216.6 666.8 216.3 666.6 216.1 666.3 215.9 666.1 215.7 665.9 215.5 665.6 215.3 665.4 215.0 665.1 214.8 664.9 214.6 664.7 214.4Z M664.4 211.6 668.4 211.6 668.4 214.6 664.4 214.6Z M669.0 216.0 673.0 216.0 673.0 219.0 669.0 219.0Z M676.2 219.8 676.4 220.1 676.6 220.3 676.7 220.5 676.9 220.7 677.1 221.0 677.3 221.2 677.5 221.4 677.7 221.7 677.9 221.9 678.1 222.1 678.2 222.3 678.4 222.6 678.6 222.8 678.8 223.0 679.0 223.3 679.2 223.6 679.4 223.9 679.6 224.1 679.8 224.4 679.9 224.5 676.2 226.9 676.1 226.8 675.9 226.5 675.7 226.3 675.5 226.0 675.3 225.7 675.1 225.4 674.9 225.2 674.7 225.0 674.6 224.8 674.4 224.5 674.2 224.3 674.0 224.1 673.8 223.9 673.7 223.6 673.5 223.4 673.3 223.2 673.1 223.0 672.9 222.8 672.7 222.5 672.5 222.3Z M672.3 219.6 676.3 219.6 676.3 222.6 672.3 222.6Z M676.1 224.2 680.1 224.2 680.1 227.2 676.1 227.2Z M682.5 228.3 682.7 228.6 682.9 228.9 683.0 229.2 683.2 229.4 683.4 229.7 683.5 230.0 683.7 230.3 683.9 230.6 684.0 230.9 684.2 231.2 684.3 231.5 684.5 231.7 684.7 232.0 684.8 232.3 684.9 232.6 685.1 232.9 685.2 233.2 685.3 233.2 681.5 235.5 681.4 235.4 681.3 235.1 681.2 234.8 681.0 234.6 680.9 234.3 680.7 234.0 680.6 233.7 680.4 233.4 680.3 233.2 680.1 232.9 679.9 232.6 679.8 232.3 679.6 232.0 679.4 231.8 679.3 231.5 679.1 231.2 678.9 230.9 678.8 230.6Z M678.6 228.0 682.6 228.0 682.6 231.0 678.6 231.0Z M681.4 232.9 685.4 232.9 685.4 235.9 681.4 235.9Z M687.0 237.2 687.1 237.5 687.3 237.9 687.4 238.2 687.5 238.5 687.6 238.9 687.7 239.2 687.8 239.6 688.0 239.9 688.1 240.3 688.2 240.6 688.3 241.0 688.4 241.3 688.5 241.7 688.5 242.0 688.6 242.3 684.7 244.2 684.6 244.0 684.6 243.6 684.5 243.3 684.4 243.0 684.3 242.6 684.2 242.3 684.1 242.0 684.0 241.6 683.9 241.3 683.8 241.0 683.6 240.6 683.5 240.3 683.4 239.9 683.3 239.6 683.1 239.3Z M683.1 236.7 687.1 236.7 687.1 239.7 683.1 239.7Z M684.7 241.8 688.7 241.8 688.7 244.8 684.7 244.8Z M689.4 246.4 689.5 246.8 689.5 247.2 689.5 247.6 689.6 248.0 689.6 248.4 689.7 248.9 689.7 249.3 689.7 249.7 689.7 250.2 689.7 250.7 689.7 251.2 689.7 251.5 685.8 252.3 685.7 252.1 685.7 251.7 685.7 251.4 685.7 251.0 685.7 250.6 685.7 250.3 685.6 249.9 685.6 249.6 685.6 249.2 685.5 248.8 685.5 248.4 685.4 248.1Z M685.4 245.7 689.4 245.7 689.4 248.7 685.4 248.7Z M685.8 250.4 689.8 250.4 689.8 253.4 685.8 253.4Z" fill="#ff8000"/>
</g>
<g fill="#6a6a6a">
<rect x="357.95" y="34.3" width="1.1" height="217"/>
<rect x="28.60" y="247" width="1.3" height="4" opacity="0.35"/>
<rect x="50.55" y="248" width="1.3" height="3"/>
<rect x="72.50" y="248" width="1.3" height="3"/>
<rect x="94.45" y="248" width="1.3" height="3"/>
<rect x="116.40" y="248" width="1.3" height="3"/>
<rect x="138.35" y="247" width="1.3" height="4"/>
<rect x="160.30" y="248" width="1.3" height="3"/>
<rect x="182.25" y="248" width="1.3" height="3"/>
<rect x="204.20" y="248" width="1.3" height="3"/>
<rect x="226.15" y="248" width="1.3" height="3"/>
<rect x="248.10" y="247" width="1.3" height="4"/>
<rect x="270.05" y="248" width="1.3" height="3"/>
<rect x="292.00" y="248" width="1.3" height="3"/>
<rect x="313.95" y="248" width="1.3" height="3"/>
<rect x="335.90" y="248" width="1.3" height="3"/>
<rect x="379.80" y="248" width="1.3" height="3"/>
<rect x="401.75" y="248" width="1.3" height="3"/>
<rect x="423.70" y="248" width="1.3" height="3"/>
<rect x="445.65" y="248" width="1.3" height="3"/>
<rect x="467.60" y="247" width="1.3" height="4"/>
<rect x="489.55" y="248" width="1.3" height="3"/>
<rect x="511.50" y="248" width="1.3" height="3"/>
<rect x="533.45" y="248" width="1.3" height="3"/>
<rect x="555.40" y="248" width="1.3" height="3"/>
<rect x="577.35" y="247" width="1.3" height="4"/>
<rect x="599.30" y="248" width="1.3" height="3"/>
<rect x="621.25" y="248" width="1.3" height="3"/>
<rect x="643.20" y="248" width="1.3" height="3"/>
<rect x="665.15" y="248" width="1.3" height="3"/>
<rect x="687.10" y="247" width="1.3" height="4" opacity="0.35"/>
<rect x="359" y="243.69" width="4.80" height="1.5"/>
<rect x="359" y="236.23" width="4.80" height="1.5"/>
<rect x="359" y="228.77" width="4.80" height="1.5"/>
<rect x="359" y="221.31" width="4.80" height="1.5"/>
<rect x="359" y="213.85" width="7.60" height="1.5"/>
<rect x="359" y="206.39" width="4.80" height="1.5"/>
<rect x="359" y="198.93" width="4.80" height="1.5"/>
<rect x="359" y="191.47" width="4.80" height="1.5"/>
<rect x="359" y="184.01" width="4.80" height="1.5"/>
<rect x="359" y="176.55" width="7.60" height="1.5"/>
<rect x="359" y="169.09" width="4.80" height="1.5"/>
<rect x="359" y="161.63" width="4.80" height="1.5"/>
<rect x="359" y="154.17" width="4.80" height="1.5"/>
<rect x="359" y="146.71" width="4.80" height="1.5"/>
<rect x="359" y="139.25" width="7.60" height="1.5"/>
<rect x="359" y="131.79" width="4.80" height="1.5"/>
<rect x="359" y="124.33" width="4.80" height="1.5"/>
<rect x="359" y="116.87" width="4.80" height="1.5"/>
<rect x="359" y="109.41" width="4.80" height="1.5"/>
<rect x="359" y="101.95" width="7.60" height="1.5"/>
<rect x="359" y="94.49" width="4.80" height="1.5"/>
<rect x="359" y="87.03" width="4.80" height="1.5"/>
<rect x="359" y="79.57" width="4.80" height="1.5"/>
<rect x="359" y="72.11" width="4.80" height="1.5"/>
<rect x="359" y="64.65" width="7.60" height="1.5"/>
<rect x="359" y="57.19" width="4.80" height="1.5"/>
<rect x="359" y="49.73" width="4.80" height="1.5"/>
<rect x="359" y="42.27" width="4.80" height="1.5"/>
<rect x="359" y="34.81" width="4.80" height="1.5"/>
</g>
<g opacity="0.999">
<rect x="1.95" y="261.90" width="15" height="1.4" fill="#6e6e6e"/>
<path fill="#6e6e6e" d="M26.45 256.50 h2.4 v10.1 h3.7 v1.4 h-9.8 v-1.4 h3.7 v-8.3 h-3.7 v-1.3 z"/>
<text transform="translate(39.15,268.00) scale(1.45,1)" font-size="18.2" text-anchor="middle">.</text>
<text transform="translate(50.45,268.00) scale(1.45,1)" font-size="18.2" text-anchor="middle">5</text>
<rect x="111.95" y="261.90" width="15" height="1.4" fill="#6e6e6e"/>
<path fill="#6e6e6e" d="M136.45 256.50 h2.4 v10.1 h3.7 v1.4 h-9.8 v-1.4 h3.7 v-8.3 h-3.7 v-1.3 z"/>
<text transform="translate(149.15,268.00) scale(1.45,1)" font-size="18.2" text-anchor="middle">.</text>
<path fill="#6e6e6e" fill-rule="evenodd" d="M154.15 262.25 a6.3 5.8 0 1 0 12.6 0 a6.3 5.8 0 1 0 -12.6 0z M156.25 262.25 a4.2 4.35 0 1 0 8.4 0 a4.2 4.35 0 1 0 -8.4 0z"/>
<rect x="221.95" y="261.90" width="15" height="1.4" fill="#6e6e6e"/>
<path fill="#6e6e6e" fill-rule="evenodd" d="M241.55 262.25 a6.3 5.8 0 1 0 12.6 0 a6.3 5.8 0 1 0 -12.6 0z M243.65 262.25 a4.2 4.35 0 1 0 8.4 0 a4.2 4.35 0 1 0 -8.4 0z"/>
<text transform="translate(259.15,268.00) scale(1.45,1)" font-size="18.2" text-anchor="middle">.</text>
<text transform="translate(270.45,268.00) scale(1.45,1)" font-size="18.2" text-anchor="middle">5</text>
<path fill="#6e6e6e" fill-rule="evenodd" d="M450.55 262.25 a6.3 5.8 0 1 0 12.6 0 a6.3 5.8 0 1 0 -12.6 0z M452.65 262.25 a4.2 4.35 0 1 0 8.4 0 a4.2 4.35 0 1 0 -8.4 0z"/>
<text transform="translate(468.15,268.00) scale(1.45,1)" font-size="18.2" text-anchor="middle">.</text>
<text transform="translate(479.65,268.00) scale(1.45,1)" font-size="18.2" text-anchor="middle">5</text>
<path fill="#6e6e6e" d="M565.45 256.50 h2.4 v10.1 h3.7 v1.4 h-9.8 v-1.4 h3.7 v-8.3 h-3.7 v-1.3 z"/>
<text transform="translate(578.15,268.00) scale(1.45,1)" font-size="18.2" text-anchor="middle">.</text>
<path fill="#6e6e6e" fill-rule="evenodd" d="M583.35 262.25 a6.3 5.8 0 1 0 12.6 0 a6.3 5.8 0 1 0 -12.6 0z M585.45 262.25 a4.2 4.35 0 1 0 8.4 0 a4.2 4.35 0 1 0 -8.4 0z"/>
<path fill="#6e6e6e" d="M675.45 256.50 h2.4 v10.1 h3.7 v1.4 h-9.8 v-1.4 h3.7 v-8.3 h-3.7 v-1.3 z"/>
<text transform="translate(688.15,268.00) scale(1.45,1)" font-size="18.2" text-anchor="middle">.</text>
<text transform="translate(699.65,268.00) scale(1.45,1)" font-size="18.2" text-anchor="middle">5</text>
<path fill="#6e6e6e" fill-rule="evenodd" d="M315.90 213.35 a6.3 5.8 0 1 0 12.6 0 a6.3 5.8 0 1 0 -12.6 0z M318.00 213.35 a4.2 4.35 0 1 0 8.4 0 a4.2 4.35 0 1 0 -8.4 0z"/>
<text transform="translate(334.00,219.10) scale(1.45,1)" font-size="18.2" text-anchor="middle">.</text>
<text transform="translate(344.80,219.10) scale(1.45,1)" font-size="18.2" text-anchor="middle">5</text>
<path fill="#6e6e6e" d="M320.80 170.30 h2.4 v10.1 h3.7 v1.4 h-9.8 v-1.4 h3.7 v-8.3 h-3.7 v-1.3 z"/>
<text transform="translate(334.00,181.80) scale(1.45,1)" font-size="18.2" text-anchor="middle">.</text>
<path fill="#6e6e6e" fill-rule="evenodd" d="M338.50 176.05 a6.3 5.8 0 1 0 12.6 0 a6.3 5.8 0 1 0 -12.6 0z M340.60 176.05 a4.2 4.35 0 1 0 8.4 0 a4.2 4.35 0 1 0 -8.4 0z"/>
<path fill="#6e6e6e" d="M320.80 133.00 h2.4 v10.1 h3.7 v1.4 h-9.8 v-1.4 h3.7 v-8.3 h-3.7 v-1.3 z"/>
<text transform="translate(334.00,144.50) scale(1.45,1)" font-size="18.2" text-anchor="middle">.</text>
<text transform="translate(344.80,144.50) scale(1.45,1)" font-size="18.2" text-anchor="middle">5</text>
<text transform="translate(322.20,107.20) scale(1.45,1)" font-size="18.2" text-anchor="middle">2</text>
<text transform="translate(334.00,107.20) scale(1.45,1)" font-size="18.2" text-anchor="middle">.</text>
<path fill="#6e6e6e" fill-rule="evenodd" d="M338.50 101.45 a6.3 5.8 0 1 0 12.6 0 a6.3 5.8 0 1 0 -12.6 0z M340.60 101.45 a4.2 4.35 0 1 0 8.4 0 a4.2 4.35 0 1 0 -8.4 0z"/>
<text transform="translate(322.20,69.90) scale(1.45,1)" font-size="18.2" text-anchor="middle">2</text>
<text transform="translate(334.00,69.90) scale(1.45,1)" font-size="18.2" text-anchor="middle">.</text>
<text transform="translate(344.80,69.90) scale(1.45,1)" font-size="18.2" text-anchor="middle">5</text>
</g>
</svg></body></html>
